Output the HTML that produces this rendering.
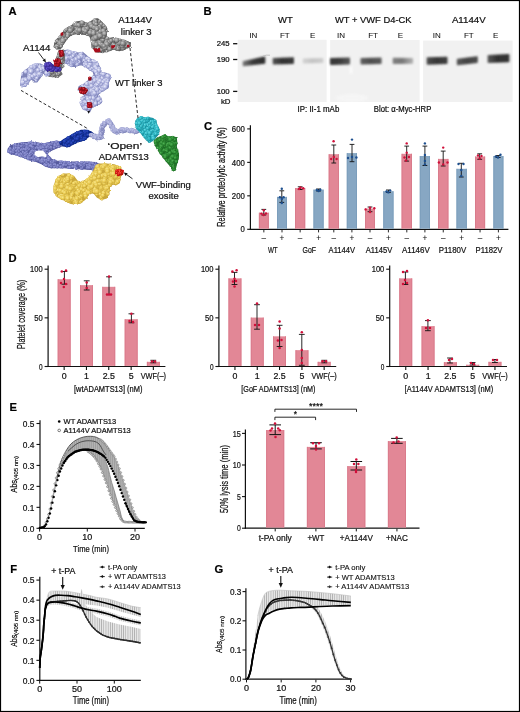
<!DOCTYPE html>
<html><head><meta charset="utf-8"><style>
html,body{margin:0;padding:0;background:#fff;width:520px;height:712px;overflow:hidden}
svg{display:block}
text{font-family:"Liberation Sans",sans-serif;stroke:#111;stroke-width:0.22px}
svg{will-change:transform}
</style></head><body>
<svg width="520" height="712" viewBox="0 0 520 712">
<defs><radialGradient id="gGray" cx="0.38" cy="0.36" r="0.7"><stop offset="0" stop-color="#cacaca"/><stop offset="0.55" stop-color="#8e8e8e"/><stop offset="1" stop-color="#505050"/></radialGradient><radialGradient id="gLav" cx="0.38" cy="0.36" r="0.7"><stop offset="0" stop-color="#eceefb"/><stop offset="0.55" stop-color="#b4b8e2"/><stop offset="1" stop-color="#7d83ba"/></radialGradient><radialGradient id="gLk" cx="0.38" cy="0.36" r="0.7"><stop offset="0" stop-color="#c8cbec"/><stop offset="0.55" stop-color="#a4a8d6"/><stop offset="1" stop-color="#7076ae"/></radialGradient><radialGradient id="gPer" cx="0.38" cy="0.36" r="0.7"><stop offset="0" stop-color="#9a9edb"/><stop offset="0.55" stop-color="#7e82c6"/><stop offset="1" stop-color="#565a9e"/></radialGradient><radialGradient id="gDB" cx="0.38" cy="0.36" r="0.7"><stop offset="0" stop-color="#3452c8"/><stop offset="0.55" stop-color="#1a38a6"/><stop offset="1" stop-color="#0c2278"/></radialGradient><radialGradient id="gCy" cx="0.38" cy="0.36" r="0.7"><stop offset="0" stop-color="#6adbe4"/><stop offset="0.55" stop-color="#2fb8c6"/><stop offset="1" stop-color="#158592"/></radialGradient><radialGradient id="gGr" cx="0.38" cy="0.36" r="0.7"><stop offset="0" stop-color="#52b056"/><stop offset="0.55" stop-color="#2c8c33"/><stop offset="1" stop-color="#18601e"/></radialGradient><radialGradient id="gYe" cx="0.38" cy="0.36" r="0.7"><stop offset="0" stop-color="#f8e68a"/><stop offset="0.55" stop-color="#e9ca52"/><stop offset="1" stop-color="#c2a033"/></radialGradient><radialGradient id="gPu" cx="0.38" cy="0.36" r="0.7"><stop offset="0" stop-color="#6a5ad0"/><stop offset="0.55" stop-color="#4a3ab0"/><stop offset="1" stop-color="#2c1e80"/></radialGradient><radialGradient id="gRed" cx="0.38" cy="0.36" r="0.7"><stop offset="0" stop-color="#ff6a50"/><stop offset="0.55" stop-color="#e01a12"/><stop offset="1" stop-color="#901010"/></radialGradient><radialGradient id="gDR" cx="0.38" cy="0.36" r="0.7"><stop offset="0" stop-color="#e04050"/><stop offset="0.55" stop-color="#b0101e"/><stop offset="1" stop-color="#700810"/></radialGradient><linearGradient id="bg0" x1="0" x2="1" y1="0" y2="0"><stop offset="0" stop-color="#777"/><stop offset="0.45" stop-color="#3a3a3a"/><stop offset="1" stop-color="#2e2e2e"/></linearGradient><linearGradient id="bg1" x1="0" x2="1" y1="0" y2="0"><stop offset="0" stop-color="#505050"/><stop offset="0.45" stop-color="#333"/><stop offset="1" stop-color="#3a3a3a"/></linearGradient><linearGradient id="bg2" x1="0" x2="1" y1="0" y2="0"><stop offset="0" stop-color="#d2d2d2"/><stop offset="0.45" stop-color="#c4c4c4"/><stop offset="1" stop-color="#cdcdcd"/></linearGradient><linearGradient id="bg3" x1="0" x2="1" y1="0" y2="0"><stop offset="0" stop-color="#363636"/><stop offset="0.45" stop-color="#3a3a3a"/><stop offset="1" stop-color="#555"/></linearGradient><linearGradient id="bg4" x1="0" x2="1" y1="0" y2="0"><stop offset="0" stop-color="#5e5e5e"/><stop offset="0.45" stop-color="#4e4e4e"/><stop offset="1" stop-color="#5a5a5a"/></linearGradient><linearGradient id="bg5" x1="0" x2="1" y1="0" y2="0"><stop offset="0" stop-color="#808080"/><stop offset="0.45" stop-color="#777"/><stop offset="1" stop-color="#b0b0b0"/></linearGradient><linearGradient id="bg6" x1="0" x2="1" y1="0" y2="0"><stop offset="0" stop-color="#4a4a4a"/><stop offset="0.45" stop-color="#383838"/><stop offset="1" stop-color="#3e3e3e"/></linearGradient><linearGradient id="bg7" x1="0" x2="1" y1="0" y2="0"><stop offset="0" stop-color="#575757"/><stop offset="0.45" stop-color="#444"/><stop offset="1" stop-color="#4a4a4a"/></linearGradient><linearGradient id="bg8" x1="0" x2="1" y1="0" y2="0"><stop offset="0" stop-color="#555"/><stop offset="0.45" stop-color="#2f2f2f"/><stop offset="1" stop-color="#333"/></linearGradient>
<filter id="blur1" x="-20%" y="-100%" width="140%" height="300%"><feGaussianBlur stdDeviation="1.05"/></filter>
<filter id="bumpy" x="-5%" y="-5%" width="110%" height="110%" color-interpolation-filters="sRGB"><feTurbulence type="fractalNoise" baseFrequency="0.35" numOctaves="1" seed="3" result="n"/><feDisplacementMap in="SourceGraphic" in2="n" scale="2.6" xChannelSelector="R" yChannelSelector="G" result="d"/><feTurbulence type="fractalNoise" baseFrequency="0.4" numOctaves="1" seed="7" result="n2"/><feDiffuseLighting in="n2" surfaceScale="1.4" diffuseConstant="1.15" lighting-color="#fff" result="light"><feDistantLight azimuth="225" elevation="50"/></feDiffuseLighting><feComposite in="d" in2="light" operator="arithmetic" k1="0.65" k2="0.42" k3="0" k4="0" result="lit"/><feComposite in="lit" in2="d" operator="in"/></filter>
<filter id="rough" x="-3%" y="-3%" width="106%" height="106%"><feTurbulence type="fractalNoise" baseFrequency="0.7" numOctaves="1" seed="5" result="n"/><feDisplacementMap in="SourceGraphic" in2="n" scale="2.2" xChannelSelector="R" yChannelSelector="G"/></filter>
<pattern id="hatch" width="1.9" height="10" patternUnits="userSpaceOnUse"><rect width="1.9" height="10" fill="#b4b4b4"/><rect width="0.7" height="10" fill="#959595"/></pattern>
<pattern id="hatchL" width="2.2" height="10" patternUnits="userSpaceOnUse"><rect width="2.2" height="10" fill="#e6e6e6"/><rect width="0.6" height="10" fill="#a0a0a0"/></pattern>
</defs>
<rect width="520" height="712" fill="#fff"/>
<rect x="0.5" y="0.5" width="519" height="711" fill="none" stroke="#000" stroke-width="1.2"/>
<text x="8.6" y="15.4" font-size="11.2" text-anchor="start" font-weight="bold" fill="#000" >A</text>
<text x="203.6" y="15.4" font-size="11.2" text-anchor="start" font-weight="bold" fill="#000" >B</text>
<text x="204.0" y="130.0" font-size="11.2" text-anchor="start" font-weight="bold" fill="#000" >C</text>
<text x="8.6" y="262.0" font-size="11.2" text-anchor="start" font-weight="bold" fill="#000" >D</text>
<text x="9.6" y="411.0" font-size="11.2" text-anchor="start" font-weight="bold" fill="#000" >E</text>
<text x="10.2" y="573.3" font-size="11.2" text-anchor="start" font-weight="bold" fill="#000" >F</text>
<text x="214.4" y="573.0" font-size="11.2" text-anchor="start" font-weight="bold" fill="#000" >G</text>
<g filter="url(#rough)">
<path d="M54.3,46.3 L55.2,41.2 L58.7,37.7 L63.0,32.5 L65.6,29.0 L70.8,26.4 L76.0,22.1 L82.0,21.2 L88.1,23.8 L91.5,21.2 L94.1,19.5 L97.6,18.7 L101.9,23.0 L105.4,26.4 L107.1,30.8 L105.4,36.0 L108.8,38.6 L114.0,37.7 L119.2,39.4 L126.2,41.2 L130.5,42.9 L129.6,46.3 L124.4,48.9 L119.2,50.7 L114.0,48.9 L108.8,50.7 L101.9,52.4 L96.7,51.5 L92.4,47.2 L91.5,40.3 L89.8,36.0 L84.6,34.2 L79.4,34.2 L74.2,33.4 L69.0,36.0 L65.6,40.3 L62.1,45.5 L60.4,48.9 L56.9,48.9 Z" fill="#5e5e5e" stroke="#5e5e5e" stroke-width="1.2" stroke-linejoin="round" />
<circle cx="75.3" cy="25.9" r="2.3" fill="url(#gGray)"/>
<circle cx="76.0" cy="27.2" r="2.7" fill="url(#gGray)"/>
<circle cx="92.8" cy="47.2" r="1.3" fill="url(#gGray)"/>
<circle cx="60.9" cy="41.5" r="2.4" fill="url(#gGray)"/>
<circle cx="95.7" cy="36.4" r="2.0" fill="url(#gGray)"/>
<circle cx="70.6" cy="34.5" r="1.6" fill="url(#gGray)"/>
<circle cx="104.8" cy="34.1" r="2.1" fill="url(#gGray)"/>
<circle cx="60.8" cy="40.1" r="2.0" fill="url(#gGray)"/>
<circle cx="70.0" cy="28.7" r="2.7" fill="url(#gGray)"/>
<circle cx="101.9" cy="31.6" r="2.4" fill="url(#gGray)"/>
<circle cx="84.4" cy="31.8" r="2.0" fill="url(#gGray)"/>
<circle cx="97.7" cy="49.7" r="2.8" fill="url(#gGray)"/>
<circle cx="79.6" cy="32.6" r="1.8" fill="url(#gGray)"/>
<circle cx="122.6" cy="48.4" r="2.1" fill="url(#gGray)"/>
<circle cx="93.3" cy="39.9" r="2.7" fill="url(#gGray)"/>
<circle cx="57.2" cy="41.3" r="2.0" fill="url(#gGray)"/>
<circle cx="63.1" cy="35.7" r="2.6" fill="url(#gGray)"/>
<circle cx="129.1" cy="45.3" r="1.7" fill="url(#gGray)"/>
<circle cx="92.6" cy="41.8" r="1.9" fill="url(#gGray)"/>
<circle cx="122.9" cy="48.0" r="2.3" fill="url(#gGray)"/>
<circle cx="100.9" cy="24.0" r="2.4" fill="url(#gGray)"/>
<circle cx="106.8" cy="41.2" r="2.9" fill="url(#gGray)"/>
<circle cx="117.6" cy="45.2" r="1.9" fill="url(#gGray)"/>
<circle cx="93.5" cy="37.9" r="2.0" fill="url(#gGray)"/>
<circle cx="108.7" cy="39.1" r="1.5" fill="url(#gGray)"/>
<circle cx="55.3" cy="42.3" r="1.3" fill="url(#gGray)"/>
<circle cx="81.9" cy="31.0" r="2.2" fill="url(#gGray)"/>
<circle cx="102.5" cy="25.2" r="2.1" fill="url(#gGray)"/>
<circle cx="96.0" cy="45.3" r="1.9" fill="url(#gGray)"/>
<circle cx="54.4" cy="46.4" r="1.0" fill="url(#gGray)"/>
<circle cx="126.9" cy="43.4" r="2.1" fill="url(#gGray)"/>
<circle cx="106.3" cy="49.4" r="2.8" fill="url(#gGray)"/>
<circle cx="86.6" cy="27.4" r="2.7" fill="url(#gGray)"/>
<circle cx="121.3" cy="43.2" r="2.2" fill="url(#gGray)"/>
<circle cx="97.3" cy="34.1" r="1.8" fill="url(#gGray)"/>
<circle cx="94.5" cy="36.1" r="2.1" fill="url(#gGray)"/>
<circle cx="69.4" cy="33.2" r="2.7" fill="url(#gGray)"/>
<circle cx="94.2" cy="38.0" r="2.0" fill="url(#gGray)"/>
<circle cx="119.9" cy="39.9" r="1.3" fill="url(#gGray)"/>
<circle cx="90.3" cy="24.5" r="2.8" fill="url(#gGray)"/>
<circle cx="90.3" cy="31.2" r="2.7" fill="url(#gGray)"/>
<circle cx="122.5" cy="46.2" r="2.2" fill="url(#gGray)"/>
<circle cx="84.1" cy="31.0" r="1.9" fill="url(#gGray)"/>
<circle cx="110.7" cy="46.0" r="2.8" fill="url(#gGray)"/>
<circle cx="108.8" cy="46.9" r="2.0" fill="url(#gGray)"/>
<circle cx="62.1" cy="37.0" r="1.9" fill="url(#gGray)"/>
<circle cx="58.9" cy="45.6" r="2.0" fill="url(#gGray)"/>
<circle cx="124.0" cy="48.4" r="1.6" fill="url(#gGray)"/>
<circle cx="100.1" cy="22.8" r="2.1" fill="url(#gGray)"/>
<circle cx="92.4" cy="24.8" r="2.4" fill="url(#gGray)"/>
<circle cx="75.6" cy="24.0" r="2.2" fill="url(#gGray)"/>
<circle cx="107.0" cy="30.9" r="1.1" fill="url(#gGray)"/>
<circle cx="105.1" cy="27.3" r="1.6" fill="url(#gGray)"/>
<circle cx="98.7" cy="29.4" r="1.9" fill="url(#gGray)"/>
<circle cx="124.1" cy="48.3" r="1.7" fill="url(#gGray)"/>
<circle cx="75.4" cy="24.4" r="2.3" fill="url(#gGray)"/>
<circle cx="93.2" cy="27.1" r="2.0" fill="url(#gGray)"/>
<circle cx="102.2" cy="33.7" r="2.5" fill="url(#gGray)"/>
<circle cx="94.7" cy="33.4" r="2.2" fill="url(#gGray)"/>
<circle cx="70.7" cy="30.4" r="2.0" fill="url(#gGray)"/>
<circle cx="102.8" cy="52.2" r="1.0" fill="url(#gGray)"/>
<circle cx="96.2" cy="35.8" r="2.9" fill="url(#gGray)"/>
<circle cx="93.9" cy="40.3" r="2.3" fill="url(#gGray)"/>
<circle cx="112.8" cy="44.5" r="2.2" fill="url(#gGray)"/>
<circle cx="93.3" cy="40.5" r="2.6" fill="url(#gGray)"/>
<circle cx="102.3" cy="44.9" r="2.1" fill="url(#gGray)"/>
<circle cx="77.0" cy="30.1" r="2.2" fill="url(#gGray)"/>
<circle cx="123.7" cy="42.3" r="2.7" fill="url(#gGray)"/>
<circle cx="94.3" cy="33.3" r="2.8" fill="url(#gGray)"/>
<circle cx="85.2" cy="31.7" r="2.8" fill="url(#gGray)"/>
<circle cx="103.1" cy="36.4" r="2.6" fill="url(#gGray)"/>
<circle cx="116.5" cy="49.0" r="1.7" fill="url(#gGray)"/>
<circle cx="97.3" cy="45.6" r="2.4" fill="url(#gGray)"/>
<circle cx="100.1" cy="34.9" r="2.1" fill="url(#gGray)"/>
<circle cx="109.2" cy="42.6" r="2.8" fill="url(#gGray)"/>
<circle cx="93.1" cy="45.3" r="2.0" fill="url(#gGray)"/>
<circle cx="105.1" cy="28.0" r="1.8" fill="url(#gGray)"/>
<circle cx="56.5" cy="46.0" r="1.9" fill="url(#gGray)"/>
<circle cx="97.4" cy="46.0" r="2.9" fill="url(#gGray)"/>
<circle cx="61.7" cy="34.9" r="1.5" fill="url(#gGray)"/>
<circle cx="102.4" cy="40.2" r="2.4" fill="url(#gGray)"/>
<circle cx="89.7" cy="33.5" r="2.7" fill="url(#gGray)"/>
<circle cx="99.8" cy="44.3" r="1.8" fill="url(#gGray)"/>
<circle cx="60.5" cy="43.5" r="2.8" fill="url(#gGray)"/>
<circle cx="95.2" cy="45.3" r="2.2" fill="url(#gGray)"/>
<circle cx="90.2" cy="24.4" r="2.3" fill="url(#gGray)"/>
<circle cx="86.9" cy="31.9" r="1.9" fill="url(#gGray)"/>
<circle cx="123.6" cy="47.5" r="2.2" fill="url(#gGray)"/>
<circle cx="118.3" cy="42.6" r="2.1" fill="url(#gGray)"/>
<circle cx="69.9" cy="28.1" r="2.2" fill="url(#gGray)"/>
<circle cx="104.7" cy="48.5" r="2.4" fill="url(#gGray)"/>
<circle cx="101.1" cy="49.7" r="2.1" fill="url(#gGray)"/>
<circle cx="79.4" cy="28.7" r="1.9" fill="url(#gGray)"/>
<circle cx="65.8" cy="38.8" r="1.8" fill="url(#gGray)"/>
<circle cx="99.5" cy="21.7" r="1.8" fill="url(#gGray)"/>
<circle cx="81.8" cy="23.9" r="2.8" fill="url(#gGray)"/>
<circle cx="90.4" cy="23.0" r="1.7" fill="url(#gGray)"/>
<circle cx="105.5" cy="35.3" r="1.1" fill="url(#gGray)"/>
<circle cx="114.1" cy="39.8" r="2.2" fill="url(#gGray)"/>
<circle cx="122.9" cy="48.1" r="2.3" fill="url(#gGray)"/>
<circle cx="74.3" cy="31.9" r="2.5" fill="url(#gGray)"/>
<circle cx="99.6" cy="26.2" r="2.0" fill="url(#gGray)"/>
<circle cx="86.3" cy="23.6" r="1.5" fill="url(#gGray)"/>
<circle cx="107.7" cy="44.4" r="2.9" fill="url(#gGray)"/>
<circle cx="56.7" cy="48.1" r="1.4" fill="url(#gGray)"/>
<circle cx="97.6" cy="29.9" r="2.5" fill="url(#gGray)"/>
<circle cx="109.5" cy="42.1" r="2.1" fill="url(#gGray)"/>
<circle cx="92.1" cy="33.3" r="2.3" fill="url(#gGray)"/>
<circle cx="84.2" cy="28.7" r="2.3" fill="url(#gGray)"/>
<circle cx="93.0" cy="38.5" r="2.0" fill="url(#gGray)"/>
<circle cx="64.3" cy="30.9" r="1.1" fill="url(#gGray)"/>
<circle cx="69.5" cy="34.5" r="2.0" fill="url(#gGray)"/>
<circle cx="107.0" cy="38.4" r="1.9" fill="url(#gGray)"/>
<circle cx="86.9" cy="31.1" r="1.9" fill="url(#gGray)"/>
<circle cx="128.9" cy="46.2" r="1.4" fill="url(#gGray)"/>
<circle cx="72.5" cy="29.0" r="2.2" fill="url(#gGray)"/>
<circle cx="68.1" cy="34.0" r="2.6" fill="url(#gGray)"/>
<circle cx="94.6" cy="20.7" r="2.0" fill="url(#gGray)"/>
<circle cx="96.9" cy="33.8" r="2.0" fill="url(#gGray)"/>
<circle cx="122.4" cy="45.7" r="2.6" fill="url(#gGray)"/>
<circle cx="105.9" cy="42.6" r="2.0" fill="url(#gGray)"/>
<circle cx="94.0" cy="44.5" r="2.2" fill="url(#gGray)"/>
<circle cx="89.6" cy="22.9" r="1.2" fill="url(#gGray)"/>
<circle cx="99.4" cy="45.8" r="1.8" fill="url(#gGray)"/>
<circle cx="95.0" cy="23.8" r="2.6" fill="url(#gGray)"/>
<circle cx="93.6" cy="32.2" r="2.7" fill="url(#gGray)"/>
<circle cx="104.2" cy="45.9" r="2.9" fill="url(#gGray)"/>
<circle cx="61.2" cy="46.0" r="1.6" fill="url(#gGray)"/>
<circle cx="60.7" cy="44.0" r="1.8" fill="url(#gGray)"/>
<circle cx="103.0" cy="39.7" r="2.1" fill="url(#gGray)"/>
<circle cx="78.4" cy="29.3" r="2.8" fill="url(#gGray)"/>
<circle cx="94.7" cy="20.2" r="1.9" fill="url(#gGray)"/>
<circle cx="72.2" cy="33.5" r="1.8" fill="url(#gGray)"/>
<circle cx="62.3" cy="43.3" r="1.9" fill="url(#gGray)"/>
<circle cx="111.1" cy="40.6" r="2.1" fill="url(#gGray)"/>
<circle cx="102.0" cy="35.3" r="2.1" fill="url(#gGray)"/>
<circle cx="91.1" cy="26.1" r="1.9" fill="url(#gGray)"/>
<circle cx="80.3" cy="32.9" r="2.0" fill="url(#gGray)"/>
<circle cx="67.9" cy="27.9" r="1.0" fill="url(#gGray)"/>
<circle cx="90.1" cy="32.6" r="2.5" fill="url(#gGray)"/>
<circle cx="97.6" cy="48.3" r="2.7" fill="url(#gGray)"/>
<circle cx="97.2" cy="35.2" r="2.6" fill="url(#gGray)"/>
<circle cx="127.3" cy="47.3" r="1.2" fill="url(#gGray)"/>
<circle cx="128.0" cy="46.7" r="1.4" fill="url(#gGray)"/>
<circle cx="125.7" cy="43.1" r="2.3" fill="url(#gGray)"/>
<circle cx="61.2" cy="38.3" r="2.1" fill="url(#gGray)"/>
<circle cx="106.1" cy="47.8" r="2.0" fill="url(#gGray)"/>
<circle cx="102.4" cy="31.3" r="2.3" fill="url(#gGray)"/>
<circle cx="101.2" cy="24.0" r="1.8" fill="url(#gGray)"/>
<circle cx="86.4" cy="25.9" r="2.1" fill="url(#gGray)"/>
<circle cx="86.7" cy="28.5" r="2.9" fill="url(#gGray)"/>
<circle cx="99.8" cy="28.6" r="2.0" fill="url(#gGray)"/>
<circle cx="95.1" cy="35.7" r="2.5" fill="url(#gGray)"/>
<circle cx="94.5" cy="22.9" r="2.3" fill="url(#gGray)"/>
<circle cx="118.2" cy="47.5" r="2.2" fill="url(#gGray)"/>
<circle cx="101.1" cy="44.2" r="2.2" fill="url(#gGray)"/>
<circle cx="76.4" cy="31.4" r="2.4" fill="url(#gGray)"/>
<circle cx="100.3" cy="32.9" r="1.9" fill="url(#gGray)"/>
<circle cx="60.6" cy="37.7" r="2.3" fill="url(#gGray)"/>
<circle cx="78.1" cy="33.0" r="2.0" fill="url(#gGray)"/>
<circle cx="90.5" cy="24.7" r="1.8" fill="url(#gGray)"/>
<circle cx="106.8" cy="44.2" r="2.6" fill="url(#gGray)"/>
<circle cx="109.4" cy="49.3" r="1.8" fill="url(#gGray)"/>
<circle cx="127.8" cy="44.2" r="1.9" fill="url(#gGray)"/>
<circle cx="97.3" cy="38.6" r="2.5" fill="url(#gGray)"/>
<circle cx="119.0" cy="42.7" r="2.8" fill="url(#gGray)"/>
<circle cx="98.7" cy="42.3" r="2.4" fill="url(#gGray)"/>
<circle cx="103.0" cy="36.3" r="2.7" fill="url(#gGray)"/>
<circle cx="96.1" cy="43.8" r="2.8" fill="url(#gGray)"/>
<circle cx="75.7" cy="24.5" r="2.6" fill="url(#gGray)"/>
<circle cx="106.8" cy="50.6" r="1.6" fill="url(#gGray)"/>
<circle cx="93.6" cy="33.2" r="2.5" fill="url(#gGray)"/>
<circle cx="107.2" cy="47.8" r="2.4" fill="url(#gGray)"/>
<circle cx="63.1" cy="39.7" r="2.3" fill="url(#gGray)"/>
<circle cx="78.5" cy="32.2" r="2.8" fill="url(#gGray)"/>
<circle cx="102.9" cy="46.0" r="1.9" fill="url(#gGray)"/>
<circle cx="93.7" cy="43.1" r="2.7" fill="url(#gGray)"/>
<circle cx="69.2" cy="31.4" r="1.9" fill="url(#gGray)"/>
<circle cx="77.1" cy="29.6" r="1.9" fill="url(#gGray)"/>
<circle cx="95.8" cy="37.8" r="2.9" fill="url(#gGray)"/>
<circle cx="99.8" cy="42.8" r="2.4" fill="url(#gGray)"/>
<circle cx="83.5" cy="29.8" r="2.3" fill="url(#gGray)"/>
<circle cx="90.5" cy="24.3" r="2.5" fill="url(#gGray)"/>
<circle cx="78.5" cy="25.2" r="2.5" fill="url(#gGray)"/>
<circle cx="71.7" cy="28.8" r="2.8" fill="url(#gGray)"/>
<circle cx="94.4" cy="38.8" r="2.2" fill="url(#gGray)"/>
<circle cx="63.0" cy="40.5" r="2.7" fill="url(#gGray)"/>
<circle cx="61.0" cy="46.4" r="1.6" fill="url(#gGray)"/>
<circle cx="98.1" cy="47.9" r="2.0" fill="url(#gGray)"/>
<circle cx="85.2" cy="25.3" r="2.0" fill="url(#gGray)"/>
<circle cx="91.6" cy="26.2" r="2.4" fill="url(#gGray)"/>
<circle cx="97.7" cy="36.7" r="2.2" fill="url(#gGray)"/>
<circle cx="126.5" cy="45.7" r="2.2" fill="url(#gGray)"/>
<circle cx="105.1" cy="47.5" r="2.7" fill="url(#gGray)"/>
<circle cx="98.7" cy="32.8" r="2.7" fill="url(#gGray)"/>
<circle cx="97.6" cy="37.0" r="2.7" fill="url(#gGray)"/>
<circle cx="67.5" cy="36.2" r="2.0" fill="url(#gGray)"/>
<circle cx="114.2" cy="45.4" r="2.1" fill="url(#gGray)"/>
<circle cx="78.8" cy="31.7" r="1.9" fill="url(#gGray)"/>
<circle cx="118.7" cy="49.0" r="2.0" fill="url(#gGray)"/>
<circle cx="94.3" cy="27.6" r="2.4" fill="url(#gGray)"/>
<circle cx="87.0" cy="34.8" r="1.2" fill="url(#gGray)"/>
<circle cx="60.0" cy="37.1" r="1.6" fill="url(#gGray)"/>
<circle cx="105.2" cy="34.1" r="1.8" fill="url(#gGray)"/>
<circle cx="103.9" cy="25.6" r="1.5" fill="url(#gGray)"/>
<circle cx="105.0" cy="47.9" r="2.3" fill="url(#gGray)"/>
<circle cx="117.8" cy="48.6" r="2.5" fill="url(#gGray)"/>
<circle cx="97.0" cy="28.3" r="2.6" fill="url(#gGray)"/>
<circle cx="99.8" cy="44.0" r="2.1" fill="url(#gGray)"/>
<circle cx="100.0" cy="35.7" r="2.9" fill="url(#gGray)"/>
<circle cx="96.0" cy="21.3" r="1.8" fill="url(#gGray)"/>
<circle cx="123.7" cy="43.8" r="2.7" fill="url(#gGray)"/>
<circle cx="122.9" cy="43.5" r="2.6" fill="url(#gGray)"/>
<circle cx="96.2" cy="44.6" r="2.3" fill="url(#gGray)"/>
<circle cx="71.8" cy="28.4" r="1.9" fill="url(#gGray)"/>
<circle cx="79.5" cy="30.2" r="2.5" fill="url(#gGray)"/>
<circle cx="71.5" cy="28.5" r="2.2" fill="url(#gGray)"/>
<circle cx="114.5" cy="47.8" r="2.2" fill="url(#gGray)"/>
<circle cx="96.2" cy="24.2" r="2.0" fill="url(#gGray)"/>
<circle cx="65.2" cy="30.8" r="1.7" fill="url(#gGray)"/>
<circle cx="66.3" cy="29.5" r="1.8" fill="url(#gGray)"/>
<circle cx="109.6" cy="49.0" r="2.3" fill="url(#gGray)"/>
<circle cx="70.4" cy="30.3" r="2.6" fill="url(#gGray)"/>
<circle cx="100.1" cy="31.2" r="2.3" fill="url(#gGray)"/>
<circle cx="85.6" cy="31.0" r="2.0" fill="url(#gGray)"/>
<circle cx="128.3" cy="45.8" r="2.1" fill="url(#gGray)"/>
<circle cx="103.4" cy="30.8" r="2.5" fill="url(#gGray)"/>
<circle cx="97.0" cy="29.2" r="2.2" fill="url(#gGray)"/>
<circle cx="116.7" cy="40.3" r="2.6" fill="url(#gGray)"/>
<circle cx="101.8" cy="44.6" r="2.0" fill="url(#gGray)"/>
<circle cx="104.6" cy="33.6" r="2.5" fill="url(#gGray)"/>
<circle cx="70.9" cy="26.6" r="1.2" fill="url(#gGray)"/>
<circle cx="73.7" cy="24.1" r="1.1" fill="url(#gGray)"/>
<circle cx="82.2" cy="22.7" r="2.3" fill="url(#gGray)"/>
<circle cx="103.9" cy="45.8" r="1.9" fill="url(#gGray)"/>
<circle cx="99.5" cy="21.1" r="1.3" fill="url(#gGray)"/>
<circle cx="95.7" cy="37.6" r="2.4" fill="url(#gGray)"/>
<path d="M46.0,71.0 L52.0,70.0 L60.0,70.5 L62.0,74.0 L58.0,77.0 L50.0,76.5 L46.0,74.5 Z" fill="#6e6e6e" stroke="#6e6e6e" stroke-width="1.2" stroke-linejoin="round" />
<circle cx="55.9" cy="71.1" r="1.8" fill="url(#gGray)"/>
<circle cx="56.6" cy="72.5" r="1.6" fill="url(#gGray)"/>
<circle cx="58.4" cy="70.7" r="1.3" fill="url(#gGray)"/>
<circle cx="57.0" cy="74.7" r="1.4" fill="url(#gGray)"/>
<circle cx="57.0" cy="74.2" r="1.7" fill="url(#gGray)"/>
<circle cx="52.5" cy="75.9" r="1.3" fill="url(#gGray)"/>
<circle cx="57.6" cy="76.8" r="1.2" fill="url(#gGray)"/>
<circle cx="46.8" cy="71.2" r="1.3" fill="url(#gGray)"/>
<circle cx="48.8" cy="74.9" r="1.3" fill="url(#gGray)"/>
<circle cx="53.6" cy="72.7" r="1.3" fill="url(#gGray)"/>
<circle cx="47.2" cy="74.8" r="1.3" fill="url(#gGray)"/>
<circle cx="53.6" cy="74.6" r="1.8" fill="url(#gGray)"/>
<circle cx="49.6" cy="73.0" r="1.6" fill="url(#gGray)"/>
<circle cx="49.8" cy="72.5" r="1.7" fill="url(#gGray)"/>
<circle cx="50.5" cy="73.3" r="2.0" fill="url(#gGray)"/>
<circle cx="54.1" cy="70.6" r="1.5" fill="url(#gGray)"/>
<circle cx="52.4" cy="72.9" r="1.7" fill="url(#gGray)"/>
<circle cx="50.4" cy="72.4" r="1.7" fill="url(#gGray)"/>
<circle cx="46.8" cy="73.2" r="1.4" fill="url(#gGray)"/>
<circle cx="52.8" cy="70.9" r="1.5" fill="url(#gGray)"/>
<circle cx="56.6" cy="71.0" r="1.6" fill="url(#gGray)"/>
<circle cx="52.0" cy="71.9" r="1.9" fill="url(#gGray)"/>
<circle cx="59.0" cy="73.5" r="1.3" fill="url(#gGray)"/>
<circle cx="59.2" cy="73.0" r="1.7" fill="url(#gGray)"/>
<path d="M93.0,48.5 L100.0,48.0 L100.5,52.0 L95.0,52.5 Z" fill="#a8101c" />
<path d="M111.0,45.5 L115.0,45.0 L115.0,48.0 L111.5,48.5 Z" fill="#a8101c" />
<path d="M60.5,33.0 L63.0,32.0 L63.5,35.0 L61.0,36.0 Z" fill="#a8101c" />
<path d="M127.0,45.0 L129.5,44.5 L129.5,47.0 L127.0,47.2 Z" fill="#a8101c" />
<path d="M20.8,85.4 L21.3,79.6 L21.9,73.8 L25.4,70.4 L28.8,68.1 L31.2,65.8 L35.8,64.0 L40.4,64.0 L43.3,65.8 L45.0,69.2 L48.5,72.7 L49.6,75.0 L46.2,75.6 L42.7,73.3 L40.4,77.3 L36.9,81.9 L33.5,81.9 L32.3,78.5 L30.0,79.6 L27.7,83.1 L25.4,86.0 L21.9,86.5 Z" fill="#7f84b8" stroke="#7f84b8" stroke-width="1.2" stroke-linejoin="round" />
<circle cx="29.3" cy="75.3" r="2.2" fill="url(#gLav)"/>
<circle cx="35.1" cy="66.6" r="2.7" fill="url(#gLav)"/>
<circle cx="31.5" cy="77.2" r="1.8" fill="url(#gLav)"/>
<circle cx="37.6" cy="69.8" r="2.1" fill="url(#gLav)"/>
<circle cx="41.6" cy="74.3" r="1.4" fill="url(#gLav)"/>
<circle cx="23.1" cy="84.2" r="2.4" fill="url(#gLav)"/>
<circle cx="36.7" cy="71.7" r="2.2" fill="url(#gLav)"/>
<circle cx="33.8" cy="72.7" r="2.7" fill="url(#gLav)"/>
<circle cx="35.3" cy="69.3" r="1.7" fill="url(#gLav)"/>
<circle cx="30.5" cy="70.1" r="2.1" fill="url(#gLav)"/>
<circle cx="22.9" cy="82.3" r="2.5" fill="url(#gLav)"/>
<circle cx="36.5" cy="66.1" r="2.0" fill="url(#gLav)"/>
<circle cx="36.1" cy="78.1" r="1.9" fill="url(#gLav)"/>
<circle cx="24.4" cy="84.9" r="2.2" fill="url(#gLav)"/>
<circle cx="30.9" cy="77.8" r="2.2" fill="url(#gLav)"/>
<circle cx="23.1" cy="82.6" r="1.9" fill="url(#gLav)"/>
<circle cx="33.7" cy="78.0" r="1.7" fill="url(#gLav)"/>
<circle cx="23.5" cy="80.2" r="2.7" fill="url(#gLav)"/>
<circle cx="38.6" cy="70.3" r="1.9" fill="url(#gLav)"/>
<circle cx="48.4" cy="73.2" r="1.3" fill="url(#gLav)"/>
<circle cx="35.5" cy="79.3" r="1.9" fill="url(#gLav)"/>
<circle cx="26.9" cy="82.9" r="1.8" fill="url(#gLav)"/>
<circle cx="39.6" cy="67.6" r="1.8" fill="url(#gLav)"/>
<circle cx="42.7" cy="68.2" r="1.8" fill="url(#gLav)"/>
<circle cx="46.2" cy="72.2" r="1.8" fill="url(#gLav)"/>
<circle cx="34.6" cy="68.9" r="2.5" fill="url(#gLav)"/>
<circle cx="31.9" cy="75.0" r="2.3" fill="url(#gLav)"/>
<circle cx="47.9" cy="74.5" r="1.8" fill="url(#gLav)"/>
<circle cx="40.9" cy="71.1" r="1.7" fill="url(#gLav)"/>
<circle cx="29.1" cy="73.4" r="1.9" fill="url(#gLav)"/>
<circle cx="36.7" cy="65.8" r="2.0" fill="url(#gLav)"/>
<circle cx="32.0" cy="71.0" r="2.6" fill="url(#gLav)"/>
<circle cx="43.7" cy="69.2" r="1.9" fill="url(#gLav)"/>
<circle cx="35.1" cy="75.1" r="2.3" fill="url(#gLav)"/>
<circle cx="46.2" cy="75.0" r="1.5" fill="url(#gLav)"/>
<circle cx="29.7" cy="76.0" r="2.0" fill="url(#gLav)"/>
<circle cx="29.8" cy="72.8" r="1.8" fill="url(#gLav)"/>
<circle cx="22.2" cy="73.8" r="1.2" fill="url(#gLav)"/>
<circle cx="35.9" cy="80.4" r="1.7" fill="url(#gLav)"/>
<circle cx="41.2" cy="75.1" r="1.4" fill="url(#gLav)"/>
<circle cx="31.9" cy="77.8" r="1.8" fill="url(#gLav)"/>
<circle cx="46.4" cy="73.2" r="2.1" fill="url(#gLav)"/>
<circle cx="41.8" cy="66.8" r="2.2" fill="url(#gLav)"/>
<circle cx="33.1" cy="77.1" r="2.5" fill="url(#gLav)"/>
<circle cx="22.6" cy="82.3" r="2.6" fill="url(#gLav)"/>
<circle cx="22.0" cy="86.4" r="1.0" fill="url(#gLav)"/>
<circle cx="40.9" cy="75.8" r="1.3" fill="url(#gLav)"/>
<circle cx="39.7" cy="66.8" r="2.2" fill="url(#gLav)"/>
<circle cx="41.1" cy="68.6" r="2.0" fill="url(#gLav)"/>
<circle cx="34.1" cy="66.4" r="2.7" fill="url(#gLav)"/>
<circle cx="38.7" cy="74.6" r="2.5" fill="url(#gLav)"/>
<circle cx="42.3" cy="69.0" r="2.3" fill="url(#gLav)"/>
<circle cx="32.5" cy="68.0" r="2.2" fill="url(#gLav)"/>
<circle cx="30.8" cy="77.4" r="2.0" fill="url(#gLav)"/>
<circle cx="38.1" cy="75.4" r="2.4" fill="url(#gLav)"/>
<circle cx="31.4" cy="67.5" r="2.4" fill="url(#gLav)"/>
<circle cx="21.9" cy="75.1" r="1.1" fill="url(#gLav)"/>
<circle cx="25.5" cy="84.9" r="1.6" fill="url(#gLav)"/>
<circle cx="30.1" cy="69.7" r="2.5" fill="url(#gLav)"/>
<circle cx="27.1" cy="81.5" r="2.4" fill="url(#gLav)"/>
<circle cx="34.2" cy="65.4" r="1.7" fill="url(#gLav)"/>
<circle cx="39.4" cy="74.0" r="2.2" fill="url(#gLav)"/>
<circle cx="36.6" cy="65.0" r="2.0" fill="url(#gLav)"/>
<circle cx="38.0" cy="70.2" r="2.1" fill="url(#gLav)"/>
<circle cx="25.7" cy="71.8" r="2.2" fill="url(#gLav)"/>
<circle cx="36.8" cy="78.0" r="1.9" fill="url(#gLav)"/>
<circle cx="31.9" cy="70.1" r="1.9" fill="url(#gLav)"/>
<circle cx="35.2" cy="64.9" r="1.6" fill="url(#gLav)"/>
<circle cx="30.1" cy="75.1" r="1.9" fill="url(#gLav)"/>
<circle cx="32.0" cy="73.0" r="1.9" fill="url(#gLav)"/>
<circle cx="25.6" cy="79.5" r="2.3" fill="url(#gLav)"/>
<circle cx="33.7" cy="67.2" r="2.6" fill="url(#gLav)"/>
<circle cx="34.6" cy="75.1" r="2.4" fill="url(#gLav)"/>
<circle cx="29.4" cy="78.1" r="2.6" fill="url(#gLav)"/>
<circle cx="31.5" cy="67.0" r="2.1" fill="url(#gLav)"/>
<circle cx="25.2" cy="79.3" r="1.9" fill="url(#gLav)"/>
<circle cx="32.4" cy="76.4" r="1.9" fill="url(#gLav)"/>
<circle cx="44.6" cy="68.5" r="1.0" fill="url(#gLav)"/>
<circle cx="43.3" cy="68.7" r="2.3" fill="url(#gLav)"/>
<circle cx="41.0" cy="69.4" r="1.7" fill="url(#gLav)"/>
<circle cx="25.8" cy="80.0" r="2.0" fill="url(#gLav)"/>
<circle cx="31.0" cy="71.2" r="2.7" fill="url(#gLav)"/>
<path d="M63.7,50.8 L67.7,50.2 L72.3,51.9 L78.1,53.1 L82.7,52.5 L86.2,55.4 L89.6,58.8 L94.2,60.6 L97.7,63.5 L100.0,68.1 L101.2,72.7 L105.8,73.3 L109.8,75.0 L110.4,78.5 L108.1,81.9 L108.1,87.7 L104.6,89.4 L101.2,91.2 L97.7,94.6 L101.2,99.2 L101.2,102.7 L96.5,105.0 L91.9,107.3 L89.6,111.9 L87.3,110.8 L82.7,108.5 L80.4,102.7 L81.5,98.1 L86.2,94.6 L82.7,93.5 L78.1,90.0 L79.2,86.5 L83.8,84.2 L89.6,79.6 L94.2,75.0 L93.1,71.5 L89.6,69.2 L85.0,65.8 L80.4,64.6 L75.8,66.3 L71.2,66.3 L67.7,64.0 L64.2,62.3 L61.9,58.8 L61.9,54.2 Z" fill="#7f84b8" stroke="#7f84b8" stroke-width="1.2" stroke-linejoin="round" />
<circle cx="104.6" cy="81.0" r="2.3" fill="url(#gLav)"/>
<circle cx="95.1" cy="67.5" r="2.1" fill="url(#gLav)"/>
<circle cx="93.1" cy="94.4" r="2.6" fill="url(#gLav)"/>
<circle cx="85.0" cy="61.0" r="1.8" fill="url(#gLav)"/>
<circle cx="93.2" cy="90.7" r="1.9" fill="url(#gLav)"/>
<circle cx="92.5" cy="83.0" r="2.5" fill="url(#gLav)"/>
<circle cx="80.0" cy="90.2" r="1.9" fill="url(#gLav)"/>
<circle cx="100.1" cy="80.1" r="1.8" fill="url(#gLav)"/>
<circle cx="66.7" cy="54.6" r="1.9" fill="url(#gLav)"/>
<circle cx="80.2" cy="90.0" r="2.2" fill="url(#gLav)"/>
<circle cx="64.2" cy="55.7" r="1.8" fill="url(#gLav)"/>
<circle cx="94.8" cy="81.0" r="1.8" fill="url(#gLav)"/>
<circle cx="96.8" cy="92.5" r="2.5" fill="url(#gLav)"/>
<circle cx="77.3" cy="63.7" r="2.3" fill="url(#gLav)"/>
<circle cx="93.8" cy="87.7" r="2.7" fill="url(#gLav)"/>
<circle cx="94.3" cy="64.9" r="1.9" fill="url(#gLav)"/>
<circle cx="101.5" cy="83.2" r="1.7" fill="url(#gLav)"/>
<circle cx="84.2" cy="102.4" r="2.2" fill="url(#gLav)"/>
<circle cx="97.4" cy="72.9" r="1.8" fill="url(#gLav)"/>
<circle cx="106.8" cy="81.4" r="2.2" fill="url(#gLav)"/>
<circle cx="80.2" cy="56.6" r="2.1" fill="url(#gLav)"/>
<circle cx="102.3" cy="90.2" r="1.4" fill="url(#gLav)"/>
<circle cx="87.6" cy="96.0" r="2.2" fill="url(#gLav)"/>
<circle cx="77.0" cy="58.8" r="1.7" fill="url(#gLav)"/>
<circle cx="93.4" cy="105.2" r="2.2" fill="url(#gLav)"/>
<circle cx="67.4" cy="61.9" r="1.9" fill="url(#gLav)"/>
<circle cx="84.4" cy="65.0" r="1.6" fill="url(#gLav)"/>
<circle cx="74.8" cy="54.2" r="2.4" fill="url(#gLav)"/>
<circle cx="96.2" cy="85.4" r="2.1" fill="url(#gLav)"/>
<circle cx="101.8" cy="76.7" r="1.8" fill="url(#gLav)"/>
<circle cx="79.5" cy="90.8" r="1.2" fill="url(#gLav)"/>
<circle cx="108.0" cy="81.9" r="1.1" fill="url(#gLav)"/>
<circle cx="90.2" cy="68.5" r="1.9" fill="url(#gLav)"/>
<circle cx="83.8" cy="93.2" r="1.6" fill="url(#gLav)"/>
<circle cx="78.0" cy="61.0" r="2.2" fill="url(#gLav)"/>
<circle cx="106.3" cy="86.2" r="2.2" fill="url(#gLav)"/>
<circle cx="94.2" cy="98.3" r="2.0" fill="url(#gLav)"/>
<circle cx="90.5" cy="67.6" r="2.1" fill="url(#gLav)"/>
<circle cx="90.0" cy="86.6" r="2.0" fill="url(#gLav)"/>
<circle cx="97.7" cy="70.6" r="2.3" fill="url(#gLav)"/>
<circle cx="87.3" cy="96.3" r="2.2" fill="url(#gLav)"/>
<circle cx="92.2" cy="93.4" r="2.6" fill="url(#gLav)"/>
<circle cx="65.4" cy="59.9" r="2.7" fill="url(#gLav)"/>
<circle cx="99.8" cy="87.2" r="2.3" fill="url(#gLav)"/>
<circle cx="99.9" cy="100.8" r="2.3" fill="url(#gLav)"/>
<circle cx="71.3" cy="62.7" r="1.9" fill="url(#gLav)"/>
<circle cx="63.8" cy="56.7" r="2.4" fill="url(#gLav)"/>
<circle cx="96.5" cy="64.6" r="1.8" fill="url(#gLav)"/>
<circle cx="87.3" cy="86.3" r="2.7" fill="url(#gLav)"/>
<circle cx="101.5" cy="80.2" r="2.2" fill="url(#gLav)"/>
<circle cx="86.2" cy="65.9" r="1.7" fill="url(#gLav)"/>
<circle cx="104.6" cy="83.0" r="1.8" fill="url(#gLav)"/>
<circle cx="86.9" cy="105.4" r="2.6" fill="url(#gLav)"/>
<circle cx="89.2" cy="102.0" r="2.0" fill="url(#gLav)"/>
<circle cx="81.6" cy="104.1" r="1.6" fill="url(#gLav)"/>
<circle cx="70.8" cy="57.6" r="2.4" fill="url(#gLav)"/>
<circle cx="79.2" cy="62.0" r="1.7" fill="url(#gLav)"/>
<circle cx="81.7" cy="52.8" r="1.2" fill="url(#gLav)"/>
<circle cx="88.5" cy="66.7" r="2.2" fill="url(#gLav)"/>
<circle cx="101.4" cy="83.7" r="2.5" fill="url(#gLav)"/>
<circle cx="94.9" cy="96.0" r="2.5" fill="url(#gLav)"/>
<circle cx="97.3" cy="84.4" r="2.1" fill="url(#gLav)"/>
<circle cx="94.0" cy="91.4" r="2.5" fill="url(#gLav)"/>
<circle cx="95.2" cy="100.1" r="2.4" fill="url(#gLav)"/>
<circle cx="104.0" cy="75.0" r="2.0" fill="url(#gLav)"/>
<circle cx="88.3" cy="86.9" r="2.1" fill="url(#gLav)"/>
<circle cx="64.4" cy="61.4" r="1.6" fill="url(#gLav)"/>
<circle cx="99.6" cy="97.9" r="1.4" fill="url(#gLav)"/>
<circle cx="66.0" cy="56.3" r="2.6" fill="url(#gLav)"/>
<circle cx="88.1" cy="58.6" r="1.9" fill="url(#gLav)"/>
<circle cx="86.5" cy="86.0" r="1.7" fill="url(#gLav)"/>
<circle cx="87.6" cy="92.3" r="2.3" fill="url(#gLav)"/>
<circle cx="95.4" cy="83.4" r="1.9" fill="url(#gLav)"/>
<circle cx="93.4" cy="69.3" r="2.3" fill="url(#gLav)"/>
<circle cx="88.1" cy="64.8" r="2.3" fill="url(#gLav)"/>
<circle cx="82.2" cy="101.8" r="2.3" fill="url(#gLav)"/>
<circle cx="104.2" cy="76.4" r="2.1" fill="url(#gLav)"/>
<circle cx="85.7" cy="60.2" r="1.9" fill="url(#gLav)"/>
<circle cx="94.2" cy="89.7" r="2.5" fill="url(#gLav)"/>
<circle cx="106.8" cy="81.7" r="2.3" fill="url(#gLav)"/>
<circle cx="84.6" cy="102.2" r="2.4" fill="url(#gLav)"/>
<circle cx="68.5" cy="64.5" r="1.0" fill="url(#gLav)"/>
<circle cx="101.4" cy="78.4" r="2.4" fill="url(#gLav)"/>
<circle cx="103.5" cy="77.8" r="2.0" fill="url(#gLav)"/>
<circle cx="94.6" cy="88.8" r="2.3" fill="url(#gLav)"/>
<circle cx="100.8" cy="81.3" r="1.8" fill="url(#gLav)"/>
<circle cx="94.6" cy="82.8" r="1.8" fill="url(#gLav)"/>
<circle cx="98.3" cy="82.0" r="1.8" fill="url(#gLav)"/>
<circle cx="108.5" cy="75.5" r="1.9" fill="url(#gLav)"/>
<circle cx="83.9" cy="98.2" r="1.9" fill="url(#gLav)"/>
<circle cx="102.3" cy="78.1" r="2.0" fill="url(#gLav)"/>
<circle cx="106.9" cy="84.7" r="2.2" fill="url(#gLav)"/>
<circle cx="92.6" cy="89.2" r="1.9" fill="url(#gLav)"/>
<circle cx="72.3" cy="52.5" r="1.6" fill="url(#gLav)"/>
<circle cx="108.8" cy="78.6" r="1.7" fill="url(#gLav)"/>
<circle cx="104.8" cy="86.7" r="1.9" fill="url(#gLav)"/>
<circle cx="87.5" cy="97.6" r="1.7" fill="url(#gLav)"/>
<circle cx="86.3" cy="92.2" r="2.6" fill="url(#gLav)"/>
<circle cx="94.6" cy="86.1" r="2.3" fill="url(#gLav)"/>
<circle cx="77.2" cy="56.6" r="2.1" fill="url(#gLav)"/>
<circle cx="68.5" cy="51.3" r="1.7" fill="url(#gLav)"/>
<circle cx="93.3" cy="66.7" r="2.3" fill="url(#gLav)"/>
<circle cx="93.8" cy="77.4" r="2.0" fill="url(#gLav)"/>
<circle cx="98.9" cy="68.6" r="2.2" fill="url(#gLav)"/>
<circle cx="75.4" cy="60.0" r="2.5" fill="url(#gLav)"/>
<circle cx="82.9" cy="57.3" r="2.7" fill="url(#gLav)"/>
<circle cx="83.7" cy="107.1" r="1.7" fill="url(#gLav)"/>
<circle cx="87.6" cy="89.2" r="2.3" fill="url(#gLav)"/>
<circle cx="65.0" cy="56.0" r="2.3" fill="url(#gLav)"/>
<circle cx="87.9" cy="93.1" r="2.5" fill="url(#gLav)"/>
<circle cx="90.3" cy="68.9" r="1.6" fill="url(#gLav)"/>
<circle cx="84.6" cy="63.9" r="1.9" fill="url(#gLav)"/>
<circle cx="70.0" cy="52.4" r="2.2" fill="url(#gLav)"/>
<circle cx="87.9" cy="99.3" r="2.3" fill="url(#gLav)"/>
<circle cx="75.3" cy="54.5" r="2.0" fill="url(#gLav)"/>
<circle cx="94.3" cy="105.3" r="1.7" fill="url(#gLav)"/>
<circle cx="80.8" cy="54.8" r="2.6" fill="url(#gLav)"/>
<circle cx="104.0" cy="75.2" r="2.2" fill="url(#gLav)"/>
<circle cx="75.0" cy="54.7" r="2.4" fill="url(#gLav)"/>
<circle cx="91.6" cy="99.1" r="1.9" fill="url(#gLav)"/>
<circle cx="87.0" cy="61.8" r="1.8" fill="url(#gLav)"/>
<circle cx="85.8" cy="61.8" r="1.9" fill="url(#gLav)"/>
<circle cx="84.4" cy="86.9" r="2.5" fill="url(#gLav)"/>
<circle cx="90.4" cy="87.3" r="2.3" fill="url(#gLav)"/>
<circle cx="89.4" cy="93.3" r="2.3" fill="url(#gLav)"/>
<circle cx="77.0" cy="64.2" r="2.0" fill="url(#gLav)"/>
<circle cx="99.0" cy="71.5" r="2.0" fill="url(#gLav)"/>
<circle cx="73.5" cy="53.7" r="2.6" fill="url(#gLav)"/>
<circle cx="93.4" cy="67.3" r="2.7" fill="url(#gLav)"/>
<circle cx="95.4" cy="79.9" r="2.5" fill="url(#gLav)"/>
<circle cx="101.4" cy="73.8" r="1.8" fill="url(#gLav)"/>
<circle cx="105.4" cy="75.4" r="1.8" fill="url(#gLav)"/>
<circle cx="73.1" cy="55.9" r="1.7" fill="url(#gLav)"/>
<circle cx="90.8" cy="91.9" r="2.4" fill="url(#gLav)"/>
<circle cx="85.1" cy="106.1" r="2.5" fill="url(#gLav)"/>
<circle cx="95.6" cy="66.9" r="2.4" fill="url(#gLav)"/>
<circle cx="95.9" cy="84.9" r="2.7" fill="url(#gLav)"/>
<circle cx="94.9" cy="102.9" r="2.7" fill="url(#gLav)"/>
<circle cx="86.2" cy="89.4" r="2.0" fill="url(#gLav)"/>
<circle cx="73.8" cy="62.4" r="2.3" fill="url(#gLav)"/>
<circle cx="109.5" cy="76.0" r="1.5" fill="url(#gLav)"/>
<circle cx="88.0" cy="111.1" r="1.1" fill="url(#gLav)"/>
<circle cx="87.4" cy="92.1" r="2.4" fill="url(#gLav)"/>
<circle cx="92.6" cy="86.7" r="2.5" fill="url(#gLav)"/>
<circle cx="92.3" cy="70.9" r="1.1" fill="url(#gLav)"/>
<circle cx="100.1" cy="101.2" r="2.1" fill="url(#gLav)"/>
<circle cx="71.3" cy="65.1" r="2.1" fill="url(#gLav)"/>
<circle cx="102.0" cy="83.6" r="2.6" fill="url(#gLav)"/>
<circle cx="89.7" cy="83.2" r="2.5" fill="url(#gLav)"/>
<circle cx="98.4" cy="75.8" r="2.5" fill="url(#gLav)"/>
<circle cx="75.7" cy="61.6" r="2.1" fill="url(#gLav)"/>
<circle cx="97.9" cy="73.3" r="2.2" fill="url(#gLav)"/>
<circle cx="87.3" cy="87.0" r="2.3" fill="url(#gLav)"/>
<circle cx="98.9" cy="78.7" r="1.7" fill="url(#gLav)"/>
<circle cx="97.4" cy="63.8" r="1.4" fill="url(#gLav)"/>
<circle cx="93.0" cy="61.0" r="1.9" fill="url(#gLav)"/>
<circle cx="104.2" cy="74.3" r="1.9" fill="url(#gLav)"/>
<circle cx="95.8" cy="87.7" r="2.4" fill="url(#gLav)"/>
<circle cx="91.9" cy="90.7" r="2.6" fill="url(#gLav)"/>
<circle cx="97.4" cy="84.7" r="2.5" fill="url(#gLav)"/>
<circle cx="109.8" cy="77.5" r="1.5" fill="url(#gLav)"/>
<circle cx="80.7" cy="90.7" r="1.9" fill="url(#gLav)"/>
<circle cx="106.8" cy="85.3" r="2.1" fill="url(#gLav)"/>
<circle cx="92.4" cy="83.1" r="2.1" fill="url(#gLav)"/>
<circle cx="93.7" cy="98.7" r="2.1" fill="url(#gLav)"/>
<circle cx="102.0" cy="89.2" r="2.5" fill="url(#gLav)"/>
<circle cx="91.1" cy="65.0" r="2.3" fill="url(#gLav)"/>
<circle cx="87.7" cy="102.9" r="2.0" fill="url(#gLav)"/>
<circle cx="84.0" cy="60.4" r="1.7" fill="url(#gLav)"/>
<circle cx="87.8" cy="58.8" r="2.0" fill="url(#gLav)"/>
<circle cx="65.1" cy="61.2" r="2.2" fill="url(#gLav)"/>
<circle cx="89.5" cy="99.2" r="1.7" fill="url(#gLav)"/>
<circle cx="101.9" cy="86.2" r="2.1" fill="url(#gLav)"/>
<circle cx="81.8" cy="91.0" r="2.4" fill="url(#gLav)"/>
<circle cx="100.4" cy="98.1" r="1.0" fill="url(#gLav)"/>
<circle cx="107.0" cy="79.8" r="2.7" fill="url(#gLav)"/>
<circle cx="75.7" cy="59.3" r="2.4" fill="url(#gLav)"/>
<circle cx="98.8" cy="96.1" r="1.0" fill="url(#gLav)"/>
<circle cx="67.1" cy="52.2" r="1.9" fill="url(#gLav)"/>
<circle cx="64.3" cy="57.8" r="1.8" fill="url(#gLav)"/>
<circle cx="64.4" cy="59.9" r="1.8" fill="url(#gLav)"/>
<circle cx="86.3" cy="64.6" r="1.8" fill="url(#gLav)"/>
<circle cx="94.2" cy="92.7" r="2.3" fill="url(#gLav)"/>
<circle cx="90.1" cy="64.3" r="2.1" fill="url(#gLav)"/>
<circle cx="99.0" cy="103.2" r="1.5" fill="url(#gLav)"/>
<circle cx="98.0" cy="79.4" r="2.4" fill="url(#gLav)"/>
<circle cx="100.9" cy="84.4" r="2.1" fill="url(#gLav)"/>
<circle cx="103.4" cy="74.2" r="2.0" fill="url(#gLav)"/>
<circle cx="72.3" cy="52.3" r="1.4" fill="url(#gLav)"/>
<circle cx="98.6" cy="99.2" r="2.3" fill="url(#gLav)"/>
<circle cx="62.4" cy="55.3" r="1.5" fill="url(#gLav)"/>
<circle cx="93.8" cy="93.9" r="2.7" fill="url(#gLav)"/>
<circle cx="86.4" cy="103.8" r="2.5" fill="url(#gLav)"/>
<circle cx="80.1" cy="57.2" r="2.5" fill="url(#gLav)"/>
<circle cx="96.6" cy="68.7" r="2.1" fill="url(#gLav)"/>
<circle cx="97.0" cy="80.2" r="2.2" fill="url(#gLav)"/>
<circle cx="103.1" cy="86.2" r="2.6" fill="url(#gLav)"/>
<circle cx="82.7" cy="104.0" r="2.4" fill="url(#gLav)"/>
<circle cx="98.2" cy="82.1" r="1.9" fill="url(#gLav)"/>
<circle cx="79.5" cy="57.7" r="2.0" fill="url(#gLav)"/>
<circle cx="88.8" cy="66.6" r="2.1" fill="url(#gLav)"/>
<circle cx="86.1" cy="87.4" r="1.7" fill="url(#gLav)"/>
<circle cx="82.2" cy="97.6" r="1.0" fill="url(#gLav)"/>
<circle cx="100.8" cy="83.9" r="2.4" fill="url(#gLav)"/>
<circle cx="64.1" cy="53.4" r="2.2" fill="url(#gLav)"/>
<circle cx="92.6" cy="82.3" r="2.4" fill="url(#gLav)"/>
<circle cx="68.4" cy="57.9" r="2.1" fill="url(#gLav)"/>
<circle cx="104.8" cy="81.0" r="2.4" fill="url(#gLav)"/>
<circle cx="93.6" cy="90.4" r="2.4" fill="url(#gLav)"/>
<circle cx="99.5" cy="91.6" r="1.9" fill="url(#gLav)"/>
<circle cx="89.1" cy="108.3" r="1.8" fill="url(#gLav)"/>
<circle cx="81.1" cy="102.6" r="1.7" fill="url(#gLav)"/>
<circle cx="63.1" cy="59.9" r="1.4" fill="url(#gLav)"/>
<circle cx="71.6" cy="63.3" r="1.9" fill="url(#gLav)"/>
<circle cx="84.4" cy="65.6" r="1.1" fill="url(#gLav)"/>
<circle cx="63.1" cy="59.5" r="1.7" fill="url(#gLav)"/>
<circle cx="87.2" cy="94.0" r="2.2" fill="url(#gLav)"/>
<circle cx="88.9" cy="103.5" r="2.3" fill="url(#gLav)"/>
<circle cx="103.3" cy="89.5" r="1.5" fill="url(#gLav)"/>
<circle cx="94.6" cy="93.0" r="2.4" fill="url(#gLav)"/>
<circle cx="99.0" cy="70.4" r="2.3" fill="url(#gLav)"/>
<circle cx="105.2" cy="82.8" r="2.2" fill="url(#gLav)"/>
<circle cx="105.2" cy="84.2" r="2.1" fill="url(#gLav)"/>
<circle cx="64.3" cy="54.2" r="1.8" fill="url(#gLav)"/>
<circle cx="93.5" cy="70.0" r="2.0" fill="url(#gLav)"/>
<circle cx="87.0" cy="58.6" r="2.2" fill="url(#gLav)"/>
<circle cx="92.2" cy="101.6" r="2.5" fill="url(#gLav)"/>
<circle cx="84.4" cy="108.2" r="2.0" fill="url(#gLav)"/>
<circle cx="87.4" cy="104.8" r="2.2" fill="url(#gLav)"/>
<circle cx="86.6" cy="93.2" r="2.5" fill="url(#gLav)"/>
<circle cx="104.7" cy="88.7" r="1.6" fill="url(#gLav)"/>
<circle cx="107.9" cy="76.1" r="2.5" fill="url(#gLav)"/>
<circle cx="106.4" cy="84.5" r="2.5" fill="url(#gLav)"/>
<circle cx="89.1" cy="59.2" r="1.7" fill="url(#gLav)"/>
<circle cx="85.9" cy="92.4" r="2.6" fill="url(#gLav)"/>
<circle cx="73.0" cy="61.3" r="2.6" fill="url(#gLav)"/>
<circle cx="91.3" cy="82.1" r="1.8" fill="url(#gLav)"/>
<circle cx="96.9" cy="89.5" r="2.5" fill="url(#gLav)"/>
<circle cx="105.3" cy="87.0" r="2.5" fill="url(#gLav)"/>
<circle cx="84.8" cy="89.4" r="2.3" fill="url(#gLav)"/>
<circle cx="85.9" cy="107.5" r="2.2" fill="url(#gLav)"/>
<circle cx="93.2" cy="98.1" r="2.4" fill="url(#gLav)"/>
<circle cx="75.8" cy="52.7" r="1.1" fill="url(#gLav)"/>
<circle cx="64.1" cy="60.0" r="1.8" fill="url(#gLav)"/>
<circle cx="100.0" cy="81.0" r="2.4" fill="url(#gLav)"/>
<circle cx="88.9" cy="61.0" r="2.1" fill="url(#gLav)"/>
<circle cx="107.5" cy="81.6" r="1.7" fill="url(#gLav)"/>
<circle cx="69.7" cy="53.3" r="2.1" fill="url(#gLav)"/>
<circle cx="88.1" cy="104.4" r="2.7" fill="url(#gLav)"/>
<circle cx="101.0" cy="101.1" r="1.2" fill="url(#gLav)"/>
<circle cx="100.2" cy="92.1" r="1.1" fill="url(#gLav)"/>
<circle cx="81.9" cy="88.6" r="2.4" fill="url(#gLav)"/>
<circle cx="82.5" cy="85.7" r="1.7" fill="url(#gLav)"/>
<circle cx="93.4" cy="88.3" r="1.8" fill="url(#gLav)"/>
<circle cx="95.7" cy="71.5" r="2.1" fill="url(#gLav)"/>
<circle cx="91.9" cy="68.4" r="1.7" fill="url(#gLav)"/>
<circle cx="85.5" cy="102.3" r="1.7" fill="url(#gLav)"/>
<circle cx="96.7" cy="74.1" r="2.0" fill="url(#gLav)"/>
<circle cx="82.3" cy="99.1" r="1.8" fill="url(#gLav)"/>
<circle cx="72.4" cy="60.4" r="1.8" fill="url(#gLav)"/>
<circle cx="91.5" cy="85.9" r="2.1" fill="url(#gLav)"/>
<circle cx="86.9" cy="83.8" r="2.4" fill="url(#gLav)"/>
<circle cx="81.3" cy="56.4" r="2.3" fill="url(#gLav)"/>
<circle cx="88.9" cy="102.1" r="2.5" fill="url(#gLav)"/>
<circle cx="90.5" cy="69.4" r="1.3" fill="url(#gLav)"/>
<circle cx="103.1" cy="81.8" r="1.9" fill="url(#gLav)"/>
<circle cx="97.4" cy="64.5" r="1.7" fill="url(#gLav)"/>
<circle cx="90.3" cy="97.7" r="1.8" fill="url(#gLav)"/>
<circle cx="79.0" cy="57.5" r="1.9" fill="url(#gLav)"/>
<circle cx="95.6" cy="103.6" r="2.1" fill="url(#gLav)"/>
<circle cx="95.9" cy="62.2" r="1.1" fill="url(#gLav)"/>
<circle cx="94.6" cy="80.5" r="2.0" fill="url(#gLav)"/>
<circle cx="98.7" cy="82.8" r="1.9" fill="url(#gLav)"/>
<circle cx="66.6" cy="58.2" r="2.2" fill="url(#gLav)"/>
<circle cx="83.5" cy="87.9" r="2.0" fill="url(#gLav)"/>
<circle cx="94.3" cy="61.6" r="1.7" fill="url(#gLav)"/>
<path d="M56.5,58.0 L59.5,50.5 L63.5,50.3 L64.5,57.0 L63.5,66.0 L60.5,70.0 L57.0,67.0 Z" fill="#6e6e6e" stroke="#6e6e6e" stroke-width="1.2" stroke-linejoin="round" />
<circle cx="58.1" cy="57.5" r="1.1" fill="url(#gGray)"/>
<circle cx="60.3" cy="63.5" r="1.3" fill="url(#gGray)"/>
<circle cx="62.0" cy="61.2" r="1.5" fill="url(#gGray)"/>
<circle cx="60.7" cy="55.3" r="1.4" fill="url(#gGray)"/>
<circle cx="56.8" cy="59.0" r="1.3" fill="url(#gGray)"/>
<circle cx="56.8" cy="60.2" r="1.1" fill="url(#gGray)"/>
<circle cx="57.8" cy="63.8" r="1.2" fill="url(#gGray)"/>
<circle cx="61.6" cy="53.4" r="1.3" fill="url(#gGray)"/>
<circle cx="59.9" cy="57.5" r="1.4" fill="url(#gGray)"/>
<circle cx="57.1" cy="59.6" r="1.3" fill="url(#gGray)"/>
<circle cx="62.9" cy="55.4" r="1.6" fill="url(#gGray)"/>
<circle cx="63.3" cy="54.0" r="1.2" fill="url(#gGray)"/>
<circle cx="63.2" cy="62.3" r="1.1" fill="url(#gGray)"/>
<circle cx="60.4" cy="65.2" r="1.4" fill="url(#gGray)"/>
<circle cx="61.1" cy="61.9" r="1.3" fill="url(#gGray)"/>
<circle cx="63.2" cy="50.4" r="1.1" fill="url(#gGray)"/>
<circle cx="62.3" cy="54.5" r="1.5" fill="url(#gGray)"/>
<circle cx="59.0" cy="52.6" r="1.3" fill="url(#gGray)"/>
<circle cx="63.0" cy="66.2" r="1.3" fill="url(#gGray)"/>
<circle cx="60.5" cy="69.4" r="1.4" fill="url(#gGray)"/>
<circle cx="57.6" cy="63.6" r="1.4" fill="url(#gGray)"/>
<circle cx="62.3" cy="57.0" r="1.3" fill="url(#gGray)"/>
<circle cx="62.9" cy="54.3" r="1.6" fill="url(#gGray)"/>
<circle cx="59.5" cy="64.4" r="1.2" fill="url(#gGray)"/>
<circle cx="58.7" cy="53.2" r="1.3" fill="url(#gGray)"/>
<circle cx="60.4" cy="54.9" r="1.2" fill="url(#gGray)"/>
<circle cx="62.4" cy="52.9" r="1.4" fill="url(#gGray)"/>
<circle cx="58.6" cy="63.8" r="1.5" fill="url(#gGray)"/>
<circle cx="61.3" cy="58.1" r="1.2" fill="url(#gGray)"/>
<circle cx="59.6" cy="64.5" r="1.7" fill="url(#gGray)"/>
<circle cx="58.9" cy="55.6" r="1.5" fill="url(#gGray)"/>
<circle cx="58.2" cy="56.1" r="1.4" fill="url(#gGray)"/>
<circle cx="61.6" cy="61.3" r="1.4" fill="url(#gGray)"/>
<path d="M45.0,63.5 L49.6,62.3 L53.1,65.2 L57.7,66.3 L60.6,68.1 L60.0,71.0 L54.2,71.5 L48.5,70.4 L45.0,68.7 Z" fill="#3a2a95" stroke="#3a2a95" stroke-width="1.2" stroke-linejoin="round" />
<circle cx="51.1" cy="68.6" r="1.3" fill="url(#gPu)"/>
<circle cx="46.9" cy="64.1" r="1.5" fill="url(#gPu)"/>
<circle cx="57.3" cy="67.5" r="1.3" fill="url(#gPu)"/>
<circle cx="50.9" cy="64.9" r="1.3" fill="url(#gPu)"/>
<circle cx="59.9" cy="70.0" r="1.3" fill="url(#gPu)"/>
<circle cx="47.1" cy="67.2" r="1.6" fill="url(#gPu)"/>
<circle cx="47.3" cy="69.1" r="1.6" fill="url(#gPu)"/>
<circle cx="48.4" cy="67.7" r="1.6" fill="url(#gPu)"/>
<circle cx="51.2" cy="68.3" r="1.9" fill="url(#gPu)"/>
<circle cx="48.2" cy="70.0" r="1.2" fill="url(#gPu)"/>
<circle cx="54.4" cy="68.7" r="1.3" fill="url(#gPu)"/>
<circle cx="52.1" cy="69.7" r="1.6" fill="url(#gPu)"/>
<circle cx="49.8" cy="63.9" r="1.7" fill="url(#gPu)"/>
<circle cx="57.4" cy="69.0" r="1.4" fill="url(#gPu)"/>
<circle cx="60.2" cy="69.4" r="1.2" fill="url(#gPu)"/>
<circle cx="46.8" cy="64.4" r="1.8" fill="url(#gPu)"/>
<circle cx="47.2" cy="69.0" r="1.7" fill="url(#gPu)"/>
<circle cx="58.5" cy="68.3" r="1.4" fill="url(#gPu)"/>
<circle cx="51.2" cy="70.7" r="1.2" fill="url(#gPu)"/>
<circle cx="53.5" cy="68.5" r="1.3" fill="url(#gPu)"/>
<circle cx="52.8" cy="69.6" r="1.4" fill="url(#gPu)"/>
<circle cx="56.1" cy="70.2" r="1.6" fill="url(#gPu)"/>
<circle cx="48.1" cy="65.3" r="1.5" fill="url(#gPu)"/>
<circle cx="45.7" cy="63.4" r="1.1" fill="url(#gPu)"/>
<circle cx="45.6" cy="65.4" r="1.5" fill="url(#gPu)"/>
<circle cx="50.8" cy="67.9" r="1.7" fill="url(#gPu)"/>
<path d="M54.2,59.8 L59.5,59.2 L60.4,63.0 L58.8,66.3 L54.8,65.5 Z" fill="#8a0c18" stroke="#8a0c18" stroke-width="1.2" stroke-linejoin="round" />
<circle cx="55.0" cy="60.2" r="1.1" fill="url(#gDR)"/>
<circle cx="56.4" cy="59.9" r="1.3" fill="url(#gDR)"/>
<circle cx="55.1" cy="63.0" r="1.1" fill="url(#gDR)"/>
<circle cx="55.9" cy="62.5" r="1.1" fill="url(#gDR)"/>
<circle cx="58.4" cy="64.8" r="1.5" fill="url(#gDR)"/>
<circle cx="57.2" cy="65.3" r="1.2" fill="url(#gDR)"/>
<circle cx="54.5" cy="60.6" r="1.2" fill="url(#gDR)"/>
<circle cx="58.8" cy="63.3" r="1.4" fill="url(#gDR)"/>
<circle cx="58.5" cy="62.7" r="1.4" fill="url(#gDR)"/>
<circle cx="59.3" cy="60.0" r="1.1" fill="url(#gDR)"/>
<circle cx="55.1" cy="65.3" r="1.2" fill="url(#gDR)"/>
<circle cx="59.5" cy="61.3" r="1.4" fill="url(#gDR)"/>
<path d="M59.0,50.8 L62.8,50.6 L63.3,55.8 L60.2,56.8 Z" fill="#8a0c18" stroke="#8a0c18" stroke-width="1.2" stroke-linejoin="round" />
<circle cx="61.6" cy="51.5" r="1.3" fill="url(#gDR)"/>
<circle cx="62.0" cy="51.8" r="1.2" fill="url(#gDR)"/>
<circle cx="61.1" cy="53.9" r="1.1" fill="url(#gDR)"/>
<circle cx="60.0" cy="52.3" r="1.1" fill="url(#gDR)"/>
<circle cx="62.2" cy="53.4" r="1.5" fill="url(#gDR)"/>
<circle cx="62.2" cy="54.9" r="1.3" fill="url(#gDR)"/>
<path d="M79.2,88.2 L84.5,87.7 L87.5,90.5 L85.0,93.8 L80.5,92.8 Z" fill="#8a0c18" stroke="#8a0c18" stroke-width="1.2" stroke-linejoin="round" />
<circle cx="86.4" cy="89.7" r="1.1" fill="url(#gDR)"/>
<circle cx="81.8" cy="91.7" r="1.1" fill="url(#gDR)"/>
<circle cx="83.1" cy="92.1" r="1.4" fill="url(#gDR)"/>
<circle cx="83.6" cy="88.9" r="1.3" fill="url(#gDR)"/>
<circle cx="85.5" cy="91.6" r="1.2" fill="url(#gDR)"/>
<circle cx="80.3" cy="89.0" r="1.5" fill="url(#gDR)"/>
<circle cx="84.3" cy="92.9" r="1.3" fill="url(#gDR)"/>
<circle cx="79.5" cy="89.2" r="1.0" fill="url(#gDR)"/>
<circle cx="83.1" cy="93.0" r="1.2" fill="url(#gDR)"/>
<circle cx="79.5" cy="89.3" r="1.0" fill="url(#gDR)"/>
<circle cx="80.8" cy="91.8" r="1.6" fill="url(#gDR)"/>
<circle cx="82.8" cy="92.9" r="1.0" fill="url(#gDR)"/>
<path d="M87.5,102.7 L91.5,103.0 L92.0,106.8 L88.0,107.5 Z" fill="#8a0c18" stroke="#8a0c18" stroke-width="1.2" stroke-linejoin="round" />
<circle cx="89.1" cy="104.0" r="1.2" fill="url(#gDR)"/>
<circle cx="90.2" cy="103.7" r="1.5" fill="url(#gDR)"/>
<circle cx="88.0" cy="105.4" r="1.2" fill="url(#gDR)"/>
<circle cx="90.8" cy="106.4" r="1.2" fill="url(#gDR)"/>
<circle cx="90.2" cy="106.7" r="1.4" fill="url(#gDR)"/>
<circle cx="88.4" cy="106.3" r="1.2" fill="url(#gDR)"/>
<path d="M88.8,77.6 L91.0,77.6 L90.7,79.8 L88.8,79.8 Z" fill="#8a0c18" stroke="#8a0c18" stroke-width="1.2" stroke-linejoin="round" />
<circle cx="89.7" cy="77.8" r="1.2" fill="url(#gDR)"/>
<path d="M87.3,110.8 L90.2,110.8 L88.6,113.8 Z" fill="#111" />
<path d="M8.1,149.2 L10.4,145.8 L17.3,143.5 L23.1,142.9 L30.0,142.3 L34.6,142.3 L40.4,143.5 L46.2,143.5 L51.9,142.0 L56.5,141.2 L60.0,142.3 L62.0,143.5 L61.0,146.5 L58.0,147.5 L53.1,149.5 L48.5,151.8 L46.5,154.0 L51.9,159.6 L56.0,161.0 L61.5,161.5 L73.1,162.1 L84.6,162.1 L96.2,162.7 L99.0,164.5 L96.0,168.5 L93.8,169.6 L84.6,169.0 L73.1,168.5 L61.5,167.3 L51.9,167.7 L46.2,166.5 L42.7,164.2 L34.6,160.8 L28.8,159.6 L23.1,157.3 L17.3,155.0 L11.5,153.8 L8.1,152.1 Z" fill="#565a9e" stroke="#565a9e" stroke-width="1.2" stroke-linejoin="round" />
<circle cx="94.8" cy="165.8" r="1.5" fill="url(#gPer)"/>
<circle cx="36.9" cy="147.4" r="1.5" fill="url(#gPer)"/>
<circle cx="44.8" cy="161.3" r="1.2" fill="url(#gPer)"/>
<circle cx="11.2" cy="150.5" r="1.6" fill="url(#gPer)"/>
<circle cx="93.0" cy="165.4" r="1.3" fill="url(#gPer)"/>
<circle cx="34.2" cy="150.4" r="1.5" fill="url(#gPer)"/>
<circle cx="44.6" cy="164.2" r="1.5" fill="url(#gPer)"/>
<circle cx="55.1" cy="163.7" r="1.3" fill="url(#gPer)"/>
<circle cx="29.3" cy="146.4" r="1.3" fill="url(#gPer)"/>
<circle cx="91.0" cy="163.2" r="1.6" fill="url(#gPer)"/>
<circle cx="38.8" cy="149.6" r="1.1" fill="url(#gPer)"/>
<circle cx="19.8" cy="155.4" r="1.5" fill="url(#gPer)"/>
<circle cx="83.7" cy="165.5" r="1.6" fill="url(#gPer)"/>
<circle cx="54.3" cy="147.6" r="1.6" fill="url(#gPer)"/>
<circle cx="55.2" cy="144.6" r="1.2" fill="url(#gPer)"/>
<circle cx="51.9" cy="162.8" r="1.1" fill="url(#gPer)"/>
<circle cx="61.8" cy="166.7" r="1.5" fill="url(#gPer)"/>
<circle cx="56.7" cy="146.5" r="1.2" fill="url(#gPer)"/>
<circle cx="89.6" cy="167.2" r="1.7" fill="url(#gPer)"/>
<circle cx="53.8" cy="164.1" r="1.4" fill="url(#gPer)"/>
<circle cx="91.7" cy="166.7" r="1.4" fill="url(#gPer)"/>
<circle cx="28.8" cy="156.8" r="1.6" fill="url(#gPer)"/>
<circle cx="51.6" cy="166.0" r="1.1" fill="url(#gPer)"/>
<circle cx="24.5" cy="155.0" r="1.5" fill="url(#gPer)"/>
<circle cx="30.1" cy="153.6" r="1.5" fill="url(#gPer)"/>
<circle cx="94.7" cy="167.0" r="1.4" fill="url(#gPer)"/>
<circle cx="76.8" cy="168.3" r="1.2" fill="url(#gPer)"/>
<circle cx="82.8" cy="167.0" r="1.0" fill="url(#gPer)"/>
<circle cx="49.5" cy="161.4" r="1.3" fill="url(#gPer)"/>
<circle cx="28.7" cy="149.2" r="1.3" fill="url(#gPer)"/>
<circle cx="55.8" cy="146.4" r="1.3" fill="url(#gPer)"/>
<circle cx="31.5" cy="151.2" r="1.4" fill="url(#gPer)"/>
<circle cx="34.1" cy="150.4" r="1.7" fill="url(#gPer)"/>
<circle cx="17.6" cy="146.3" r="1.3" fill="url(#gPer)"/>
<circle cx="66.8" cy="162.5" r="1.4" fill="url(#gPer)"/>
<circle cx="74.2" cy="163.5" r="1.1" fill="url(#gPer)"/>
<circle cx="78.0" cy="163.8" r="1.4" fill="url(#gPer)"/>
<circle cx="48.2" cy="164.1" r="1.5" fill="url(#gPer)"/>
<circle cx="10.8" cy="149.4" r="1.6" fill="url(#gPer)"/>
<circle cx="46.6" cy="143.9" r="1.4" fill="url(#gPer)"/>
<circle cx="95.8" cy="167.6" r="1.3" fill="url(#gPer)"/>
<circle cx="62.8" cy="166.4" r="1.5" fill="url(#gPer)"/>
<circle cx="32.6" cy="144.2" r="1.6" fill="url(#gPer)"/>
<circle cx="23.8" cy="153.2" r="1.1" fill="url(#gPer)"/>
<circle cx="23.1" cy="156.6" r="1.1" fill="url(#gPer)"/>
<circle cx="29.6" cy="154.6" r="1.6" fill="url(#gPer)"/>
<circle cx="30.0" cy="159.1" r="1.4" fill="url(#gPer)"/>
<circle cx="30.5" cy="142.4" r="1.1" fill="url(#gPer)"/>
<circle cx="44.7" cy="157.6" r="1.3" fill="url(#gPer)"/>
<circle cx="17.4" cy="148.2" r="1.6" fill="url(#gPer)"/>
<circle cx="74.6" cy="167.7" r="1.5" fill="url(#gPer)"/>
<circle cx="51.4" cy="148.9" r="1.1" fill="url(#gPer)"/>
<circle cx="87.3" cy="167.8" r="1.6" fill="url(#gPer)"/>
<circle cx="31.3" cy="153.9" r="1.4" fill="url(#gPer)"/>
<circle cx="88.8" cy="165.2" r="1.2" fill="url(#gPer)"/>
<circle cx="30.1" cy="152.8" r="1.1" fill="url(#gPer)"/>
<circle cx="90.9" cy="167.5" r="1.4" fill="url(#gPer)"/>
<circle cx="71.0" cy="166.9" r="1.2" fill="url(#gPer)"/>
<circle cx="8.8" cy="150.9" r="1.3" fill="url(#gPer)"/>
<circle cx="45.2" cy="152.3" r="1.4" fill="url(#gPer)"/>
<circle cx="32.9" cy="148.5" r="1.3" fill="url(#gPer)"/>
<circle cx="65.6" cy="164.6" r="1.6" fill="url(#gPer)"/>
<circle cx="56.9" cy="146.0" r="1.6" fill="url(#gPer)"/>
<circle cx="54.6" cy="144.2" r="1.4" fill="url(#gPer)"/>
<circle cx="33.5" cy="157.9" r="1.2" fill="url(#gPer)"/>
<circle cx="10.7" cy="153.0" r="1.4" fill="url(#gPer)"/>
<circle cx="31.0" cy="142.5" r="1.2" fill="url(#gPer)"/>
<circle cx="47.7" cy="156.2" r="1.3" fill="url(#gPer)"/>
<circle cx="77.0" cy="164.3" r="1.4" fill="url(#gPer)"/>
<circle cx="29.3" cy="145.9" r="1.2" fill="url(#gPer)"/>
<circle cx="84.1" cy="163.8" r="1.3" fill="url(#gPer)"/>
<circle cx="37.6" cy="147.7" r="1.6" fill="url(#gPer)"/>
<circle cx="41.8" cy="147.4" r="1.5" fill="url(#gPer)"/>
<circle cx="80.0" cy="165.7" r="1.3" fill="url(#gPer)"/>
<circle cx="29.9" cy="158.9" r="1.2" fill="url(#gPer)"/>
<circle cx="28.2" cy="147.0" r="1.5" fill="url(#gPer)"/>
<circle cx="24.0" cy="146.3" r="1.3" fill="url(#gPer)"/>
<circle cx="30.5" cy="152.8" r="1.6" fill="url(#gPer)"/>
<circle cx="30.9" cy="145.1" r="1.7" fill="url(#gPer)"/>
<circle cx="23.1" cy="147.9" r="1.2" fill="url(#gPer)"/>
<circle cx="19.9" cy="153.1" r="1.3" fill="url(#gPer)"/>
<circle cx="87.6" cy="167.4" r="1.7" fill="url(#gPer)"/>
<circle cx="28.2" cy="155.2" r="1.3" fill="url(#gPer)"/>
<circle cx="89.0" cy="162.5" r="1.2" fill="url(#gPer)"/>
<circle cx="22.9" cy="152.8" r="1.2" fill="url(#gPer)"/>
<circle cx="59.8" cy="161.4" r="1.0" fill="url(#gPer)"/>
<circle cx="94.7" cy="167.6" r="1.2" fill="url(#gPer)"/>
<circle cx="70.2" cy="162.2" r="1.3" fill="url(#gPer)"/>
<circle cx="55.8" cy="166.2" r="1.6" fill="url(#gPer)"/>
<circle cx="47.9" cy="144.3" r="1.7" fill="url(#gPer)"/>
<circle cx="32.6" cy="148.9" r="1.3" fill="url(#gPer)"/>
<circle cx="38.1" cy="145.3" r="1.2" fill="url(#gPer)"/>
<circle cx="42.5" cy="158.7" r="1.7" fill="url(#gPer)"/>
<circle cx="47.3" cy="149.9" r="1.4" fill="url(#gPer)"/>
<circle cx="43.0" cy="158.1" r="1.0" fill="url(#gPer)"/>
<circle cx="93.8" cy="169.2" r="1.4" fill="url(#gPer)"/>
<circle cx="72.7" cy="163.5" r="1.3" fill="url(#gPer)"/>
<circle cx="41.4" cy="143.5" r="1.0" fill="url(#gPer)"/>
<circle cx="13.2" cy="152.2" r="1.6" fill="url(#gPer)"/>
<circle cx="69.2" cy="164.4" r="1.4" fill="url(#gPer)"/>
<circle cx="16.9" cy="152.2" r="1.0" fill="url(#gPer)"/>
<circle cx="89.6" cy="164.1" r="1.5" fill="url(#gPer)"/>
<circle cx="44.9" cy="149.8" r="1.3" fill="url(#gPer)"/>
<circle cx="9.3" cy="151.2" r="1.7" fill="url(#gPer)"/>
<circle cx="68.3" cy="163.8" r="1.2" fill="url(#gPer)"/>
<circle cx="21.2" cy="145.5" r="1.1" fill="url(#gPer)"/>
<circle cx="75.1" cy="162.9" r="1.1" fill="url(#gPer)"/>
<circle cx="48.5" cy="157.5" r="1.7" fill="url(#gPer)"/>
<circle cx="60.2" cy="162.1" r="1.1" fill="url(#gPer)"/>
<circle cx="43.4" cy="144.5" r="1.3" fill="url(#gPer)"/>
<circle cx="49.3" cy="145.5" r="1.2" fill="url(#gPer)"/>
<circle cx="15.1" cy="146.8" r="1.2" fill="url(#gPer)"/>
<circle cx="47.4" cy="145.4" r="1.3" fill="url(#gPer)"/>
<circle cx="56.7" cy="144.2" r="1.4" fill="url(#gPer)"/>
<circle cx="39.2" cy="160.8" r="1.1" fill="url(#gPer)"/>
<circle cx="61.2" cy="161.8" r="1.2" fill="url(#gPer)"/>
<circle cx="26.7" cy="153.3" r="1.6" fill="url(#gPer)"/>
<circle cx="42.2" cy="162.3" r="1.3" fill="url(#gPer)"/>
<circle cx="29.0" cy="158.6" r="1.3" fill="url(#gPer)"/>
<circle cx="22.6" cy="145.8" r="1.5" fill="url(#gPer)"/>
<circle cx="62.4" cy="161.7" r="1.1" fill="url(#gPer)"/>
<circle cx="50.7" cy="160.8" r="1.3" fill="url(#gPer)"/>
<circle cx="58.6" cy="146.4" r="1.6" fill="url(#gPer)"/>
<circle cx="60.8" cy="144.6" r="1.2" fill="url(#gPer)"/>
<circle cx="46.8" cy="162.3" r="1.4" fill="url(#gPer)"/>
<circle cx="24.7" cy="156.8" r="1.4" fill="url(#gPer)"/>
<circle cx="69.7" cy="167.2" r="1.5" fill="url(#gPer)"/>
<circle cx="10.0" cy="148.2" r="1.1" fill="url(#gPer)"/>
<circle cx="32.9" cy="160.4" r="1.1" fill="url(#gPer)"/>
<circle cx="48.7" cy="148.2" r="1.4" fill="url(#gPer)"/>
<circle cx="67.9" cy="167.3" r="1.1" fill="url(#gPer)"/>
<circle cx="42.5" cy="160.2" r="1.1" fill="url(#gPer)"/>
<circle cx="79.0" cy="163.4" r="1.6" fill="url(#gPer)"/>
<circle cx="47.4" cy="152.8" r="1.1" fill="url(#gPer)"/>
<circle cx="18.1" cy="149.2" r="1.6" fill="url(#gPer)"/>
<circle cx="78.8" cy="163.5" r="1.3" fill="url(#gPer)"/>
<circle cx="34.4" cy="158.6" r="1.4" fill="url(#gPer)"/>
<circle cx="64.8" cy="162.1" r="1.5" fill="url(#gPer)"/>
<circle cx="13.0" cy="150.2" r="1.4" fill="url(#gPer)"/>
<circle cx="62.6" cy="167.2" r="1.2" fill="url(#gPer)"/>
<circle cx="69.6" cy="167.7" r="1.4" fill="url(#gPer)"/>
<circle cx="51.3" cy="167.3" r="1.3" fill="url(#gPer)"/>
<circle cx="34.9" cy="160.9" r="1.0" fill="url(#gPer)"/>
<circle cx="58.0" cy="166.6" r="1.5" fill="url(#gPer)"/>
<circle cx="33.7" cy="148.3" r="1.6" fill="url(#gPer)"/>
<circle cx="43.0" cy="162.0" r="1.4" fill="url(#gPer)"/>
<circle cx="26.3" cy="145.2" r="1.1" fill="url(#gPer)"/>
<circle cx="48.8" cy="159.5" r="1.7" fill="url(#gPer)"/>
<circle cx="41.7" cy="148.1" r="1.6" fill="url(#gPer)"/>
<circle cx="81.6" cy="163.5" r="1.6" fill="url(#gPer)"/>
<circle cx="80.9" cy="168.3" r="1.1" fill="url(#gPer)"/>
<circle cx="51.0" cy="144.2" r="1.5" fill="url(#gPer)"/>
<circle cx="50.2" cy="157.8" r="1.0" fill="url(#gPer)"/>
<circle cx="49.2" cy="165.9" r="1.6" fill="url(#gPer)"/>
<circle cx="68.2" cy="163.1" r="1.3" fill="url(#gPer)"/>
<circle cx="35.7" cy="156.4" r="1.4" fill="url(#gPer)"/>
<circle cx="22.0" cy="148.3" r="1.0" fill="url(#gPer)"/>
<circle cx="49.5" cy="159.3" r="1.0" fill="url(#gPer)"/>
<circle cx="47.9" cy="147.4" r="1.4" fill="url(#gPer)"/>
<circle cx="54.3" cy="167.0" r="1.3" fill="url(#gPer)"/>
<circle cx="27.6" cy="145.9" r="1.0" fill="url(#gPer)"/>
<circle cx="27.1" cy="147.2" r="1.1" fill="url(#gPer)"/>
<circle cx="22.5" cy="146.3" r="1.6" fill="url(#gPer)"/>
<circle cx="37.0" cy="159.2" r="1.2" fill="url(#gPer)"/>
<circle cx="33.5" cy="156.6" r="1.3" fill="url(#gPer)"/>
<circle cx="51.3" cy="165.6" r="1.7" fill="url(#gPer)"/>
<circle cx="32.5" cy="153.1" r="1.4" fill="url(#gPer)"/>
<circle cx="66.1" cy="165.0" r="1.1" fill="url(#gPer)"/>
<circle cx="24.6" cy="153.2" r="1.6" fill="url(#gPer)"/>
<circle cx="35.9" cy="159.5" r="1.1" fill="url(#gPer)"/>
<circle cx="15.8" cy="145.9" r="1.4" fill="url(#gPer)"/>
<circle cx="32.2" cy="148.1" r="1.7" fill="url(#gPer)"/>
<circle cx="45.0" cy="144.4" r="1.5" fill="url(#gPer)"/>
<circle cx="55.5" cy="161.1" r="1.3" fill="url(#gPer)"/>
<circle cx="53.0" cy="143.5" r="1.4" fill="url(#gPer)"/>
<circle cx="33.0" cy="151.5" r="1.4" fill="url(#gPer)"/>
<circle cx="53.9" cy="163.5" r="1.1" fill="url(#gPer)"/>
<circle cx="18.4" cy="154.9" r="1.2" fill="url(#gPer)"/>
<circle cx="75.1" cy="166.4" r="1.7" fill="url(#gPer)"/>
<circle cx="21.4" cy="149.7" r="1.7" fill="url(#gPer)"/>
<circle cx="51.0" cy="147.3" r="1.6" fill="url(#gPer)"/>
<circle cx="42.6" cy="149.7" r="1.0" fill="url(#gPer)"/>
<circle cx="95.6" cy="162.9" r="1.0" fill="url(#gPer)"/>
<circle cx="34.6" cy="158.6" r="1.6" fill="url(#gPer)"/>
<circle cx="48.2" cy="157.2" r="1.2" fill="url(#gPer)"/>
<circle cx="49.6" cy="165.5" r="1.4" fill="url(#gPer)"/>
<circle cx="25.4" cy="157.9" r="1.2" fill="url(#gPer)"/>
<circle cx="10.0" cy="149.6" r="1.5" fill="url(#gPer)"/>
<circle cx="54.2" cy="164.5" r="1.4" fill="url(#gPer)"/>
<circle cx="34.5" cy="155.1" r="1.6" fill="url(#gPer)"/>
<circle cx="33.2" cy="147.2" r="1.5" fill="url(#gPer)"/>
<circle cx="95.3" cy="168.5" r="1.3" fill="url(#gPer)"/>
<circle cx="94.1" cy="168.6" r="1.5" fill="url(#gPer)"/>
<circle cx="32.5" cy="149.3" r="1.1" fill="url(#gPer)"/>
<circle cx="72.8" cy="166.5" r="1.2" fill="url(#gPer)"/>
<circle cx="48.9" cy="143.7" r="1.3" fill="url(#gPer)"/>
<circle cx="31.4" cy="145.3" r="1.1" fill="url(#gPer)"/>
<circle cx="55.0" cy="144.3" r="1.5" fill="url(#gPer)"/>
<circle cx="80.8" cy="163.0" r="1.5" fill="url(#gPer)"/>
<circle cx="26.4" cy="152.8" r="1.6" fill="url(#gPer)"/>
<circle cx="45.8" cy="147.4" r="1.2" fill="url(#gPer)"/>
<circle cx="98.9" cy="164.6" r="1.0" fill="url(#gPer)"/>
<circle cx="60.3" cy="166.5" r="1.3" fill="url(#gPer)"/>
<circle cx="43.2" cy="147.7" r="1.2" fill="url(#gPer)"/>
<circle cx="18.1" cy="154.5" r="1.0" fill="url(#gPer)"/>
<circle cx="44.7" cy="147.2" r="1.5" fill="url(#gPer)"/>
<circle cx="58.3" cy="143.6" r="1.5" fill="url(#gPer)"/>
<circle cx="29.0" cy="158.0" r="1.5" fill="url(#gPer)"/>
<circle cx="86.1" cy="162.7" r="1.1" fill="url(#gPer)"/>
<circle cx="71.0" cy="164.1" r="1.4" fill="url(#gPer)"/>
<circle cx="22.9" cy="146.2" r="1.7" fill="url(#gPer)"/>
<circle cx="49.6" cy="160.1" r="1.3" fill="url(#gPer)"/>
<circle cx="31.0" cy="147.4" r="1.1" fill="url(#gPer)"/>
<circle cx="77.2" cy="162.7" r="1.4" fill="url(#gPer)"/>
<circle cx="35.0" cy="143.9" r="1.0" fill="url(#gPer)"/>
<circle cx="22.2" cy="145.5" r="1.5" fill="url(#gPer)"/>
<circle cx="41.5" cy="147.4" r="1.4" fill="url(#gPer)"/>
<circle cx="18.3" cy="151.9" r="1.6" fill="url(#gPer)"/>
<circle cx="25.7" cy="144.0" r="1.3" fill="url(#gPer)"/>
<circle cx="31.2" cy="146.4" r="1.5" fill="url(#gPer)"/>
<circle cx="61.1" cy="144.5" r="1.1" fill="url(#gPer)"/>
<circle cx="30.5" cy="158.0" r="1.6" fill="url(#gPer)"/>
<circle cx="44.1" cy="144.6" r="1.7" fill="url(#gPer)"/>
<circle cx="76.3" cy="168.2" r="1.3" fill="url(#gPer)"/>
<circle cx="26.4" cy="147.2" r="1.3" fill="url(#gPer)"/>
<circle cx="57.2" cy="141.7" r="1.3" fill="url(#gPer)"/>
<circle cx="38.2" cy="160.3" r="1.2" fill="url(#gPer)"/>
<circle cx="51.3" cy="166.2" r="1.5" fill="url(#gPer)"/>
<circle cx="39.6" cy="144.4" r="1.2" fill="url(#gPer)"/>
<circle cx="75.4" cy="166.2" r="1.1" fill="url(#gPer)"/>
<circle cx="22.3" cy="155.1" r="1.4" fill="url(#gPer)"/>
<circle cx="39.5" cy="145.6" r="1.6" fill="url(#gPer)"/>
<circle cx="43.3" cy="161.6" r="1.7" fill="url(#gPer)"/>
<circle cx="43.2" cy="146.5" r="1.4" fill="url(#gPer)"/>
<circle cx="53.2" cy="162.3" r="1.1" fill="url(#gPer)"/>
<circle cx="74.6" cy="163.6" r="1.4" fill="url(#gPer)"/>
<circle cx="69.0" cy="163.9" r="1.5" fill="url(#gPer)"/>
<circle cx="27.0" cy="155.7" r="1.0" fill="url(#gPer)"/>
<circle cx="89.3" cy="164.5" r="1.0" fill="url(#gPer)"/>
<circle cx="35.8" cy="144.1" r="1.5" fill="url(#gPer)"/>
<circle cx="27.0" cy="149.0" r="1.6" fill="url(#gPer)"/>
<circle cx="44.1" cy="159.8" r="1.3" fill="url(#gPer)"/>
<circle cx="61.2" cy="144.6" r="1.4" fill="url(#gPer)"/>
<circle cx="56.6" cy="142.7" r="1.5" fill="url(#gPer)"/>
<circle cx="16.6" cy="150.7" r="1.4" fill="url(#gPer)"/>
<circle cx="45.2" cy="150.6" r="1.7" fill="url(#gPer)"/>
<circle cx="98.0" cy="165.4" r="1.0" fill="url(#gPer)"/>
<circle cx="27.6" cy="153.5" r="1.1" fill="url(#gPer)"/>
<circle cx="74.9" cy="166.2" r="1.2" fill="url(#gPer)"/>
<circle cx="60.1" cy="144.1" r="1.6" fill="url(#gPer)"/>
<circle cx="53.1" cy="142.7" r="1.4" fill="url(#gPer)"/>
<circle cx="82.0" cy="168.4" r="1.5" fill="url(#gPer)"/>
<circle cx="29.0" cy="144.0" r="1.3" fill="url(#gPer)"/>
<circle cx="45.4" cy="151.2" r="1.1" fill="url(#gPer)"/>
<circle cx="56.8" cy="143.0" r="1.2" fill="url(#gPer)"/>
<circle cx="95.1" cy="167.9" r="1.6" fill="url(#gPer)"/>
<circle cx="48.5" cy="147.6" r="1.4" fill="url(#gPer)"/>
<circle cx="93.5" cy="164.7" r="1.0" fill="url(#gPer)"/>
<circle cx="38.5" cy="144.1" r="1.6" fill="url(#gPer)"/>
<circle cx="41.4" cy="156.2" r="1.5" fill="url(#gPer)"/>
<circle cx="27.9" cy="157.5" r="1.6" fill="url(#gPer)"/>
<circle cx="77.3" cy="163.9" r="1.1" fill="url(#gPer)"/>
<circle cx="60.9" cy="161.6" r="1.1" fill="url(#gPer)"/>
<circle cx="83.3" cy="164.7" r="1.0" fill="url(#gPer)"/>
<circle cx="35.1" cy="142.9" r="1.5" fill="url(#gPer)"/>
<circle cx="18.6" cy="145.5" r="1.5" fill="url(#gPer)"/>
<circle cx="22.6" cy="143.7" r="1.6" fill="url(#gPer)"/>
<circle cx="46.1" cy="165.3" r="1.7" fill="url(#gPer)"/>
<circle cx="79.2" cy="164.0" r="1.5" fill="url(#gPer)"/>
<circle cx="39.1" cy="160.3" r="1.3" fill="url(#gPer)"/>
<circle cx="48.3" cy="159.6" r="1.6" fill="url(#gPer)"/>
<circle cx="23.9" cy="149.2" r="1.5" fill="url(#gPer)"/>
<circle cx="47.1" cy="155.3" r="1.3" fill="url(#gPer)"/>
<circle cx="13.8" cy="145.9" r="1.0" fill="url(#gPer)"/>
<circle cx="35.3" cy="143.2" r="1.4" fill="url(#gPer)"/>
<circle cx="8.7" cy="151.5" r="1.5" fill="url(#gPer)"/>
<circle cx="35.6" cy="148.1" r="1.1" fill="url(#gPer)"/>
<circle cx="87.6" cy="162.5" r="1.1" fill="url(#gPer)"/>
<circle cx="22.2" cy="150.5" r="1.2" fill="url(#gPer)"/>
<circle cx="40.1" cy="160.6" r="1.6" fill="url(#gPer)"/>
<circle cx="36.9" cy="157.1" r="1.6" fill="url(#gPer)"/>
<circle cx="26.1" cy="154.9" r="1.2" fill="url(#gPer)"/>
<circle cx="20.4" cy="154.2" r="1.5" fill="url(#gPer)"/>
<circle cx="41.4" cy="146.1" r="1.6" fill="url(#gPer)"/>
<circle cx="32.7" cy="143.8" r="1.6" fill="url(#gPer)"/>
<circle cx="65.1" cy="162.6" r="1.7" fill="url(#gPer)"/>
<circle cx="37.6" cy="160.2" r="1.3" fill="url(#gPer)"/>
<circle cx="60.4" cy="167.0" r="1.3" fill="url(#gPer)"/>
<circle cx="21.7" cy="143.5" r="1.2" fill="url(#gPer)"/>
<circle cx="21.2" cy="146.3" r="1.2" fill="url(#gPer)"/>
<circle cx="76.8" cy="162.9" r="1.6" fill="url(#gPer)"/>
<circle cx="30.9" cy="152.5" r="1.3" fill="url(#gPer)"/>
<circle cx="94.3" cy="167.0" r="1.6" fill="url(#gPer)"/>
<circle cx="18.5" cy="151.8" r="1.0" fill="url(#gPer)"/>
<circle cx="54.8" cy="145.4" r="1.5" fill="url(#gPer)"/>
<circle cx="76.1" cy="168.2" r="1.4" fill="url(#gPer)"/>
<circle cx="49.0" cy="161.1" r="1.2" fill="url(#gPer)"/>
<circle cx="59.8" cy="163.7" r="1.0" fill="url(#gPer)"/>
<circle cx="15.8" cy="145.1" r="1.6" fill="url(#gPer)"/>
<circle cx="23.9" cy="143.6" r="1.2" fill="url(#gPer)"/>
<circle cx="16.0" cy="154.2" r="1.4" fill="url(#gPer)"/>
<circle cx="41.6" cy="162.1" r="1.3" fill="url(#gPer)"/>
<circle cx="86.9" cy="165.1" r="1.2" fill="url(#gPer)"/>
<circle cx="38.6" cy="159.0" r="1.0" fill="url(#gPer)"/>
<circle cx="56.6" cy="146.4" r="1.0" fill="url(#gPer)"/>
<circle cx="38.8" cy="148.3" r="1.0" fill="url(#gPer)"/>
<circle cx="28.8" cy="149.2" r="1.6" fill="url(#gPer)"/>
<circle cx="79.4" cy="164.4" r="1.2" fill="url(#gPer)"/>
<circle cx="41.3" cy="147.0" r="1.6" fill="url(#gPer)"/>
<circle cx="14.0" cy="147.9" r="1.4" fill="url(#gPer)"/>
<circle cx="57.9" cy="144.2" r="1.5" fill="url(#gPer)"/>
<circle cx="64.0" cy="163.3" r="1.2" fill="url(#gPer)"/>
<circle cx="28.0" cy="159.1" r="1.2" fill="url(#gPer)"/>
<circle cx="45.1" cy="160.0" r="1.3" fill="url(#gPer)"/>
<circle cx="29.8" cy="145.8" r="1.5" fill="url(#gPer)"/>
<circle cx="57.3" cy="167.2" r="1.2" fill="url(#gPer)"/>
<circle cx="28.8" cy="143.2" r="1.4" fill="url(#gPer)"/>
<circle cx="35.7" cy="151.2" r="1.5" fill="url(#gPer)"/>
<circle cx="47.5" cy="159.1" r="1.1" fill="url(#gPer)"/>
<circle cx="57.8" cy="165.5" r="1.6" fill="url(#gPer)"/>
<circle cx="26.9" cy="151.2" r="1.5" fill="url(#gPer)"/>
<circle cx="47.7" cy="143.2" r="1.0" fill="url(#gPer)"/>
<circle cx="32.1" cy="158.2" r="1.2" fill="url(#gPer)"/>
<circle cx="20.8" cy="156.1" r="1.3" fill="url(#gPer)"/>
<circle cx="43.8" cy="149.7" r="1.3" fill="url(#gPer)"/>
<circle cx="18.0" cy="154.5" r="1.6" fill="url(#gPer)"/>
<circle cx="61.4" cy="163.5" r="1.2" fill="url(#gPer)"/>
<circle cx="55.6" cy="164.9" r="1.0" fill="url(#gPer)"/>
<circle cx="27.0" cy="144.6" r="1.6" fill="url(#gPer)"/>
<circle cx="91.6" cy="167.0" r="1.7" fill="url(#gPer)"/>
<circle cx="38.7" cy="148.3" r="1.3" fill="url(#gPer)"/>
<circle cx="82.3" cy="167.3" r="1.2" fill="url(#gPer)"/>
<circle cx="32.1" cy="151.0" r="1.2" fill="url(#gPer)"/>
<circle cx="92.7" cy="169.4" r="1.1" fill="url(#gPer)"/>
<circle cx="95.0" cy="164.8" r="1.5" fill="url(#gPer)"/>
<circle cx="96.6" cy="166.1" r="1.5" fill="url(#gPer)"/>
<circle cx="50.8" cy="164.5" r="1.2" fill="url(#gPer)"/>
<circle cx="68.5" cy="162.1" r="1.1" fill="url(#gPer)"/>
<circle cx="26.5" cy="149.6" r="1.3" fill="url(#gPer)"/>
<circle cx="75.1" cy="167.1" r="1.5" fill="url(#gPer)"/>
<circle cx="10.3" cy="148.5" r="1.3" fill="url(#gPer)"/>
<circle cx="35.1" cy="144.1" r="1.4" fill="url(#gPer)"/>
<circle cx="18.6" cy="144.2" r="1.1" fill="url(#gPer)"/>
<circle cx="37.4" cy="145.1" r="1.0" fill="url(#gPer)"/>
<circle cx="13.8" cy="149.8" r="1.4" fill="url(#gPer)"/>
<circle cx="49.2" cy="160.1" r="1.6" fill="url(#gPer)"/>
<circle cx="29.8" cy="155.4" r="1.4" fill="url(#gPer)"/>
<circle cx="36.2" cy="157.3" r="1.4" fill="url(#gPer)"/>
<circle cx="42.1" cy="160.0" r="1.4" fill="url(#gPer)"/>
<circle cx="39.9" cy="147.9" r="1.4" fill="url(#gPer)"/>
<circle cx="42.7" cy="147.0" r="1.5" fill="url(#gPer)"/>
<circle cx="41.0" cy="146.7" r="1.2" fill="url(#gPer)"/>
<circle cx="50.8" cy="162.0" r="1.1" fill="url(#gPer)"/>
<circle cx="72.9" cy="166.6" r="1.3" fill="url(#gPer)"/>
<circle cx="16.4" cy="150.9" r="1.3" fill="url(#gPer)"/>
<circle cx="49.1" cy="144.6" r="1.4" fill="url(#gPer)"/>
<circle cx="31.8" cy="148.0" r="1.2" fill="url(#gPer)"/>
<circle cx="47.3" cy="160.8" r="1.6" fill="url(#gPer)"/>
<circle cx="49.0" cy="159.0" r="1.7" fill="url(#gPer)"/>
<circle cx="44.4" cy="144.3" r="1.2" fill="url(#gPer)"/>
<circle cx="46.8" cy="154.8" r="1.1" fill="url(#gPer)"/>
<circle cx="21.8" cy="149.8" r="1.4" fill="url(#gPer)"/>
<circle cx="18.1" cy="149.7" r="1.4" fill="url(#gPer)"/>
<circle cx="40.2" cy="146.1" r="1.7" fill="url(#gPer)"/>
<circle cx="21.6" cy="154.2" r="1.2" fill="url(#gPer)"/>
<circle cx="75.3" cy="164.8" r="1.3" fill="url(#gPer)"/>
<circle cx="25.7" cy="149.5" r="1.6" fill="url(#gPer)"/>
<circle cx="89.3" cy="167.6" r="1.6" fill="url(#gPer)"/>
<circle cx="33.1" cy="147.8" r="1.5" fill="url(#gPer)"/>
<circle cx="42.5" cy="147.2" r="1.3" fill="url(#gPer)"/>
<circle cx="33.4" cy="150.9" r="1.0" fill="url(#gPer)"/>
<circle cx="42.3" cy="161.6" r="1.2" fill="url(#gPer)"/>
<circle cx="18.1" cy="149.2" r="1.1" fill="url(#gPer)"/>
<circle cx="19.2" cy="148.0" r="1.5" fill="url(#gPer)"/>
<circle cx="37.4" cy="159.3" r="1.1" fill="url(#gPer)"/>
<circle cx="46.4" cy="159.8" r="1.0" fill="url(#gPer)"/>
<circle cx="31.2" cy="145.9" r="1.6" fill="url(#gPer)"/>
<circle cx="63.4" cy="165.4" r="1.6" fill="url(#gPer)"/>
<circle cx="84.3" cy="163.5" r="1.5" fill="url(#gPer)"/>
<circle cx="43.7" cy="151.1" r="1.6" fill="url(#gPer)"/>
<circle cx="48.7" cy="147.8" r="1.5" fill="url(#gPer)"/>
<circle cx="32.0" cy="147.2" r="1.5" fill="url(#gPer)"/>
<circle cx="69.0" cy="162.6" r="1.3" fill="url(#gPer)"/>
<circle cx="45.0" cy="144.9" r="1.7" fill="url(#gPer)"/>
<circle cx="16.8" cy="153.9" r="1.2" fill="url(#gPer)"/>
<circle cx="29.6" cy="153.8" r="1.0" fill="url(#gPer)"/>
<circle cx="19.1" cy="155.1" r="1.3" fill="url(#gPer)"/>
<circle cx="64.6" cy="162.2" r="1.1" fill="url(#gPer)"/>
<circle cx="42.7" cy="147.8" r="1.1" fill="url(#gPer)"/>
<circle cx="10.8" cy="152.0" r="1.5" fill="url(#gPer)"/>
<circle cx="25.1" cy="155.7" r="1.2" fill="url(#gPer)"/>
<circle cx="38.3" cy="159.3" r="1.6" fill="url(#gPer)"/>
<circle cx="48.9" cy="160.4" r="1.0" fill="url(#gPer)"/>
<circle cx="22.9" cy="152.1" r="1.3" fill="url(#gPer)"/>
<circle cx="92.9" cy="163.4" r="1.5" fill="url(#gPer)"/>
<circle cx="54.6" cy="160.7" r="1.2" fill="url(#gPer)"/>
<circle cx="49.5" cy="151.1" r="1.2" fill="url(#gPer)"/>
<circle cx="47.6" cy="146.9" r="1.7" fill="url(#gPer)"/>
<circle cx="41.0" cy="148.3" r="1.4" fill="url(#gPer)"/>
<circle cx="53.6" cy="161.1" r="1.4" fill="url(#gPer)"/>
<circle cx="13.8" cy="148.8" r="1.2" fill="url(#gPer)"/>
<circle cx="52.6" cy="142.6" r="1.4" fill="url(#gPer)"/>
<circle cx="63.7" cy="164.8" r="1.6" fill="url(#gPer)"/>
<circle cx="15.7" cy="147.8" r="1.4" fill="url(#gPer)"/>
<circle cx="43.3" cy="147.6" r="1.2" fill="url(#gPer)"/>
<circle cx="18.9" cy="151.3" r="1.1" fill="url(#gPer)"/>
<circle cx="39.0" cy="144.7" r="1.6" fill="url(#gPer)"/>
<circle cx="81.1" cy="165.4" r="1.3" fill="url(#gPer)"/>
<circle cx="90.2" cy="165.8" r="1.4" fill="url(#gPer)"/>
<circle cx="70.7" cy="164.6" r="1.6" fill="url(#gPer)"/>
<circle cx="97.1" cy="165.1" r="1.5" fill="url(#gPer)"/>
<circle cx="46.5" cy="147.4" r="1.3" fill="url(#gPer)"/>
<circle cx="56.4" cy="142.0" r="1.6" fill="url(#gPer)"/>
<circle cx="14.1" cy="144.9" r="1.1" fill="url(#gPer)"/>
<circle cx="46.5" cy="149.7" r="1.3" fill="url(#gPer)"/>
<circle cx="60.7" cy="167.0" r="1.3" fill="url(#gPer)"/>
<circle cx="27.8" cy="148.2" r="1.0" fill="url(#gPer)"/>
<circle cx="39.0" cy="149.9" r="1.3" fill="url(#gPer)"/>
<circle cx="20.6" cy="150.2" r="1.1" fill="url(#gPer)"/>
<circle cx="82.0" cy="162.6" r="1.4" fill="url(#gPer)"/>
<path d="M38.1,150.4 L42.7,150.4 L45.0,152.7 L46.5,155.0 L46.2,157.3 L41.5,156.2 L38.1,157.3 L34.6,155.0 L34.6,152.1 Z" fill="#fff" />
<path d="M59.8,142.5 L63.8,139.6 L69.6,136.2 L75.4,132.7 L81.2,130.4 L86.9,130.4 L91.5,132.1 L93.3,133.8 L89.2,136.2 L84.6,139.6 L78.8,141.3 L73.1,144.2 L68.5,146.5 L62.7,146.0 L60.4,144.2 Z" fill="#0f2a88" stroke="#0f2a88" stroke-width="1.2" stroke-linejoin="round" />
<circle cx="85.9" cy="131.7" r="1.9" fill="url(#gDB)"/>
<circle cx="77.7" cy="137.4" r="1.6" fill="url(#gDB)"/>
<circle cx="64.5" cy="143.7" r="1.5" fill="url(#gDB)"/>
<circle cx="60.5" cy="142.4" r="1.3" fill="url(#gDB)"/>
<circle cx="72.8" cy="141.9" r="1.6" fill="url(#gDB)"/>
<circle cx="67.0" cy="145.4" r="1.9" fill="url(#gDB)"/>
<circle cx="82.1" cy="137.4" r="1.9" fill="url(#gDB)"/>
<circle cx="68.0" cy="138.5" r="1.4" fill="url(#gDB)"/>
<circle cx="67.3" cy="142.1" r="1.8" fill="url(#gDB)"/>
<circle cx="70.7" cy="140.2" r="1.3" fill="url(#gDB)"/>
<circle cx="66.8" cy="143.3" r="1.5" fill="url(#gDB)"/>
<circle cx="67.1" cy="139.6" r="1.5" fill="url(#gDB)"/>
<circle cx="79.2" cy="139.4" r="2.0" fill="url(#gDB)"/>
<circle cx="69.8" cy="140.3" r="1.7" fill="url(#gDB)"/>
<circle cx="79.6" cy="133.2" r="2.1" fill="url(#gDB)"/>
<circle cx="80.4" cy="140.3" r="1.5" fill="url(#gDB)"/>
<circle cx="87.3" cy="134.1" r="1.7" fill="url(#gDB)"/>
<circle cx="80.8" cy="136.4" r="1.9" fill="url(#gDB)"/>
<circle cx="87.9" cy="130.8" r="1.1" fill="url(#gDB)"/>
<circle cx="67.5" cy="142.7" r="2.0" fill="url(#gDB)"/>
<circle cx="85.8" cy="134.9" r="1.9" fill="url(#gDB)"/>
<circle cx="76.8" cy="139.5" r="2.0" fill="url(#gDB)"/>
<circle cx="77.9" cy="138.8" r="2.0" fill="url(#gDB)"/>
<circle cx="84.3" cy="130.9" r="1.5" fill="url(#gDB)"/>
<circle cx="74.4" cy="137.1" r="1.5" fill="url(#gDB)"/>
<circle cx="69.0" cy="145.4" r="1.8" fill="url(#gDB)"/>
<circle cx="81.8" cy="140.1" r="1.3" fill="url(#gDB)"/>
<circle cx="86.1" cy="132.1" r="1.8" fill="url(#gDB)"/>
<circle cx="75.0" cy="142.4" r="1.6" fill="url(#gDB)"/>
<circle cx="82.6" cy="139.4" r="1.6" fill="url(#gDB)"/>
<circle cx="72.7" cy="135.6" r="1.8" fill="url(#gDB)"/>
<circle cx="78.3" cy="137.0" r="1.9" fill="url(#gDB)"/>
<circle cx="85.5" cy="138.0" r="1.7" fill="url(#gDB)"/>
<circle cx="65.2" cy="144.2" r="1.8" fill="url(#gDB)"/>
<circle cx="67.5" cy="141.1" r="1.5" fill="url(#gDB)"/>
<circle cx="82.4" cy="133.6" r="1.6" fill="url(#gDB)"/>
<circle cx="69.9" cy="142.2" r="2.1" fill="url(#gDB)"/>
<circle cx="75.4" cy="139.0" r="1.8" fill="url(#gDB)"/>
<circle cx="78.2" cy="140.5" r="1.8" fill="url(#gDB)"/>
<circle cx="84.2" cy="138.1" r="1.3" fill="url(#gDB)"/>
<circle cx="64.2" cy="144.4" r="1.5" fill="url(#gDB)"/>
<circle cx="66.2" cy="145.2" r="1.7" fill="url(#gDB)"/>
<circle cx="85.4" cy="135.7" r="1.6" fill="url(#gDB)"/>
<circle cx="73.5" cy="140.8" r="1.5" fill="url(#gDB)"/>
<circle cx="67.5" cy="142.8" r="1.9" fill="url(#gDB)"/>
<circle cx="71.7" cy="143.2" r="2.1" fill="url(#gDB)"/>
<circle cx="75.0" cy="134.8" r="1.5" fill="url(#gDB)"/>
<circle cx="64.7" cy="140.7" r="1.6" fill="url(#gDB)"/>
<circle cx="81.5" cy="137.8" r="1.3" fill="url(#gDB)"/>
<circle cx="78.6" cy="141.2" r="1.1" fill="url(#gDB)"/>
<circle cx="86.1" cy="132.2" r="1.7" fill="url(#gDB)"/>
<circle cx="85.4" cy="135.7" r="1.3" fill="url(#gDB)"/>
<circle cx="73.6" cy="141.3" r="1.3" fill="url(#gDB)"/>
<circle cx="85.4" cy="138.3" r="1.6" fill="url(#gDB)"/>
<circle cx="66.9" cy="146.2" r="1.2" fill="url(#gDB)"/>
<circle cx="77.9" cy="139.5" r="1.5" fill="url(#gDB)"/>
<circle cx="68.4" cy="138.1" r="2.0" fill="url(#gDB)"/>
<circle cx="87.1" cy="131.9" r="1.7" fill="url(#gDB)"/>
<circle cx="64.5" cy="141.6" r="1.6" fill="url(#gDB)"/>
<circle cx="85.3" cy="133.5" r="1.9" fill="url(#gDB)"/>
<circle cx="65.8" cy="140.3" r="1.6" fill="url(#gDB)"/>
<circle cx="85.2" cy="132.4" r="1.4" fill="url(#gDB)"/>
<circle cx="77.2" cy="138.9" r="2.0" fill="url(#gDB)"/>
<circle cx="84.1" cy="139.4" r="1.4" fill="url(#gDB)"/>
<circle cx="68.8" cy="142.1" r="1.5" fill="url(#gDB)"/>
<circle cx="76.9" cy="133.1" r="1.7" fill="url(#gDB)"/>
<circle cx="81.1" cy="132.9" r="1.7" fill="url(#gDB)"/>
<circle cx="89.5" cy="135.1" r="1.7" fill="url(#gDB)"/>
<circle cx="73.1" cy="141.1" r="1.6" fill="url(#gDB)"/>
<circle cx="87.6" cy="135.2" r="1.4" fill="url(#gDB)"/>
<circle cx="64.6" cy="141.5" r="2.0" fill="url(#gDB)"/>
<circle cx="88.0" cy="134.8" r="1.6" fill="url(#gDB)"/>
<circle cx="91.2" cy="135.6" r="2.0" fill="url(#gLk)"/>
<circle cx="90.6" cy="134.8" r="1.9" fill="url(#gLk)"/>
<circle cx="91.2" cy="134.9" r="1.7" fill="url(#gLk)"/>
<circle cx="91.8" cy="134.7" r="1.9" fill="url(#gLk)"/>
<circle cx="93.6" cy="136.5" r="1.9" fill="url(#gLk)"/>
<circle cx="91.8" cy="135.6" r="1.4" fill="url(#gLk)"/>
<circle cx="94.2" cy="135.5" r="1.6" fill="url(#gLk)"/>
<circle cx="95.1" cy="135.7" r="2.2" fill="url(#gLk)"/>
<circle cx="93.8" cy="137.1" r="1.9" fill="url(#gLk)"/>
<circle cx="93.5" cy="137.4" r="1.5" fill="url(#gLk)"/>
<circle cx="94.3" cy="135.4" r="1.4" fill="url(#gLk)"/>
<circle cx="94.1" cy="135.0" r="1.6" fill="url(#gLk)"/>
<circle cx="96.9" cy="138.7" r="1.7" fill="url(#gLk)"/>
<circle cx="94.4" cy="136.5" r="1.4" fill="url(#gLk)"/>
<circle cx="94.8" cy="137.5" r="1.9" fill="url(#gLk)"/>
<circle cx="95.3" cy="137.1" r="1.7" fill="url(#gLk)"/>
<circle cx="96.6" cy="135.9" r="1.7" fill="url(#gLk)"/>
<circle cx="95.6" cy="137.7" r="1.9" fill="url(#gLk)"/>
<circle cx="98.5" cy="136.8" r="2.2" fill="url(#gLk)"/>
<circle cx="97.7" cy="136.1" r="1.6" fill="url(#gLk)"/>
<circle cx="99.5" cy="136.0" r="2.0" fill="url(#gLk)"/>
<circle cx="100.8" cy="138.3" r="1.7" fill="url(#gLk)"/>
<circle cx="99.1" cy="138.3" r="1.9" fill="url(#gLk)"/>
<circle cx="100.3" cy="136.0" r="1.8" fill="url(#gLk)"/>
<circle cx="101.2" cy="136.1" r="1.5" fill="url(#gLk)"/>
<circle cx="101.6" cy="137.2" r="1.7" fill="url(#gLk)"/>
<circle cx="100.4" cy="136.2" r="1.5" fill="url(#gLk)"/>
<circle cx="99.4" cy="135.5" r="1.4" fill="url(#gLk)"/>
<circle cx="102.1" cy="137.4" r="1.8" fill="url(#gLk)"/>
<circle cx="99.4" cy="136.2" r="1.4" fill="url(#gLk)"/>
<circle cx="100.6" cy="133.4" r="1.7" fill="url(#gLk)"/>
<circle cx="99.6" cy="134.0" r="1.5" fill="url(#gLk)"/>
<circle cx="100.9" cy="136.1" r="1.8" fill="url(#gLk)"/>
<circle cx="102.3" cy="134.3" r="1.8" fill="url(#gLk)"/>
<circle cx="99.9" cy="132.1" r="1.4" fill="url(#gLk)"/>
<circle cx="101.4" cy="133.0" r="2.1" fill="url(#gLk)"/>
<circle cx="100.5" cy="131.1" r="1.9" fill="url(#gLk)"/>
<circle cx="101.9" cy="130.9" r="1.6" fill="url(#gLk)"/>
<circle cx="101.3" cy="133.4" r="2.0" fill="url(#gLk)"/>
<circle cx="102.8" cy="131.3" r="2.1" fill="url(#gLk)"/>
<circle cx="101.4" cy="130.4" r="1.4" fill="url(#gLk)"/>
<circle cx="102.6" cy="131.7" r="1.9" fill="url(#gLk)"/>
<circle cx="103.1" cy="130.4" r="1.6" fill="url(#gLk)"/>
<circle cx="102.2" cy="131.4" r="1.5" fill="url(#gLk)"/>
<circle cx="103.0" cy="129.7" r="1.4" fill="url(#gLk)"/>
<circle cx="101.5" cy="129.7" r="1.7" fill="url(#gLk)"/>
<circle cx="100.7" cy="129.7" r="1.4" fill="url(#gLk)"/>
<circle cx="102.1" cy="128.3" r="1.9" fill="url(#gLk)"/>
<circle cx="101.9" cy="126.9" r="1.5" fill="url(#gLk)"/>
<circle cx="103.0" cy="127.5" r="1.6" fill="url(#gLk)"/>
<circle cx="102.2" cy="128.5" r="1.4" fill="url(#gLk)"/>
<circle cx="102.3" cy="125.4" r="2.0" fill="url(#gLk)"/>
<circle cx="100.9" cy="127.7" r="1.8" fill="url(#gLk)"/>
<circle cx="102.5" cy="126.7" r="1.6" fill="url(#gLk)"/>
<circle cx="102.8" cy="124.4" r="1.6" fill="url(#gLk)"/>
<circle cx="103.3" cy="125.9" r="1.6" fill="url(#gLk)"/>
<circle cx="103.4" cy="126.5" r="2.0" fill="url(#gLk)"/>
<circle cx="101.8" cy="124.4" r="1.5" fill="url(#gLk)"/>
<circle cx="104.6" cy="124.7" r="1.7" fill="url(#gLk)"/>
<circle cx="103.9" cy="124.5" r="1.5" fill="url(#gLk)"/>
<circle cx="105.7" cy="122.1" r="1.3" fill="url(#gLk)"/>
<circle cx="103.6" cy="122.4" r="1.6" fill="url(#gLk)"/>
<circle cx="104.7" cy="123.2" r="2.2" fill="url(#gLk)"/>
<circle cx="104.8" cy="124.5" r="2.2" fill="url(#gLk)"/>
<circle cx="105.5" cy="124.1" r="1.4" fill="url(#gLk)"/>
<circle cx="106.8" cy="122.9" r="1.6" fill="url(#gLk)"/>
<circle cx="107.8" cy="122.2" r="1.4" fill="url(#gLk)"/>
<circle cx="104.8" cy="123.5" r="1.5" fill="url(#gLk)"/>
<circle cx="106.9" cy="121.1" r="2.0" fill="url(#gLk)"/>
<circle cx="109.1" cy="121.5" r="2.0" fill="url(#gLk)"/>
<circle cx="108.8" cy="121.1" r="1.7" fill="url(#gLk)"/>
<circle cx="109.2" cy="123.5" r="1.8" fill="url(#gLk)"/>
<circle cx="108.7" cy="120.0" r="2.0" fill="url(#gLk)"/>
<circle cx="110.1" cy="121.8" r="1.5" fill="url(#gLk)"/>
<circle cx="107.3" cy="122.0" r="1.9" fill="url(#gLk)"/>
<circle cx="109.6" cy="123.6" r="1.3" fill="url(#gLk)"/>
<circle cx="107.6" cy="121.2" r="1.6" fill="url(#gLk)"/>
<circle cx="107.8" cy="121.6" r="1.5" fill="url(#gLk)"/>
<circle cx="111.1" cy="123.5" r="1.5" fill="url(#gLk)"/>
<circle cx="110.1" cy="122.3" r="2.2" fill="url(#gLk)"/>
<circle cx="108.7" cy="122.6" r="1.8" fill="url(#gLk)"/>
<circle cx="112.1" cy="124.9" r="1.4" fill="url(#gLk)"/>
<circle cx="111.2" cy="125.2" r="2.1" fill="url(#gLk)"/>
<circle cx="111.3" cy="123.5" r="2.0" fill="url(#gLk)"/>
<circle cx="112.1" cy="126.7" r="1.5" fill="url(#gLk)"/>
<circle cx="112.6" cy="125.3" r="1.5" fill="url(#gLk)"/>
<circle cx="110.6" cy="124.0" r="2.1" fill="url(#gLk)"/>
<circle cx="110.7" cy="126.9" r="1.5" fill="url(#gLk)"/>
<circle cx="111.0" cy="126.0" r="2.1" fill="url(#gLk)"/>
<circle cx="110.4" cy="126.1" r="1.6" fill="url(#gLk)"/>
<circle cx="112.3" cy="128.0" r="2.1" fill="url(#gLk)"/>
<circle cx="112.8" cy="128.8" r="2.1" fill="url(#gLk)"/>
<circle cx="113.4" cy="126.0" r="1.4" fill="url(#gLk)"/>
<circle cx="112.8" cy="127.7" r="1.6" fill="url(#gLk)"/>
<circle cx="112.9" cy="128.8" r="2.0" fill="url(#gLk)"/>
<circle cx="113.7" cy="127.8" r="1.8" fill="url(#gLk)"/>
<circle cx="113.2" cy="129.6" r="2.0" fill="url(#gLk)"/>
<circle cx="114.0" cy="130.4" r="1.6" fill="url(#gLk)"/>
<circle cx="111.9" cy="130.0" r="1.5" fill="url(#gLk)"/>
<circle cx="113.9" cy="129.5" r="1.4" fill="url(#gLk)"/>
<circle cx="114.2" cy="131.5" r="1.9" fill="url(#gLk)"/>
<circle cx="113.7" cy="131.5" r="1.5" fill="url(#gLk)"/>
<circle cx="115.7" cy="130.1" r="2.2" fill="url(#gLk)"/>
<circle cx="116.3" cy="131.9" r="1.6" fill="url(#gLk)"/>
<circle cx="115.2" cy="131.1" r="2.1" fill="url(#gLk)"/>
<circle cx="116.5" cy="131.2" r="2.1" fill="url(#gLk)"/>
<circle cx="116.1" cy="132.3" r="2.1" fill="url(#gLk)"/>
<circle cx="117.0" cy="130.9" r="2.0" fill="url(#gLk)"/>
<circle cx="117.3" cy="132.9" r="1.6" fill="url(#gLk)"/>
<circle cx="116.7" cy="130.8" r="2.2" fill="url(#gLk)"/>
<circle cx="117.3" cy="130.5" r="1.8" fill="url(#gLk)"/>
<circle cx="119.7" cy="130.7" r="2.1" fill="url(#gLk)"/>
<circle cx="119.8" cy="130.7" r="1.5" fill="url(#gLk)"/>
<circle cx="117.7" cy="130.4" r="1.3" fill="url(#gLk)"/>
<circle cx="119.1" cy="131.9" r="1.7" fill="url(#gLk)"/>
<circle cx="119.6" cy="131.4" r="1.4" fill="url(#gLk)"/>
<circle cx="120.4" cy="130.5" r="1.8" fill="url(#gLk)"/>
<circle cx="120.3" cy="130.3" r="1.4" fill="url(#gLk)"/>
<circle cx="120.7" cy="130.7" r="1.4" fill="url(#gLk)"/>
<circle cx="121.7" cy="130.5" r="1.9" fill="url(#gLk)"/>
<circle cx="121.4" cy="129.5" r="2.2" fill="url(#gLk)"/>
<circle cx="121.5" cy="129.4" r="2.1" fill="url(#gLk)"/>
<circle cx="121.9" cy="129.4" r="1.9" fill="url(#gLk)"/>
<circle cx="122.9" cy="131.4" r="2.0" fill="url(#gLk)"/>
<circle cx="123.6" cy="130.7" r="1.6" fill="url(#gLk)"/>
<circle cx="124.3" cy="131.3" r="1.5" fill="url(#gLk)"/>
<circle cx="123.3" cy="128.9" r="1.8" fill="url(#gLk)"/>
<circle cx="124.7" cy="130.7" r="2.1" fill="url(#gLk)"/>
<circle cx="124.1" cy="129.8" r="1.7" fill="url(#gLk)"/>
<circle cx="126.6" cy="129.0" r="1.4" fill="url(#gLk)"/>
<circle cx="124.9" cy="130.7" r="1.5" fill="url(#gLk)"/>
<circle cx="126.8" cy="129.1" r="1.6" fill="url(#gLk)"/>
<circle cx="126.0" cy="131.0" r="1.4" fill="url(#gLk)"/>
<circle cx="125.9" cy="130.3" r="1.7" fill="url(#gLk)"/>
<circle cx="126.5" cy="129.7" r="2.1" fill="url(#gLk)"/>
<circle cx="127.1" cy="130.3" r="1.5" fill="url(#gLk)"/>
<circle cx="127.9" cy="129.9" r="1.7" fill="url(#gLk)"/>
<circle cx="127.5" cy="129.0" r="1.5" fill="url(#gLk)"/>
<circle cx="129.6" cy="130.2" r="1.4" fill="url(#gLk)"/>
<circle cx="128.1" cy="131.0" r="1.5" fill="url(#gLk)"/>
<circle cx="130.1" cy="130.5" r="1.4" fill="url(#gLk)"/>
<circle cx="129.8" cy="131.0" r="2.2" fill="url(#gLk)"/>
<circle cx="131.2" cy="130.1" r="1.9" fill="url(#gLk)"/>
<circle cx="130.4" cy="131.7" r="1.5" fill="url(#gLk)"/>
<circle cx="131.5" cy="131.1" r="1.7" fill="url(#gLk)"/>
<circle cx="131.3" cy="129.8" r="1.5" fill="url(#gLk)"/>
<circle cx="132.5" cy="130.4" r="2.2" fill="url(#gLk)"/>
<circle cx="131.4" cy="129.9" r="2.1" fill="url(#gLk)"/>
<circle cx="132.1" cy="131.9" r="1.3" fill="url(#gLk)"/>
<circle cx="132.9" cy="131.8" r="1.5" fill="url(#gLk)"/>
<circle cx="134.7" cy="131.7" r="2.1" fill="url(#gLk)"/>
<circle cx="133.5" cy="130.4" r="1.6" fill="url(#gLk)"/>
<circle cx="133.4" cy="130.5" r="2.1" fill="url(#gLk)"/>
<circle cx="134.2" cy="131.6" r="1.7" fill="url(#gLk)"/>
<circle cx="134.9" cy="131.3" r="1.7" fill="url(#gLk)"/>
<circle cx="136.1" cy="131.7" r="2.0" fill="url(#gLk)"/>
<circle cx="135.6" cy="131.2" r="1.9" fill="url(#gLk)"/>
<circle cx="136.6" cy="131.9" r="1.3" fill="url(#gLk)"/>
<circle cx="135.2" cy="131.9" r="1.7" fill="url(#gLk)"/>
<circle cx="136.7" cy="130.9" r="1.5" fill="url(#gLk)"/>
<circle cx="137.9" cy="130.8" r="2.0" fill="url(#gLk)"/>
<circle cx="137.3" cy="132.2" r="1.3" fill="url(#gLk)"/>
<circle cx="139.4" cy="130.0" r="1.7" fill="url(#gLk)"/>
<circle cx="137.9" cy="130.7" r="2.1" fill="url(#gLk)"/>
<circle cx="137.9" cy="130.7" r="1.8" fill="url(#gLk)"/>
<path d="M135.8,121.0 L138.7,118.1 L141.5,116.9 L145.0,118.1 L148.5,117.5 L153.1,118.7 L156.0,121.0 L156.5,125.0 L158.8,129.6 L158.3,134.2 L155.4,137.7 L152.5,140.6 L149.0,142.3 L147.3,140.0 L145.0,137.7 L142.7,135.4 L141.5,133.1 L139.2,130.8 L136.9,128.5 L135.8,125.0 Z" fill="#1c98a8" stroke="#1c98a8" stroke-width="1.2" stroke-linejoin="round" />
<circle cx="143.2" cy="122.1" r="2.1" fill="url(#gCy)"/>
<circle cx="151.3" cy="124.3" r="1.4" fill="url(#gCy)"/>
<circle cx="141.6" cy="133.3" r="1.0" fill="url(#gCy)"/>
<circle cx="140.8" cy="131.5" r="1.6" fill="url(#gCy)"/>
<circle cx="136.2" cy="123.4" r="1.4" fill="url(#gCy)"/>
<circle cx="142.5" cy="126.1" r="1.5" fill="url(#gCy)"/>
<circle cx="142.6" cy="119.3" r="1.7" fill="url(#gCy)"/>
<circle cx="142.7" cy="130.8" r="1.9" fill="url(#gCy)"/>
<circle cx="146.3" cy="132.2" r="1.9" fill="url(#gCy)"/>
<circle cx="152.8" cy="133.2" r="2.0" fill="url(#gCy)"/>
<circle cx="143.0" cy="130.5" r="1.7" fill="url(#gCy)"/>
<circle cx="143.2" cy="119.3" r="2.1" fill="url(#gCy)"/>
<circle cx="154.5" cy="122.7" r="1.7" fill="url(#gCy)"/>
<circle cx="156.8" cy="133.6" r="1.9" fill="url(#gCy)"/>
<circle cx="147.4" cy="129.7" r="1.7" fill="url(#gCy)"/>
<circle cx="146.1" cy="125.3" r="1.6" fill="url(#gCy)"/>
<circle cx="136.5" cy="122.9" r="1.7" fill="url(#gCy)"/>
<circle cx="138.5" cy="120.3" r="2.3" fill="url(#gCy)"/>
<circle cx="152.9" cy="131.1" r="1.6" fill="url(#gCy)"/>
<circle cx="141.5" cy="124.4" r="1.8" fill="url(#gCy)"/>
<circle cx="148.1" cy="131.4" r="1.7" fill="url(#gCy)"/>
<circle cx="153.7" cy="126.8" r="1.9" fill="url(#gCy)"/>
<circle cx="154.9" cy="120.8" r="1.5" fill="url(#gCy)"/>
<circle cx="144.1" cy="133.2" r="1.9" fill="url(#gCy)"/>
<circle cx="143.9" cy="136.5" r="1.1" fill="url(#gCy)"/>
<circle cx="153.3" cy="125.8" r="1.6" fill="url(#gCy)"/>
<circle cx="140.1" cy="128.9" r="2.0" fill="url(#gCy)"/>
<circle cx="153.8" cy="134.2" r="1.5" fill="url(#gCy)"/>
<circle cx="152.5" cy="121.8" r="2.1" fill="url(#gCy)"/>
<circle cx="156.7" cy="128.4" r="1.5" fill="url(#gCy)"/>
<circle cx="148.7" cy="126.7" r="2.1" fill="url(#gCy)"/>
<circle cx="149.6" cy="142.0" r="1.0" fill="url(#gCy)"/>
<circle cx="152.8" cy="130.4" r="1.7" fill="url(#gCy)"/>
<circle cx="140.5" cy="128.6" r="1.5" fill="url(#gCy)"/>
<circle cx="142.3" cy="132.2" r="1.4" fill="url(#gCy)"/>
<circle cx="139.1" cy="129.1" r="2.0" fill="url(#gCy)"/>
<circle cx="140.9" cy="118.7" r="2.2" fill="url(#gCy)"/>
<circle cx="149.5" cy="125.8" r="2.1" fill="url(#gCy)"/>
<circle cx="157.8" cy="131.4" r="1.8" fill="url(#gCy)"/>
<circle cx="150.7" cy="121.7" r="1.5" fill="url(#gCy)"/>
<circle cx="148.4" cy="128.0" r="1.8" fill="url(#gCy)"/>
<circle cx="152.7" cy="134.3" r="1.8" fill="url(#gCy)"/>
<circle cx="148.1" cy="132.9" r="1.7" fill="url(#gCy)"/>
<circle cx="148.0" cy="132.8" r="1.5" fill="url(#gCy)"/>
<circle cx="147.3" cy="120.1" r="2.1" fill="url(#gCy)"/>
<circle cx="140.3" cy="117.7" r="1.2" fill="url(#gCy)"/>
<circle cx="146.1" cy="138.2" r="1.4" fill="url(#gCy)"/>
<circle cx="142.2" cy="128.8" r="2.2" fill="url(#gCy)"/>
<circle cx="138.2" cy="128.3" r="1.8" fill="url(#gCy)"/>
<circle cx="139.2" cy="119.8" r="1.7" fill="url(#gCy)"/>
<circle cx="155.7" cy="124.6" r="1.7" fill="url(#gCy)"/>
<circle cx="142.8" cy="133.2" r="1.4" fill="url(#gCy)"/>
<circle cx="140.9" cy="126.5" r="1.9" fill="url(#gCy)"/>
<circle cx="138.0" cy="118.9" r="1.1" fill="url(#gCy)"/>
<circle cx="147.5" cy="136.9" r="2.1" fill="url(#gCy)"/>
<circle cx="140.8" cy="118.7" r="1.5" fill="url(#gCy)"/>
<circle cx="156.2" cy="128.0" r="2.3" fill="url(#gCy)"/>
<circle cx="141.1" cy="128.3" r="2.1" fill="url(#gCy)"/>
<circle cx="147.2" cy="131.3" r="2.2" fill="url(#gCy)"/>
<circle cx="157.5" cy="127.8" r="1.3" fill="url(#gCy)"/>
<circle cx="147.8" cy="137.8" r="2.1" fill="url(#gCy)"/>
<circle cx="148.0" cy="133.2" r="1.6" fill="url(#gCy)"/>
<circle cx="150.6" cy="134.0" r="2.3" fill="url(#gCy)"/>
<circle cx="149.6" cy="134.4" r="2.2" fill="url(#gCy)"/>
<circle cx="137.3" cy="127.2" r="1.8" fill="url(#gCy)"/>
<circle cx="143.9" cy="126.9" r="1.5" fill="url(#gCy)"/>
<circle cx="152.9" cy="136.9" r="1.9" fill="url(#gCy)"/>
<circle cx="152.8" cy="136.1" r="1.9" fill="url(#gCy)"/>
<circle cx="146.8" cy="124.2" r="1.5" fill="url(#gCy)"/>
<circle cx="145.0" cy="125.0" r="1.9" fill="url(#gCy)"/>
<circle cx="148.4" cy="139.2" r="2.2" fill="url(#gCy)"/>
<circle cx="147.6" cy="128.3" r="1.8" fill="url(#gCy)"/>
<circle cx="147.6" cy="124.5" r="1.4" fill="url(#gCy)"/>
<circle cx="143.2" cy="132.6" r="1.4" fill="url(#gCy)"/>
<circle cx="147.0" cy="138.9" r="1.5" fill="url(#gCy)"/>
<circle cx="155.8" cy="132.5" r="2.1" fill="url(#gCy)"/>
<circle cx="141.4" cy="117.8" r="1.7" fill="url(#gCy)"/>
<circle cx="141.9" cy="120.5" r="2.1" fill="url(#gCy)"/>
<circle cx="146.0" cy="136.9" r="1.9" fill="url(#gCy)"/>
<circle cx="145.5" cy="136.0" r="1.5" fill="url(#gCy)"/>
<circle cx="138.3" cy="123.8" r="2.0" fill="url(#gCy)"/>
<circle cx="140.0" cy="127.7" r="1.9" fill="url(#gCy)"/>
<circle cx="152.9" cy="123.4" r="1.5" fill="url(#gCy)"/>
<circle cx="151.4" cy="131.0" r="1.7" fill="url(#gCy)"/>
<circle cx="142.0" cy="125.1" r="2.0" fill="url(#gCy)"/>
<circle cx="155.7" cy="130.6" r="1.6" fill="url(#gCy)"/>
<circle cx="155.6" cy="133.9" r="1.7" fill="url(#gCy)"/>
<circle cx="158.4" cy="129.6" r="1.4" fill="url(#gCy)"/>
<circle cx="148.2" cy="118.3" r="1.7" fill="url(#gCy)"/>
<circle cx="142.6" cy="132.2" r="1.9" fill="url(#gCy)"/>
<circle cx="152.5" cy="127.1" r="1.8" fill="url(#gCy)"/>
<circle cx="140.9" cy="126.1" r="2.0" fill="url(#gCy)"/>
<circle cx="158.3" cy="133.8" r="1.0" fill="url(#gCy)"/>
<circle cx="145.1" cy="130.0" r="1.8" fill="url(#gCy)"/>
<circle cx="156.6" cy="126.9" r="1.8" fill="url(#gCy)"/>
<circle cx="139.2" cy="123.2" r="2.1" fill="url(#gCy)"/>
<circle cx="149.3" cy="123.1" r="1.5" fill="url(#gCy)"/>
<circle cx="150.2" cy="132.7" r="2.0" fill="url(#gCy)"/>
<circle cx="138.1" cy="125.4" r="2.1" fill="url(#gCy)"/>
<circle cx="136.6" cy="123.4" r="1.6" fill="url(#gCy)"/>
<circle cx="147.1" cy="118.6" r="1.9" fill="url(#gCy)"/>
<circle cx="139.4" cy="123.3" r="2.1" fill="url(#gCy)"/>
<circle cx="153.3" cy="138.2" r="2.1" fill="url(#gCy)"/>
<circle cx="140.4" cy="118.3" r="1.6" fill="url(#gCy)"/>
<circle cx="146.2" cy="133.3" r="1.9" fill="url(#gCy)"/>
<circle cx="145.5" cy="118.5" r="1.5" fill="url(#gCy)"/>
<circle cx="157.2" cy="129.0" r="2.0" fill="url(#gCy)"/>
<circle cx="144.5" cy="121.5" r="1.5" fill="url(#gCy)"/>
<circle cx="149.6" cy="133.0" r="2.0" fill="url(#gCy)"/>
<path d="M154.2,141.2 L157.7,137.7 L162.3,136.0 L164.6,134.8 L168.1,137.1 L172.7,136.5 L176.2,137.7 L176.7,142.3 L176.2,146.9 L177.9,151.5 L178.5,156.2 L177.3,160.8 L176.2,165.4 L175.0,170.0 L172.7,170.6 L171.0,166.5 L166.9,161.9 L163.5,157.3 L160.0,152.7 L157.1,148.1 L154.8,144.6 Z" fill="#22742a" stroke="#22742a" stroke-width="1.2" stroke-linejoin="round" />
<circle cx="161.7" cy="152.7" r="2.1" fill="url(#gGr)"/>
<circle cx="172.8" cy="165.6" r="1.7" fill="url(#gGr)"/>
<circle cx="164.0" cy="157.3" r="1.4" fill="url(#gGr)"/>
<circle cx="163.5" cy="155.4" r="1.4" fill="url(#gGr)"/>
<circle cx="166.7" cy="145.5" r="1.9" fill="url(#gGr)"/>
<circle cx="170.1" cy="148.8" r="2.0" fill="url(#gGr)"/>
<circle cx="166.4" cy="140.3" r="2.0" fill="url(#gGr)"/>
<circle cx="164.6" cy="150.9" r="1.6" fill="url(#gGr)"/>
<circle cx="160.6" cy="144.8" r="2.0" fill="url(#gGr)"/>
<circle cx="166.5" cy="152.9" r="1.5" fill="url(#gGr)"/>
<circle cx="160.9" cy="143.4" r="1.7" fill="url(#gGr)"/>
<circle cx="156.6" cy="141.6" r="1.6" fill="url(#gGr)"/>
<circle cx="166.8" cy="140.8" r="1.5" fill="url(#gGr)"/>
<circle cx="163.2" cy="145.6" r="1.4" fill="url(#gGr)"/>
<circle cx="170.8" cy="163.2" r="1.9" fill="url(#gGr)"/>
<circle cx="167.5" cy="138.0" r="1.6" fill="url(#gGr)"/>
<circle cx="168.2" cy="144.1" r="2.2" fill="url(#gGr)"/>
<circle cx="172.8" cy="144.8" r="1.5" fill="url(#gGr)"/>
<circle cx="171.3" cy="141.3" r="1.5" fill="url(#gGr)"/>
<circle cx="172.5" cy="151.2" r="1.7" fill="url(#gGr)"/>
<circle cx="169.5" cy="160.9" r="2.2" fill="url(#gGr)"/>
<circle cx="176.0" cy="143.2" r="1.6" fill="url(#gGr)"/>
<circle cx="167.1" cy="150.3" r="2.0" fill="url(#gGr)"/>
<circle cx="171.1" cy="157.2" r="2.0" fill="url(#gGr)"/>
<circle cx="167.8" cy="147.6" r="2.3" fill="url(#gGr)"/>
<circle cx="176.6" cy="159.0" r="2.1" fill="url(#gGr)"/>
<circle cx="166.1" cy="155.7" r="2.3" fill="url(#gGr)"/>
<circle cx="173.9" cy="144.2" r="1.7" fill="url(#gGr)"/>
<circle cx="177.2" cy="154.3" r="1.8" fill="url(#gGr)"/>
<circle cx="168.7" cy="161.7" r="1.6" fill="url(#gGr)"/>
<circle cx="174.5" cy="149.1" r="1.9" fill="url(#gGr)"/>
<circle cx="155.7" cy="144.1" r="1.7" fill="url(#gGr)"/>
<circle cx="160.9" cy="144.6" r="1.6" fill="url(#gGr)"/>
<circle cx="167.5" cy="146.5" r="2.0" fill="url(#gGr)"/>
<circle cx="175.7" cy="154.2" r="2.1" fill="url(#gGr)"/>
<circle cx="165.1" cy="145.7" r="1.4" fill="url(#gGr)"/>
<circle cx="162.3" cy="144.3" r="1.4" fill="url(#gGr)"/>
<circle cx="163.5" cy="143.4" r="1.9" fill="url(#gGr)"/>
<circle cx="161.6" cy="149.2" r="1.9" fill="url(#gGr)"/>
<circle cx="172.8" cy="159.7" r="2.1" fill="url(#gGr)"/>
<circle cx="161.5" cy="139.8" r="1.8" fill="url(#gGr)"/>
<circle cx="158.1" cy="140.7" r="1.5" fill="url(#gGr)"/>
<circle cx="173.3" cy="150.0" r="2.1" fill="url(#gGr)"/>
<circle cx="173.2" cy="147.4" r="2.0" fill="url(#gGr)"/>
<circle cx="171.6" cy="141.5" r="1.5" fill="url(#gGr)"/>
<circle cx="171.8" cy="148.5" r="2.3" fill="url(#gGr)"/>
<circle cx="170.2" cy="162.3" r="1.9" fill="url(#gGr)"/>
<circle cx="176.0" cy="161.4" r="2.0" fill="url(#gGr)"/>
<circle cx="168.9" cy="139.3" r="2.1" fill="url(#gGr)"/>
<circle cx="155.8" cy="140.4" r="1.5" fill="url(#gGr)"/>
<circle cx="172.0" cy="158.2" r="1.8" fill="url(#gGr)"/>
<circle cx="167.7" cy="157.1" r="2.2" fill="url(#gGr)"/>
<circle cx="176.2" cy="157.7" r="2.3" fill="url(#gGr)"/>
<circle cx="160.2" cy="150.8" r="1.9" fill="url(#gGr)"/>
<circle cx="161.1" cy="147.5" r="1.4" fill="url(#gGr)"/>
<circle cx="166.5" cy="150.2" r="2.2" fill="url(#gGr)"/>
<circle cx="167.4" cy="156.0" r="2.3" fill="url(#gGr)"/>
<circle cx="168.6" cy="137.5" r="1.5" fill="url(#gGr)"/>
<circle cx="172.5" cy="151.4" r="1.9" fill="url(#gGr)"/>
<circle cx="165.3" cy="150.1" r="1.7" fill="url(#gGr)"/>
<circle cx="173.0" cy="170.3" r="1.2" fill="url(#gGr)"/>
<circle cx="173.9" cy="168.1" r="2.1" fill="url(#gGr)"/>
<circle cx="171.4" cy="157.9" r="1.8" fill="url(#gGr)"/>
<circle cx="173.1" cy="140.3" r="2.1" fill="url(#gGr)"/>
<circle cx="167.6" cy="156.0" r="1.4" fill="url(#gGr)"/>
<circle cx="158.9" cy="149.0" r="1.6" fill="url(#gGr)"/>
<circle cx="173.2" cy="167.0" r="1.4" fill="url(#gGr)"/>
<circle cx="174.4" cy="149.2" r="1.7" fill="url(#gGr)"/>
<circle cx="174.3" cy="169.3" r="1.8" fill="url(#gGr)"/>
<circle cx="165.6" cy="145.7" r="1.6" fill="url(#gGr)"/>
<circle cx="169.8" cy="147.6" r="1.6" fill="url(#gGr)"/>
<circle cx="167.5" cy="155.7" r="1.6" fill="url(#gGr)"/>
<circle cx="162.8" cy="145.1" r="1.9" fill="url(#gGr)"/>
<circle cx="169.5" cy="140.0" r="1.7" fill="url(#gGr)"/>
<circle cx="166.6" cy="160.3" r="1.4" fill="url(#gGr)"/>
<circle cx="174.7" cy="161.6" r="1.6" fill="url(#gGr)"/>
<circle cx="162.5" cy="145.2" r="2.0" fill="url(#gGr)"/>
<circle cx="171.6" cy="161.7" r="1.6" fill="url(#gGr)"/>
<circle cx="163.0" cy="149.1" r="1.4" fill="url(#gGr)"/>
<circle cx="157.9" cy="148.0" r="1.7" fill="url(#gGr)"/>
<circle cx="161.0" cy="153.0" r="1.6" fill="url(#gGr)"/>
<circle cx="169.7" cy="139.1" r="1.5" fill="url(#gGr)"/>
<circle cx="161.1" cy="145.8" r="1.5" fill="url(#gGr)"/>
<circle cx="165.4" cy="141.4" r="1.8" fill="url(#gGr)"/>
<circle cx="168.8" cy="154.3" r="2.0" fill="url(#gGr)"/>
<circle cx="169.9" cy="153.1" r="2.0" fill="url(#gGr)"/>
<circle cx="172.0" cy="141.7" r="2.0" fill="url(#gGr)"/>
<circle cx="161.6" cy="142.5" r="2.0" fill="url(#gGr)"/>
<circle cx="174.0" cy="167.7" r="1.6" fill="url(#gGr)"/>
<circle cx="174.1" cy="143.9" r="2.0" fill="url(#gGr)"/>
<circle cx="169.9" cy="143.6" r="2.0" fill="url(#gGr)"/>
<circle cx="162.9" cy="149.4" r="1.8" fill="url(#gGr)"/>
<circle cx="171.3" cy="158.8" r="2.2" fill="url(#gGr)"/>
<circle cx="164.2" cy="137.9" r="1.9" fill="url(#gGr)"/>
<circle cx="163.4" cy="150.1" r="1.8" fill="url(#gGr)"/>
<circle cx="173.6" cy="146.7" r="1.5" fill="url(#gGr)"/>
<circle cx="164.3" cy="140.5" r="2.1" fill="url(#gGr)"/>
<circle cx="175.3" cy="155.7" r="2.0" fill="url(#gGr)"/>
<circle cx="166.9" cy="155.9" r="1.8" fill="url(#gGr)"/>
<circle cx="173.5" cy="151.6" r="1.9" fill="url(#gGr)"/>
<circle cx="174.6" cy="146.2" r="1.5" fill="url(#gGr)"/>
<circle cx="172.9" cy="137.3" r="1.5" fill="url(#gGr)"/>
<circle cx="176.4" cy="161.7" r="1.7" fill="url(#gGr)"/>
<circle cx="174.9" cy="139.6" r="1.5" fill="url(#gGr)"/>
<circle cx="166.2" cy="138.6" r="2.1" fill="url(#gGr)"/>
<circle cx="161.5" cy="148.1" r="2.0" fill="url(#gGr)"/>
<circle cx="164.2" cy="150.2" r="1.6" fill="url(#gGr)"/>
<circle cx="155.5" cy="142.0" r="1.6" fill="url(#gGr)"/>
<circle cx="174.6" cy="147.3" r="1.7" fill="url(#gGr)"/>
<circle cx="173.1" cy="145.5" r="2.2" fill="url(#gGr)"/>
<circle cx="172.2" cy="163.0" r="2.2" fill="url(#gGr)"/>
<circle cx="162.8" cy="140.1" r="1.5" fill="url(#gGr)"/>
<circle cx="173.1" cy="146.7" r="1.7" fill="url(#gGr)"/>
<circle cx="166.5" cy="151.0" r="1.9" fill="url(#gGr)"/>
<circle cx="160.6" cy="148.5" r="1.9" fill="url(#gGr)"/>
<circle cx="172.7" cy="156.5" r="2.2" fill="url(#gGr)"/>
<circle cx="172.6" cy="146.7" r="1.7" fill="url(#gGr)"/>
<circle cx="166.7" cy="145.7" r="1.5" fill="url(#gGr)"/>
<circle cx="170.7" cy="166.1" r="1.0" fill="url(#gGr)"/>
<circle cx="176.2" cy="153.4" r="2.2" fill="url(#gGr)"/>
<circle cx="170.1" cy="147.9" r="1.5" fill="url(#gGr)"/>
<circle cx="164.6" cy="145.8" r="1.6" fill="url(#gGr)"/>
<circle cx="164.0" cy="143.9" r="2.0" fill="url(#gGr)"/>
<circle cx="177.2" cy="150.1" r="1.2" fill="url(#gGr)"/>
<circle cx="172.5" cy="138.7" r="1.7" fill="url(#gGr)"/>
<circle cx="173.4" cy="166.4" r="1.5" fill="url(#gGr)"/>
<circle cx="165.5" cy="156.0" r="2.2" fill="url(#gGr)"/>
<circle cx="165.3" cy="157.3" r="1.6" fill="url(#gGr)"/>
<circle cx="164.4" cy="138.2" r="2.2" fill="url(#gGr)"/>
<circle cx="175.5" cy="157.6" r="1.6" fill="url(#gGr)"/>
<circle cx="170.3" cy="139.5" r="2.3" fill="url(#gGr)"/>
<circle cx="174.8" cy="152.4" r="1.8" fill="url(#gGr)"/>
<circle cx="172.9" cy="161.2" r="2.0" fill="url(#gGr)"/>
<circle cx="161.4" cy="146.2" r="2.3" fill="url(#gGr)"/>
<circle cx="175.4" cy="158.0" r="1.8" fill="url(#gGr)"/>
<circle cx="159.6" cy="139.7" r="1.8" fill="url(#gGr)"/>
<circle cx="164.5" cy="136.6" r="1.8" fill="url(#gGr)"/>
<circle cx="161.2" cy="147.6" r="1.7" fill="url(#gGr)"/>
<circle cx="170.5" cy="144.1" r="1.7" fill="url(#gGr)"/>
<circle cx="162.7" cy="137.2" r="1.8" fill="url(#gGr)"/>
<circle cx="171.7" cy="144.7" r="2.2" fill="url(#gGr)"/>
<circle cx="168.6" cy="161.6" r="1.5" fill="url(#gGr)"/>
<path d="M54.2,186.5 L55.7,181.1 L58.8,176.5 L63.4,174.2 L69.5,174.2 L74.2,177.2 L77.2,181.1 L80.3,182.6 L84.2,181.1 L88.0,178.8 L91.1,174.9 L93.4,171.1 L95.7,166.5 L98.8,164.2 L106.5,164.2 L114.2,164.9 L120.3,167.2 L121.8,171.8 L120.3,176.5 L118.8,182.6 L115.7,184.9 L112.6,183.4 L109.5,187.2 L108.8,193.4 L106.5,198.0 L101.8,199.5 L97.2,197.2 L94.2,193.4 L91.1,192.6 L88.0,194.9 L84.9,199.5 L80.3,202.6 L75.7,204.2 L71.1,203.4 L66.5,201.1 L61.8,198.8 L57.2,196.5 L54.2,191.8 Z" fill="#c9a73a" stroke="#c9a73a" stroke-width="1.2" stroke-linejoin="round" />
<circle cx="117.6" cy="181.2" r="2.3" fill="url(#gYe)"/>
<circle cx="61.1" cy="179.4" r="2.5" fill="url(#gYe)"/>
<circle cx="97.0" cy="189.8" r="2.4" fill="url(#gYe)"/>
<circle cx="59.4" cy="178.2" r="2.4" fill="url(#gYe)"/>
<circle cx="80.6" cy="199.1" r="1.9" fill="url(#gYe)"/>
<circle cx="107.4" cy="169.0" r="2.6" fill="url(#gYe)"/>
<circle cx="79.1" cy="190.9" r="2.3" fill="url(#gYe)"/>
<circle cx="106.0" cy="189.0" r="1.9" fill="url(#gYe)"/>
<circle cx="97.7" cy="191.6" r="1.7" fill="url(#gYe)"/>
<circle cx="68.7" cy="174.8" r="1.6" fill="url(#gYe)"/>
<circle cx="105.0" cy="165.7" r="2.5" fill="url(#gYe)"/>
<circle cx="101.4" cy="195.8" r="2.2" fill="url(#gYe)"/>
<circle cx="109.4" cy="172.1" r="2.2" fill="url(#gYe)"/>
<circle cx="101.7" cy="166.7" r="2.1" fill="url(#gYe)"/>
<circle cx="90.3" cy="185.5" r="2.5" fill="url(#gYe)"/>
<circle cx="93.5" cy="173.4" r="2.0" fill="url(#gYe)"/>
<circle cx="81.8" cy="189.4" r="2.4" fill="url(#gYe)"/>
<circle cx="58.9" cy="188.5" r="2.0" fill="url(#gYe)"/>
<circle cx="112.3" cy="177.4" r="2.0" fill="url(#gYe)"/>
<circle cx="69.9" cy="187.0" r="2.0" fill="url(#gYe)"/>
<circle cx="59.8" cy="182.0" r="2.4" fill="url(#gYe)"/>
<circle cx="106.6" cy="194.0" r="2.0" fill="url(#gYe)"/>
<circle cx="110.5" cy="179.7" r="1.8" fill="url(#gYe)"/>
<circle cx="105.5" cy="181.7" r="1.9" fill="url(#gYe)"/>
<circle cx="107.0" cy="168.6" r="2.1" fill="url(#gYe)"/>
<circle cx="95.8" cy="191.6" r="1.9" fill="url(#gYe)"/>
<circle cx="62.2" cy="188.5" r="2.4" fill="url(#gYe)"/>
<circle cx="97.1" cy="166.8" r="2.1" fill="url(#gYe)"/>
<circle cx="76.5" cy="192.6" r="2.3" fill="url(#gYe)"/>
<circle cx="66.8" cy="199.3" r="2.3" fill="url(#gYe)"/>
<circle cx="85.7" cy="197.3" r="1.6" fill="url(#gYe)"/>
<circle cx="58.0" cy="193.1" r="1.9" fill="url(#gYe)"/>
<circle cx="95.5" cy="190.6" r="1.6" fill="url(#gYe)"/>
<circle cx="74.0" cy="199.7" r="1.9" fill="url(#gYe)"/>
<circle cx="98.5" cy="183.2" r="2.4" fill="url(#gYe)"/>
<circle cx="71.0" cy="194.5" r="2.1" fill="url(#gYe)"/>
<circle cx="110.3" cy="185.1" r="1.7" fill="url(#gYe)"/>
<circle cx="91.6" cy="178.8" r="2.2" fill="url(#gYe)"/>
<circle cx="83.9" cy="194.0" r="2.1" fill="url(#gYe)"/>
<circle cx="65.7" cy="188.5" r="2.3" fill="url(#gYe)"/>
<circle cx="70.3" cy="187.3" r="1.7" fill="url(#gYe)"/>
<circle cx="105.2" cy="168.3" r="2.0" fill="url(#gYe)"/>
<circle cx="84.2" cy="188.4" r="1.9" fill="url(#gYe)"/>
<circle cx="68.3" cy="177.7" r="2.3" fill="url(#gYe)"/>
<circle cx="108.0" cy="172.2" r="2.0" fill="url(#gYe)"/>
<circle cx="82.4" cy="184.2" r="2.6" fill="url(#gYe)"/>
<circle cx="99.2" cy="168.2" r="1.8" fill="url(#gYe)"/>
<circle cx="108.0" cy="180.1" r="2.5" fill="url(#gYe)"/>
<circle cx="75.2" cy="190.2" r="1.9" fill="url(#gYe)"/>
<circle cx="89.7" cy="191.2" r="1.9" fill="url(#gYe)"/>
<circle cx="91.8" cy="181.6" r="1.7" fill="url(#gYe)"/>
<circle cx="62.1" cy="175.0" r="1.1" fill="url(#gYe)"/>
<circle cx="98.8" cy="170.3" r="2.1" fill="url(#gYe)"/>
<circle cx="111.0" cy="174.7" r="2.2" fill="url(#gYe)"/>
<circle cx="60.7" cy="194.4" r="1.7" fill="url(#gYe)"/>
<circle cx="57.4" cy="180.2" r="1.9" fill="url(#gYe)"/>
<circle cx="101.5" cy="188.6" r="2.0" fill="url(#gYe)"/>
<circle cx="92.1" cy="178.9" r="1.8" fill="url(#gYe)"/>
<circle cx="105.1" cy="183.6" r="2.6" fill="url(#gYe)"/>
<circle cx="64.8" cy="193.0" r="2.2" fill="url(#gYe)"/>
<circle cx="56.9" cy="179.5" r="1.1" fill="url(#gYe)"/>
<circle cx="76.7" cy="197.6" r="2.4" fill="url(#gYe)"/>
<circle cx="62.3" cy="180.2" r="1.8" fill="url(#gYe)"/>
<circle cx="113.7" cy="175.4" r="2.2" fill="url(#gYe)"/>
<circle cx="73.7" cy="188.6" r="2.3" fill="url(#gYe)"/>
<circle cx="67.8" cy="191.5" r="1.6" fill="url(#gYe)"/>
<circle cx="77.2" cy="199.2" r="2.5" fill="url(#gYe)"/>
<circle cx="65.6" cy="184.4" r="1.9" fill="url(#gYe)"/>
<circle cx="60.4" cy="192.7" r="2.1" fill="url(#gYe)"/>
<circle cx="98.4" cy="187.1" r="2.1" fill="url(#gYe)"/>
<circle cx="68.9" cy="188.3" r="1.7" fill="url(#gYe)"/>
<circle cx="105.6" cy="190.5" r="2.6" fill="url(#gYe)"/>
<circle cx="118.9" cy="181.1" r="1.2" fill="url(#gYe)"/>
<circle cx="88.2" cy="191.4" r="2.0" fill="url(#gYe)"/>
<circle cx="90.5" cy="186.3" r="2.1" fill="url(#gYe)"/>
<circle cx="70.2" cy="181.6" r="2.2" fill="url(#gYe)"/>
<circle cx="97.5" cy="187.1" r="2.2" fill="url(#gYe)"/>
<circle cx="65.4" cy="196.3" r="2.5" fill="url(#gYe)"/>
<circle cx="66.5" cy="188.8" r="1.8" fill="url(#gYe)"/>
<circle cx="92.5" cy="185.5" r="2.1" fill="url(#gYe)"/>
<circle cx="114.3" cy="171.1" r="2.6" fill="url(#gYe)"/>
<circle cx="70.3" cy="185.5" r="2.1" fill="url(#gYe)"/>
<circle cx="100.6" cy="175.3" r="2.2" fill="url(#gYe)"/>
<circle cx="100.0" cy="180.6" r="1.7" fill="url(#gYe)"/>
<circle cx="97.5" cy="188.0" r="1.7" fill="url(#gYe)"/>
<circle cx="79.1" cy="187.2" r="2.1" fill="url(#gYe)"/>
<circle cx="78.2" cy="183.7" r="2.6" fill="url(#gYe)"/>
<circle cx="68.8" cy="195.2" r="1.8" fill="url(#gYe)"/>
<circle cx="64.1" cy="180.7" r="2.5" fill="url(#gYe)"/>
<circle cx="97.2" cy="182.3" r="1.6" fill="url(#gYe)"/>
<circle cx="81.1" cy="192.3" r="2.3" fill="url(#gYe)"/>
<circle cx="104.8" cy="187.4" r="1.8" fill="url(#gYe)"/>
<circle cx="90.9" cy="192.7" r="1.1" fill="url(#gYe)"/>
<circle cx="66.1" cy="200.4" r="1.5" fill="url(#gYe)"/>
<circle cx="98.1" cy="165.7" r="1.8" fill="url(#gYe)"/>
<circle cx="81.7" cy="190.8" r="2.5" fill="url(#gYe)"/>
<circle cx="83.4" cy="189.5" r="2.4" fill="url(#gYe)"/>
<circle cx="95.6" cy="171.5" r="2.1" fill="url(#gYe)"/>
<circle cx="61.2" cy="190.5" r="1.9" fill="url(#gYe)"/>
<circle cx="100.4" cy="170.7" r="2.5" fill="url(#gYe)"/>
<circle cx="90.2" cy="182.2" r="1.8" fill="url(#gYe)"/>
<circle cx="62.7" cy="185.7" r="1.9" fill="url(#gYe)"/>
<circle cx="74.7" cy="189.6" r="1.8" fill="url(#gYe)"/>
<circle cx="58.1" cy="188.4" r="2.5" fill="url(#gYe)"/>
<circle cx="98.6" cy="185.1" r="2.4" fill="url(#gYe)"/>
<circle cx="74.7" cy="203.2" r="1.8" fill="url(#gYe)"/>
<circle cx="96.7" cy="183.5" r="2.1" fill="url(#gYe)"/>
<circle cx="103.1" cy="187.8" r="2.3" fill="url(#gYe)"/>
<circle cx="79.4" cy="193.1" r="1.9" fill="url(#gYe)"/>
<circle cx="78.5" cy="199.5" r="2.2" fill="url(#gYe)"/>
<circle cx="111.1" cy="183.2" r="2.3" fill="url(#gYe)"/>
<circle cx="60.9" cy="180.7" r="2.5" fill="url(#gYe)"/>
<circle cx="100.8" cy="187.6" r="2.1" fill="url(#gYe)"/>
<circle cx="56.2" cy="188.8" r="1.6" fill="url(#gYe)"/>
<circle cx="106.5" cy="192.8" r="1.9" fill="url(#gYe)"/>
<circle cx="107.2" cy="186.8" r="2.3" fill="url(#gYe)"/>
<circle cx="86.9" cy="181.4" r="1.9" fill="url(#gYe)"/>
<circle cx="83.8" cy="195.1" r="1.7" fill="url(#gYe)"/>
<circle cx="89.5" cy="178.4" r="1.9" fill="url(#gYe)"/>
<circle cx="105.0" cy="174.8" r="2.4" fill="url(#gYe)"/>
<circle cx="99.1" cy="180.3" r="2.2" fill="url(#gYe)"/>
<circle cx="101.9" cy="180.9" r="2.5" fill="url(#gYe)"/>
<circle cx="104.2" cy="194.1" r="2.0" fill="url(#gYe)"/>
<circle cx="121.1" cy="169.9" r="1.1" fill="url(#gYe)"/>
<circle cx="68.1" cy="194.3" r="2.1" fill="url(#gYe)"/>
<circle cx="64.9" cy="182.2" r="1.9" fill="url(#gYe)"/>
<circle cx="91.2" cy="188.7" r="1.6" fill="url(#gYe)"/>
<circle cx="71.0" cy="194.6" r="1.7" fill="url(#gYe)"/>
<circle cx="56.5" cy="191.0" r="1.8" fill="url(#gYe)"/>
<circle cx="111.6" cy="178.2" r="1.7" fill="url(#gYe)"/>
<circle cx="74.1" cy="189.3" r="2.4" fill="url(#gYe)"/>
<circle cx="64.8" cy="197.1" r="2.4" fill="url(#gYe)"/>
<circle cx="74.9" cy="197.9" r="1.8" fill="url(#gYe)"/>
<circle cx="110.7" cy="181.3" r="2.2" fill="url(#gYe)"/>
<circle cx="101.3" cy="198.3" r="1.9" fill="url(#gYe)"/>
<circle cx="109.9" cy="184.8" r="2.2" fill="url(#gYe)"/>
<circle cx="68.1" cy="184.6" r="2.5" fill="url(#gYe)"/>
<circle cx="87.2" cy="179.8" r="1.4" fill="url(#gYe)"/>
<circle cx="92.2" cy="188.8" r="1.9" fill="url(#gYe)"/>
<circle cx="120.5" cy="174.8" r="1.3" fill="url(#gYe)"/>
<circle cx="95.2" cy="187.7" r="2.2" fill="url(#gYe)"/>
<circle cx="76.5" cy="186.5" r="1.8" fill="url(#gYe)"/>
<circle cx="96.2" cy="175.6" r="2.4" fill="url(#gYe)"/>
<circle cx="71.4" cy="188.8" r="1.8" fill="url(#gYe)"/>
<circle cx="106.3" cy="192.0" r="2.6" fill="url(#gYe)"/>
<circle cx="74.4" cy="201.3" r="2.3" fill="url(#gYe)"/>
<circle cx="100.3" cy="190.5" r="1.7" fill="url(#gYe)"/>
<circle cx="95.0" cy="174.0" r="2.4" fill="url(#gYe)"/>
<circle cx="62.1" cy="187.0" r="1.8" fill="url(#gYe)"/>
<circle cx="97.7" cy="166.6" r="2.2" fill="url(#gYe)"/>
<circle cx="91.0" cy="190.4" r="1.9" fill="url(#gYe)"/>
<circle cx="102.2" cy="191.6" r="2.2" fill="url(#gYe)"/>
<circle cx="101.9" cy="181.3" r="1.8" fill="url(#gYe)"/>
<circle cx="108.8" cy="176.3" r="2.4" fill="url(#gYe)"/>
<circle cx="78.3" cy="182.3" r="1.6" fill="url(#gYe)"/>
<circle cx="55.3" cy="192.3" r="1.7" fill="url(#gYe)"/>
<circle cx="62.1" cy="195.2" r="2.5" fill="url(#gYe)"/>
<circle cx="69.0" cy="175.6" r="2.1" fill="url(#gYe)"/>
<circle cx="117.2" cy="166.6" r="1.5" fill="url(#gYe)"/>
<circle cx="70.5" cy="192.4" r="2.3" fill="url(#gYe)"/>
<circle cx="112.1" cy="173.7" r="2.3" fill="url(#gYe)"/>
<circle cx="110.4" cy="165.4" r="1.9" fill="url(#gYe)"/>
<circle cx="94.1" cy="185.5" r="2.3" fill="url(#gYe)"/>
<circle cx="84.7" cy="193.3" r="2.5" fill="url(#gYe)"/>
<circle cx="63.4" cy="197.4" r="2.0" fill="url(#gYe)"/>
<circle cx="73.2" cy="190.1" r="2.4" fill="url(#gYe)"/>
<circle cx="64.3" cy="188.9" r="2.5" fill="url(#gYe)"/>
<circle cx="117.0" cy="174.0" r="2.2" fill="url(#gYe)"/>
<circle cx="105.9" cy="181.4" r="2.2" fill="url(#gYe)"/>
<circle cx="106.7" cy="173.8" r="1.8" fill="url(#gYe)"/>
<circle cx="101.9" cy="190.7" r="2.3" fill="url(#gYe)"/>
<circle cx="64.9" cy="189.4" r="2.2" fill="url(#gYe)"/>
<circle cx="109.7" cy="175.8" r="1.7" fill="url(#gYe)"/>
<circle cx="59.5" cy="196.3" r="2.0" fill="url(#gYe)"/>
<circle cx="91.0" cy="183.0" r="1.8" fill="url(#gYe)"/>
<circle cx="104.4" cy="168.8" r="1.7" fill="url(#gYe)"/>
<circle cx="64.4" cy="180.7" r="1.9" fill="url(#gYe)"/>
<circle cx="88.4" cy="179.9" r="2.1" fill="url(#gYe)"/>
<circle cx="93.9" cy="190.6" r="2.2" fill="url(#gYe)"/>
<circle cx="73.8" cy="183.5" r="1.7" fill="url(#gYe)"/>
<circle cx="113.0" cy="182.3" r="2.1" fill="url(#gYe)"/>
<circle cx="97.0" cy="187.2" r="2.5" fill="url(#gYe)"/>
<circle cx="86.4" cy="183.6" r="2.1" fill="url(#gYe)"/>
<circle cx="112.0" cy="170.0" r="1.7" fill="url(#gYe)"/>
<circle cx="90.7" cy="181.8" r="1.9" fill="url(#gYe)"/>
<circle cx="117.4" cy="177.2" r="2.2" fill="url(#gYe)"/>
<circle cx="56.4" cy="195.2" r="1.1" fill="url(#gYe)"/>
<circle cx="119.4" cy="172.9" r="2.4" fill="url(#gYe)"/>
<circle cx="85.2" cy="182.8" r="2.0" fill="url(#gYe)"/>
<circle cx="98.2" cy="192.8" r="2.6" fill="url(#gYe)"/>
<circle cx="116.9" cy="168.9" r="1.9" fill="url(#gYe)"/>
<circle cx="108.2" cy="177.4" r="2.2" fill="url(#gYe)"/>
<circle cx="115.1" cy="177.0" r="2.1" fill="url(#gYe)"/>
<circle cx="105.1" cy="188.0" r="2.0" fill="url(#gYe)"/>
<circle cx="80.6" cy="193.6" r="2.4" fill="url(#gYe)"/>
<circle cx="57.7" cy="186.8" r="2.6" fill="url(#gYe)"/>
<circle cx="62.6" cy="197.9" r="2.2" fill="url(#gYe)"/>
<circle cx="100.2" cy="190.8" r="1.8" fill="url(#gYe)"/>
<circle cx="98.6" cy="178.6" r="2.2" fill="url(#gYe)"/>
<circle cx="102.0" cy="199.4" r="1.1" fill="url(#gYe)"/>
<circle cx="80.0" cy="194.0" r="2.3" fill="url(#gYe)"/>
<circle cx="110.7" cy="167.1" r="2.1" fill="url(#gYe)"/>
<circle cx="96.2" cy="182.4" r="1.7" fill="url(#gYe)"/>
<circle cx="67.5" cy="185.7" r="2.4" fill="url(#gYe)"/>
<circle cx="77.3" cy="200.2" r="2.4" fill="url(#gYe)"/>
<circle cx="68.2" cy="180.2" r="2.4" fill="url(#gYe)"/>
<circle cx="104.2" cy="183.0" r="2.1" fill="url(#gYe)"/>
<circle cx="58.5" cy="177.6" r="1.4" fill="url(#gYe)"/>
<circle cx="59.3" cy="178.9" r="1.6" fill="url(#gYe)"/>
<circle cx="117.8" cy="183.1" r="1.2" fill="url(#gYe)"/>
<circle cx="68.0" cy="178.7" r="1.8" fill="url(#gYe)"/>
<circle cx="72.9" cy="188.9" r="1.8" fill="url(#gYe)"/>
<circle cx="93.5" cy="186.2" r="2.2" fill="url(#gYe)"/>
<circle cx="111.1" cy="179.3" r="2.4" fill="url(#gYe)"/>
<circle cx="67.8" cy="190.1" r="2.0" fill="url(#gYe)"/>
<circle cx="69.5" cy="200.1" r="2.1" fill="url(#gYe)"/>
<circle cx="91.5" cy="176.6" r="2.1" fill="url(#gYe)"/>
<circle cx="68.9" cy="191.7" r="1.9" fill="url(#gYe)"/>
<circle cx="120.0" cy="167.1" r="1.0" fill="url(#gYe)"/>
<circle cx="76.8" cy="184.7" r="1.9" fill="url(#gYe)"/>
<circle cx="67.7" cy="196.3" r="2.5" fill="url(#gYe)"/>
<circle cx="72.5" cy="188.5" r="1.8" fill="url(#gYe)"/>
<circle cx="55.6" cy="190.6" r="2.2" fill="url(#gYe)"/>
<circle cx="109.4" cy="171.2" r="2.4" fill="url(#gYe)"/>
<circle cx="98.3" cy="172.6" r="2.1" fill="url(#gYe)"/>
<circle cx="96.4" cy="171.4" r="2.3" fill="url(#gYe)"/>
<circle cx="73.9" cy="185.8" r="1.8" fill="url(#gYe)"/>
<circle cx="80.0" cy="189.8" r="1.7" fill="url(#gYe)"/>
<circle cx="56.7" cy="185.9" r="1.9" fill="url(#gYe)"/>
<circle cx="58.0" cy="190.2" r="2.2" fill="url(#gYe)"/>
<circle cx="101.0" cy="169.2" r="2.3" fill="url(#gYe)"/>
<circle cx="71.5" cy="199.8" r="2.2" fill="url(#gYe)"/>
<circle cx="91.3" cy="189.6" r="2.3" fill="url(#gYe)"/>
<circle cx="108.6" cy="166.9" r="1.6" fill="url(#gYe)"/>
<circle cx="91.3" cy="183.7" r="2.2" fill="url(#gYe)"/>
<circle cx="66.8" cy="193.6" r="2.5" fill="url(#gYe)"/>
<circle cx="82.4" cy="193.6" r="1.8" fill="url(#gYe)"/>
<circle cx="63.4" cy="186.5" r="2.2" fill="url(#gYe)"/>
<circle cx="119.8" cy="167.5" r="1.5" fill="url(#gYe)"/>
<circle cx="113.2" cy="182.5" r="2.0" fill="url(#gYe)"/>
<circle cx="118.5" cy="181.1" r="1.6" fill="url(#gYe)"/>
<circle cx="101.9" cy="167.0" r="1.9" fill="url(#gYe)"/>
<circle cx="84.5" cy="190.2" r="2.5" fill="url(#gYe)"/>
<circle cx="80.3" cy="185.2" r="2.1" fill="url(#gYe)"/>
<circle cx="110.8" cy="174.1" r="2.5" fill="url(#gYe)"/>
<circle cx="119.3" cy="179.6" r="1.3" fill="url(#gYe)"/>
<circle cx="77.4" cy="201.3" r="1.8" fill="url(#gYe)"/>
<circle cx="92.3" cy="181.4" r="1.8" fill="url(#gYe)"/>
<circle cx="106.6" cy="177.3" r="1.9" fill="url(#gYe)"/>
<circle cx="119.9" cy="173.9" r="2.2" fill="url(#gYe)"/>
<circle cx="62.4" cy="187.6" r="2.0" fill="url(#gYe)"/>
<circle cx="105.6" cy="174.9" r="1.9" fill="url(#gYe)"/>
<circle cx="95.0" cy="179.0" r="2.1" fill="url(#gYe)"/>
<circle cx="76.6" cy="198.9" r="2.2" fill="url(#gYe)"/>
<circle cx="115.4" cy="170.3" r="1.9" fill="url(#gYe)"/>
<circle cx="98.9" cy="169.6" r="2.4" fill="url(#gYe)"/>
<circle cx="67.6" cy="191.1" r="1.7" fill="url(#gYe)"/>
<circle cx="100.6" cy="186.3" r="2.2" fill="url(#gYe)"/>
<circle cx="92.8" cy="181.0" r="2.6" fill="url(#gYe)"/>
<circle cx="71.4" cy="195.6" r="2.1" fill="url(#gYe)"/>
<circle cx="80.3" cy="192.3" r="2.6" fill="url(#gYe)"/>
<circle cx="97.4" cy="180.6" r="2.5" fill="url(#gYe)"/>
<circle cx="55.3" cy="186.0" r="1.9" fill="url(#gYe)"/>
<circle cx="81.1" cy="196.2" r="2.0" fill="url(#gYe)"/>
<circle cx="101.4" cy="188.7" r="2.5" fill="url(#gYe)"/>
<circle cx="69.1" cy="186.3" r="1.9" fill="url(#gYe)"/>
<circle cx="70.0" cy="188.1" r="1.9" fill="url(#gYe)"/>
<circle cx="77.1" cy="193.1" r="2.3" fill="url(#gYe)"/>
<circle cx="108.5" cy="173.9" r="1.9" fill="url(#gYe)"/>
<circle cx="96.8" cy="177.6" r="1.8" fill="url(#gYe)"/>
<circle cx="88.1" cy="194.6" r="1.2" fill="url(#gYe)"/>
<circle cx="111.4" cy="180.7" r="2.4" fill="url(#gYe)"/>
<circle cx="118.2" cy="181.3" r="1.6" fill="url(#gYe)"/>
<circle cx="119.0" cy="176.9" r="1.8" fill="url(#gYe)"/>
<circle cx="87.1" cy="184.1" r="1.9" fill="url(#gYe)"/>
<circle cx="72.3" cy="198.9" r="1.8" fill="url(#gYe)"/>
<circle cx="95.1" cy="174.8" r="2.0" fill="url(#gYe)"/>
<circle cx="64.9" cy="181.9" r="2.0" fill="url(#gYe)"/>
<circle cx="101.1" cy="197.3" r="1.6" fill="url(#gYe)"/>
<circle cx="81.8" cy="187.0" r="2.5" fill="url(#gYe)"/>
<circle cx="91.0" cy="188.0" r="2.1" fill="url(#gYe)"/>
<circle cx="91.8" cy="186.0" r="2.1" fill="url(#gYe)"/>
<circle cx="81.2" cy="186.5" r="2.2" fill="url(#gYe)"/>
<circle cx="97.2" cy="176.2" r="2.0" fill="url(#gYe)"/>
<circle cx="81.4" cy="189.3" r="1.9" fill="url(#gYe)"/>
<circle cx="79.0" cy="201.7" r="2.0" fill="url(#gYe)"/>
<circle cx="98.1" cy="183.7" r="2.3" fill="url(#gYe)"/>
<circle cx="69.7" cy="201.0" r="2.2" fill="url(#gYe)"/>
<circle cx="101.8" cy="175.6" r="2.6" fill="url(#gYe)"/>
<circle cx="76.8" cy="200.0" r="2.4" fill="url(#gYe)"/>
<circle cx="95.0" cy="174.4" r="2.2" fill="url(#gYe)"/>
<circle cx="72.9" cy="198.8" r="2.4" fill="url(#gYe)"/>
<circle cx="66.4" cy="194.8" r="2.3" fill="url(#gYe)"/>
<circle cx="106.2" cy="176.6" r="1.9" fill="url(#gYe)"/>
<circle cx="70.7" cy="200.0" r="1.6" fill="url(#gYe)"/>
<circle cx="110.4" cy="165.2" r="1.6" fill="url(#gYe)"/>
<circle cx="71.2" cy="178.1" r="1.8" fill="url(#gYe)"/>
<circle cx="106.0" cy="177.0" r="2.0" fill="url(#gYe)"/>
<circle cx="79.2" cy="197.7" r="2.2" fill="url(#gYe)"/>
<circle cx="69.1" cy="198.0" r="2.0" fill="url(#gYe)"/>
<circle cx="63.3" cy="184.0" r="1.7" fill="url(#gYe)"/>
<circle cx="61.5" cy="192.0" r="2.0" fill="url(#gYe)"/>
<circle cx="106.0" cy="167.7" r="2.6" fill="url(#gYe)"/>
<circle cx="105.1" cy="178.2" r="2.2" fill="url(#gYe)"/>
<circle cx="115.2" cy="168.2" r="1.6" fill="url(#gYe)"/>
<circle cx="74.7" cy="184.5" r="2.2" fill="url(#gYe)"/>
<circle cx="75.7" cy="182.8" r="2.4" fill="url(#gYe)"/>
<circle cx="96.8" cy="194.3" r="1.6" fill="url(#gYe)"/>
<circle cx="68.1" cy="201.8" r="1.1" fill="url(#gYe)"/>
<circle cx="98.9" cy="192.3" r="2.4" fill="url(#gYe)"/>
<circle cx="94.0" cy="183.7" r="2.3" fill="url(#gYe)"/>
<circle cx="93.0" cy="174.8" r="2.0" fill="url(#gYe)"/>
<circle cx="101.0" cy="187.8" r="1.9" fill="url(#gYe)"/>
<circle cx="76.7" cy="187.6" r="1.8" fill="url(#gYe)"/>
<circle cx="86.6" cy="191.5" r="2.2" fill="url(#gYe)"/>
<circle cx="93.6" cy="187.9" r="2.5" fill="url(#gYe)"/>
<circle cx="72.1" cy="193.5" r="2.3" fill="url(#gYe)"/>
<circle cx="68.4" cy="199.9" r="2.5" fill="url(#gYe)"/>
<circle cx="61.7" cy="184.5" r="1.9" fill="url(#gYe)"/>
<circle cx="78.0" cy="190.0" r="1.8" fill="url(#gYe)"/>
<circle cx="57.4" cy="178.9" r="1.2" fill="url(#gYe)"/>
<circle cx="68.1" cy="197.5" r="2.3" fill="url(#gYe)"/>
<circle cx="70.1" cy="191.1" r="2.1" fill="url(#gYe)"/>
<circle cx="67.5" cy="187.8" r="2.4" fill="url(#gYe)"/>
<circle cx="109.9" cy="168.4" r="1.7" fill="url(#gYe)"/>
<circle cx="80.2" cy="201.8" r="1.8" fill="url(#gYe)"/>
<circle cx="119.7" cy="174.6" r="2.2" fill="url(#gYe)"/>
<circle cx="107.8" cy="194.0" r="1.6" fill="url(#gYe)"/>
<circle cx="66.5" cy="192.2" r="2.4" fill="url(#gYe)"/>
<circle cx="91.8" cy="178.4" r="2.5" fill="url(#gYe)"/>
<circle cx="118.2" cy="182.0" r="1.7" fill="url(#gYe)"/>
<circle cx="89.7" cy="186.7" r="1.8" fill="url(#gYe)"/>
<circle cx="77.8" cy="193.5" r="2.4" fill="url(#gYe)"/>
<circle cx="106.4" cy="170.3" r="1.8" fill="url(#gYe)"/>
<circle cx="98.5" cy="176.4" r="2.6" fill="url(#gYe)"/>
<circle cx="92.7" cy="185.1" r="2.0" fill="url(#gYe)"/>
<circle cx="61.0" cy="192.4" r="1.8" fill="url(#gYe)"/>
<circle cx="116.2" cy="183.3" r="1.6" fill="url(#gYe)"/>
<circle cx="77.3" cy="199.6" r="2.5" fill="url(#gYe)"/>
<circle cx="109.7" cy="169.5" r="2.1" fill="url(#gYe)"/>
<circle cx="57.4" cy="179.5" r="1.6" fill="url(#gYe)"/>
<circle cx="86.7" cy="180.5" r="1.8" fill="url(#gYe)"/>
<circle cx="114.9" cy="172.1" r="2.5" fill="url(#gYe)"/>
<circle cx="85.3" cy="193.6" r="2.4" fill="url(#gYe)"/>
<circle cx="102.5" cy="165.9" r="1.6" fill="url(#gYe)"/>
<circle cx="60.1" cy="190.4" r="2.2" fill="url(#gYe)"/>
<circle cx="104.8" cy="191.0" r="1.8" fill="url(#gYe)"/>
<circle cx="95.5" cy="182.9" r="2.6" fill="url(#gYe)"/>
<circle cx="114.4" cy="167.4" r="2.5" fill="url(#gYe)"/>
<circle cx="88.2" cy="187.7" r="1.7" fill="url(#gYe)"/>
<circle cx="108.3" cy="190.3" r="1.8" fill="url(#gYe)"/>
<circle cx="79.3" cy="191.7" r="1.9" fill="url(#gYe)"/>
<circle cx="82.8" cy="181.8" r="1.2" fill="url(#gYe)"/>
<circle cx="57.6" cy="180.8" r="2.4" fill="url(#gYe)"/>
<circle cx="105.6" cy="175.7" r="1.9" fill="url(#gYe)"/>
<circle cx="95.4" cy="175.9" r="1.9" fill="url(#gYe)"/>
<circle cx="104.2" cy="192.3" r="1.8" fill="url(#gYe)"/>
<circle cx="58.9" cy="179.3" r="2.1" fill="url(#gYe)"/>
<circle cx="81.5" cy="201.1" r="1.6" fill="url(#gYe)"/>
<circle cx="71.6" cy="195.5" r="1.7" fill="url(#gYe)"/>
<circle cx="94.9" cy="189.3" r="2.5" fill="url(#gYe)"/>
<circle cx="113.6" cy="176.0" r="1.8" fill="url(#gYe)"/>
<circle cx="97.6" cy="186.6" r="1.9" fill="url(#gYe)"/>
<circle cx="104.2" cy="166.0" r="2.4" fill="url(#gYe)"/>
<circle cx="72.0" cy="187.9" r="1.7" fill="url(#gYe)"/>
<circle cx="70.3" cy="188.9" r="2.3" fill="url(#gYe)"/>
<circle cx="76.6" cy="199.5" r="2.6" fill="url(#gYe)"/>
<circle cx="112.7" cy="167.6" r="2.6" fill="url(#gYe)"/>
<circle cx="99.5" cy="183.7" r="2.4" fill="url(#gYe)"/>
<circle cx="65.2" cy="178.9" r="1.6" fill="url(#gYe)"/>
<circle cx="104.3" cy="180.7" r="2.4" fill="url(#gYe)"/>
<circle cx="89.6" cy="185.4" r="2.0" fill="url(#gYe)"/>
<circle cx="68.0" cy="179.8" r="2.0" fill="url(#gYe)"/>
<circle cx="74.1" cy="185.2" r="1.9" fill="url(#gYe)"/>
<circle cx="103.6" cy="192.9" r="2.3" fill="url(#gYe)"/>
<circle cx="55.2" cy="188.6" r="2.0" fill="url(#gYe)"/>
<circle cx="84.5" cy="185.9" r="1.9" fill="url(#gYe)"/>
<circle cx="70.6" cy="198.0" r="2.2" fill="url(#gYe)"/>
<circle cx="73.9" cy="183.3" r="1.9" fill="url(#gYe)"/>
<circle cx="90.5" cy="190.1" r="1.8" fill="url(#gYe)"/>
<circle cx="111.4" cy="169.3" r="1.7" fill="url(#gYe)"/>
<circle cx="103.2" cy="167.3" r="1.7" fill="url(#gYe)"/>
<circle cx="91.5" cy="176.4" r="1.7" fill="url(#gYe)"/>
<circle cx="94.6" cy="178.1" r="2.4" fill="url(#gYe)"/>
<circle cx="112.8" cy="181.4" r="2.1" fill="url(#gYe)"/>
<circle cx="106.3" cy="188.4" r="2.2" fill="url(#gYe)"/>
<circle cx="80.9" cy="202.1" r="1.1" fill="url(#gYe)"/>
<circle cx="67.6" cy="178.3" r="2.2" fill="url(#gYe)"/>
<circle cx="73.3" cy="176.9" r="1.2" fill="url(#gYe)"/>
<circle cx="96.5" cy="185.7" r="2.0" fill="url(#gYe)"/>
<circle cx="76.3" cy="201.5" r="2.6" fill="url(#gYe)"/>
<circle cx="58.8" cy="176.9" r="1.2" fill="url(#gYe)"/>
<circle cx="88.9" cy="189.1" r="1.7" fill="url(#gYe)"/>
<circle cx="96.0" cy="174.3" r="2.3" fill="url(#gYe)"/>
<circle cx="107.4" cy="169.5" r="2.5" fill="url(#gYe)"/>
<circle cx="110.4" cy="182.3" r="2.2" fill="url(#gYe)"/>
<circle cx="107.4" cy="187.9" r="1.7" fill="url(#gYe)"/>
<circle cx="89.3" cy="188.3" r="2.3" fill="url(#gYe)"/>
<circle cx="117.8" cy="181.6" r="2.2" fill="url(#gYe)"/>
<circle cx="91.1" cy="187.2" r="2.3" fill="url(#gYe)"/>
<circle cx="61.4" cy="197.5" r="2.0" fill="url(#gYe)"/>
<circle cx="61.7" cy="186.4" r="2.5" fill="url(#gYe)"/>
<circle cx="100.0" cy="194.0" r="1.6" fill="url(#gYe)"/>
<circle cx="94.4" cy="191.6" r="1.8" fill="url(#gYe)"/>
<circle cx="68.0" cy="183.9" r="1.9" fill="url(#gYe)"/>
<circle cx="113.8" cy="173.6" r="2.3" fill="url(#gYe)"/>
<circle cx="116.0" cy="176.2" r="2.3" fill="url(#gYe)"/>
<circle cx="67.6" cy="198.1" r="2.5" fill="url(#gYe)"/>
<circle cx="63.0" cy="198.0" r="2.2" fill="url(#gYe)"/>
<circle cx="64.6" cy="191.5" r="2.2" fill="url(#gYe)"/>
<circle cx="63.1" cy="191.6" r="2.1" fill="url(#gYe)"/>
<circle cx="71.9" cy="176.5" r="1.7" fill="url(#gYe)"/>
<circle cx="108.4" cy="194.0" r="1.1" fill="url(#gYe)"/>
<circle cx="96.3" cy="184.8" r="1.8" fill="url(#gYe)"/>
<circle cx="56.8" cy="184.1" r="2.2" fill="url(#gYe)"/>
<circle cx="107.5" cy="171.3" r="2.3" fill="url(#gYe)"/>
<circle cx="63.3" cy="174.8" r="1.5" fill="url(#gYe)"/>
<circle cx="88.6" cy="192.7" r="2.4" fill="url(#gYe)"/>
<circle cx="91.8" cy="186.5" r="2.3" fill="url(#gYe)"/>
<circle cx="119.4" cy="180.0" r="1.1" fill="url(#gYe)"/>
<circle cx="99.8" cy="181.0" r="1.8" fill="url(#gYe)"/>
<circle cx="112.8" cy="170.6" r="1.8" fill="url(#gYe)"/>
<circle cx="103.0" cy="195.3" r="2.1" fill="url(#gYe)"/>
<circle cx="76.9" cy="198.6" r="1.9" fill="url(#gYe)"/>
<circle cx="120.7" cy="172.6" r="1.8" fill="url(#gYe)"/>
<circle cx="83.7" cy="190.4" r="1.8" fill="url(#gYe)"/>
<circle cx="113.3" cy="173.8" r="2.6" fill="url(#gYe)"/>
<circle cx="79.2" cy="185.6" r="1.9" fill="url(#gYe)"/>
<circle cx="85.7" cy="196.0" r="2.0" fill="url(#gYe)"/>
<circle cx="97.8" cy="181.0" r="1.9" fill="url(#gYe)"/>
<circle cx="64.7" cy="192.7" r="2.0" fill="url(#gYe)"/>
<circle cx="99.9" cy="172.3" r="2.4" fill="url(#gYe)"/>
<circle cx="89.4" cy="182.4" r="2.3" fill="url(#gYe)"/>
<circle cx="67.3" cy="180.4" r="2.5" fill="url(#gYe)"/>
<circle cx="76.4" cy="203.2" r="1.6" fill="url(#gYe)"/>
<circle cx="68.1" cy="179.5" r="1.6" fill="url(#gYe)"/>
<circle cx="95.9" cy="169.7" r="1.6" fill="url(#gYe)"/>
<circle cx="96.9" cy="191.4" r="2.5" fill="url(#gYe)"/>
<path d="M116.0,170.5 L120.0,169.5 L123.4,170.5 L122.5,174.5 L118.0,175.7 L115.7,173.5 Z" fill="#d01010" stroke="#d01010" stroke-width="1.2" stroke-linejoin="round" />
<circle cx="118.5" cy="172.8" r="1.6" fill="url(#gRed)"/>
<circle cx="118.5" cy="174.1" r="1.4" fill="url(#gRed)"/>
<circle cx="116.9" cy="170.6" r="1.4" fill="url(#gRed)"/>
<circle cx="121.6" cy="172.7" r="1.8" fill="url(#gRed)"/>
<circle cx="116.7" cy="172.6" r="1.3" fill="url(#gRed)"/>
<circle cx="117.8" cy="170.7" r="1.5" fill="url(#gRed)"/>
<circle cx="119.6" cy="170.5" r="1.6" fill="url(#gRed)"/>
<circle cx="119.8" cy="170.7" r="1.6" fill="url(#gRed)"/>
<circle cx="120.5" cy="173.2" r="1.6" fill="url(#gRed)"/>
</g>
<line x1="21.00" y1="90.40" x2="88.30" y2="129.00" stroke="#111" stroke-width="0.9" stroke-dasharray="3,2.2"/>
<line x1="130.00" y1="48.00" x2="138.00" y2="118.00" stroke="#111" stroke-width="0.9" stroke-dasharray="3,2.2"/>
<line x1="38.50" y1="52.50" x2="43.84" y2="59.62" stroke="#111" stroke-width="0.9" />
<path d="M46.0,62.5 L42.5,60.6 L45.2,58.6 Z" fill="#111" />
<line x1="132.50" y1="178.80" x2="126.72" y2="174.61" stroke="#111" stroke-width="0.9" />
<path d="M123.8,172.5 L127.7,173.2 L125.7,176.0 Z" fill="#111" />
<text x="118.3" y="23.0" font-size="9.7" text-anchor="start" fill="#111" textLength="33.7" lengthAdjust="spacingAndGlyphs" >A1144V</text>
<text x="120.8" y="34.6" font-size="9.7" text-anchor="start" fill="#111" textLength="30.7" lengthAdjust="spacingAndGlyphs" >linker 3</text>
<text x="23.0" y="51.0" font-size="9.7" text-anchor="start" fill="#111" textLength="27.4" lengthAdjust="spacingAndGlyphs" >A1144</text>
<text x="115.0" y="86.0" font-size="9.7" text-anchor="start" fill="#111" textLength="47.5" lengthAdjust="spacingAndGlyphs" >WT linker 3</text>
<text x="107.5" y="148.8" font-size="9.7" text-anchor="start" fill="#111" textLength="34.6" lengthAdjust="spacingAndGlyphs" >&#8216;Open&#8217;</text>
<text x="98.8" y="159.6" font-size="9.7" text-anchor="start" fill="#111" textLength="50.0" lengthAdjust="spacingAndGlyphs" >ADAMTS13</text>
<text x="135.8" y="187.9" font-size="9.7" text-anchor="start" fill="#111" textLength="55.0" lengthAdjust="spacingAndGlyphs" >VWF-binding</text>
<text x="148.5" y="199.0" font-size="9.7" text-anchor="start" fill="#111" textLength="30.2" lengthAdjust="spacingAndGlyphs" >exosite</text>
<rect x="237.70" y="39.80" width="88.90" height="62.20" fill="#f1f1f1" />
<rect x="330.20" y="40.00" width="89.40" height="62.00" fill="#f1f1f1" />
<rect x="423.10" y="40.60" width="89.50" height="61.40" fill="#f1f1f1" />
<g filter="url(#blur1)">
<path d="M243.5,61.8 L264.5,57.4 L264.5,63.0 L243.5,65.4 Z" fill="url(#bg0)" stroke="url(#bg0)" stroke-width="1.6" stroke-linejoin="round"/>
<path d="M273.5,58.7 L293.2,58.1 L293.2,63.1 L273.5,63.7 Z" fill="url(#bg1)" stroke="url(#bg1)" stroke-width="1.6" stroke-linejoin="round"/>
<path d="M303.5,59.2 L322.5,58.9 L322.5,62.3 L303.5,62.6 Z" fill="url(#bg2)" stroke="url(#bg2)" stroke-width="1.6" stroke-linejoin="round"/>
<path d="M330.8,58.7 L349.2,58.3 L349.2,63.7 L330.8,64.1 Z" fill="url(#bg3)" stroke="url(#bg3)" stroke-width="1.6" stroke-linejoin="round"/>
<path d="M361.3,58.8 L380.8,58.4 L380.8,63.2 L361.3,63.6 Z" fill="url(#bg4)" stroke="url(#bg4)" stroke-width="1.6" stroke-linejoin="round"/>
<path d="M393.5,58.6 L412.3,58.8 L412.3,63.0 L393.5,63.2 Z" fill="url(#bg5)" stroke="url(#bg5)" stroke-width="1.6" stroke-linejoin="round"/>
<path d="M427.5,58.1 L446.7,57.5 L446.7,63.3 L427.5,63.9 Z" fill="url(#bg6)" stroke="url(#bg6)" stroke-width="1.6" stroke-linejoin="round"/>
<path d="M457.6,59.5 L477.0,57.1 L477.0,62.1 L457.6,64.5 Z" fill="url(#bg7)" stroke="url(#bg7)" stroke-width="1.6" stroke-linejoin="round"/>
<path d="M488.4,55.7 L508.6,54.9 L508.6,61.5 L488.4,62.3 Z" fill="url(#bg8)" stroke="url(#bg8)" stroke-width="1.6" stroke-linejoin="round"/>
</g>
<path d="M263,56.2 Q266,54.6 270,55.2" stroke="#bbb" stroke-width="0.9" fill="none"/>
<ellipse cx="352" cy="98" rx="16" ry="4" fill="#fff" opacity="0.35" filter="url(#blur1)"/>
<ellipse cx="351" cy="70" rx="1.5" ry="4" fill="#fff" opacity="0.7" filter="url(#blur1)"/>
<text x="229.6" y="46.1" font-size="7.4" text-anchor="end" fill="#111" textLength="12.9" lengthAdjust="spacingAndGlyphs" >245</text>
<line x1="233.10" y1="43.70" x2="237.30" y2="43.70" stroke="#111" stroke-width="1.3" />
<text x="229.6" y="61.9" font-size="7.4" text-anchor="end" fill="#111" textLength="12.9" lengthAdjust="spacingAndGlyphs" >190</text>
<line x1="233.10" y1="59.50" x2="237.30" y2="59.50" stroke="#111" stroke-width="1.3" />
<text x="229.6" y="93.8" font-size="7.4" text-anchor="end" fill="#111" textLength="12.9" lengthAdjust="spacingAndGlyphs" >100</text>
<line x1="233.10" y1="91.40" x2="237.30" y2="91.40" stroke="#111" stroke-width="1.3" />
<text x="230.5" y="103.9" font-size="7.4" text-anchor="end" fill="#111" textLength="9.6" lengthAdjust="spacingAndGlyphs" >kD</text>
<text x="278.0" y="23.0" font-size="9.7" text-anchor="start" fill="#111" textLength="14.7" lengthAdjust="spacingAndGlyphs" >WT</text>
<text x="335.0" y="23.4" font-size="9.7" text-anchor="start" fill="#111" textLength="76.5" lengthAdjust="spacingAndGlyphs" >WT + VWF D4-CK</text>
<text x="451.9" y="23.1" font-size="9.7" text-anchor="start" fill="#111" textLength="33.8" lengthAdjust="spacingAndGlyphs" >A1144V</text>
<text x="253.4" y="37.7" font-size="8.0" text-anchor="middle" fill="#111" style="stroke-width:0.05px">IN</text>
<text x="284.8" y="37.7" font-size="8.0" text-anchor="middle" fill="#111" style="stroke-width:0.05px">FT</text>
<text x="312.6" y="37.7" font-size="8.0" text-anchor="middle" fill="#111" style="stroke-width:0.05px">E</text>
<text x="341.1" y="37.7" font-size="8.0" text-anchor="middle" fill="#111" style="stroke-width:0.05px">IN</text>
<text x="373.1" y="37.7" font-size="8.0" text-anchor="middle" fill="#111" style="stroke-width:0.05px">FT</text>
<text x="400.3" y="37.7" font-size="8.0" text-anchor="middle" fill="#111" style="stroke-width:0.05px">E</text>
<text x="436.7" y="37.7" font-size="8.0" text-anchor="middle" fill="#111" style="stroke-width:0.05px">IN</text>
<text x="468.8" y="37.7" font-size="8.0" text-anchor="middle" fill="#111" style="stroke-width:0.05px">FT</text>
<text x="495.7" y="37.7" font-size="8.0" text-anchor="middle" fill="#111" style="stroke-width:0.05px">E</text>
<text x="297.5" y="112.4" font-size="8.2" text-anchor="start" fill="#111" textLength="41.8" lengthAdjust="spacingAndGlyphs" >IP: II-1 mAb</text>
<text x="373.8" y="112.4" font-size="8.2" text-anchor="start" fill="#111" textLength="57.5" lengthAdjust="spacingAndGlyphs" >Blot: &#945;-Myc-HRP</text>
<line x1="250.40" y1="125.20" x2="250.40" y2="229.90" stroke="#111" stroke-width="1.2" />
<line x1="249.80" y1="229.30" x2="508.40" y2="229.30" stroke="#111" stroke-width="1.2" />
<line x1="247.20" y1="229.30" x2="250.40" y2="229.30" stroke="#111" stroke-width="1.1" />
<text x="244.8" y="232.4" font-size="8.8" text-anchor="end" fill="#111" textLength="4.3" lengthAdjust="spacingAndGlyphs" >0</text>
<line x1="247.20" y1="195.83" x2="250.40" y2="195.83" stroke="#111" stroke-width="1.1" />
<text x="244.8" y="198.9" font-size="8.8" text-anchor="end" fill="#111" textLength="13.0" lengthAdjust="spacingAndGlyphs" >200</text>
<line x1="247.20" y1="162.37" x2="250.40" y2="162.37" stroke="#111" stroke-width="1.1" />
<text x="244.8" y="165.5" font-size="8.8" text-anchor="end" fill="#111" textLength="13.0" lengthAdjust="spacingAndGlyphs" >400</text>
<line x1="247.20" y1="128.90" x2="250.40" y2="128.90" stroke="#111" stroke-width="1.1" />
<text x="244.8" y="132.0" font-size="8.8" text-anchor="end" fill="#111" textLength="13.0" lengthAdjust="spacingAndGlyphs" >600</text>
<text transform="translate(224.9,177.0) rotate(-90)" x="0" y="0" font-size="10" text-anchor="middle" fill="#111" textLength="99.4" lengthAdjust="spacingAndGlyphs">Relative proteolytic activity (%)</text>
<rect x="258.90" y="212.70" width="9.90" height="16.00" fill="#e28796" />
<rect x="258.90" y="212.70" width="0.90" height="16.00" fill="#d97a8b" />
<rect x="267.90" y="212.70" width="0.90" height="16.00" fill="#d97a8b" />
<rect x="277.00" y="196.90" width="10.00" height="31.80" fill="#87a7c3" />
<rect x="277.00" y="196.90" width="0.90" height="31.80" fill="#7b9dbb" />
<rect x="286.10" y="196.90" width="0.90" height="31.80" fill="#7b9dbb" />
<rect x="295.10" y="188.00" width="10.10" height="40.70" fill="#e28796" />
<rect x="295.10" y="188.00" width="0.90" height="40.70" fill="#d97a8b" />
<rect x="304.30" y="188.00" width="0.90" height="40.70" fill="#d97a8b" />
<rect x="313.50" y="189.60" width="10.10" height="39.10" fill="#87a7c3" />
<rect x="313.50" y="189.60" width="0.90" height="39.10" fill="#7b9dbb" />
<rect x="322.70" y="189.60" width="0.90" height="39.10" fill="#7b9dbb" />
<rect x="328.70" y="154.20" width="10.20" height="74.50" fill="#e28796" />
<rect x="328.70" y="154.20" width="0.90" height="74.50" fill="#d97a8b" />
<rect x="338.00" y="154.20" width="0.90" height="74.50" fill="#d97a8b" />
<rect x="346.80" y="153.10" width="10.20" height="75.60" fill="#87a7c3" />
<rect x="346.80" y="153.10" width="0.90" height="75.60" fill="#7b9dbb" />
<rect x="356.10" y="153.10" width="0.90" height="75.60" fill="#7b9dbb" />
<rect x="365.00" y="208.50" width="10.00" height="20.20" fill="#e28796" />
<rect x="365.00" y="208.50" width="0.90" height="20.20" fill="#d97a8b" />
<rect x="374.10" y="208.50" width="0.90" height="20.20" fill="#d97a8b" />
<rect x="383.30" y="191.20" width="10.20" height="37.50" fill="#87a7c3" />
<rect x="383.30" y="191.20" width="0.90" height="37.50" fill="#7b9dbb" />
<rect x="392.60" y="191.20" width="0.90" height="37.50" fill="#7b9dbb" />
<rect x="401.60" y="153.80" width="10.40" height="74.90" fill="#e28796" />
<rect x="401.60" y="153.80" width="0.90" height="74.90" fill="#d97a8b" />
<rect x="411.10" y="153.80" width="0.90" height="74.90" fill="#d97a8b" />
<rect x="419.80" y="156.00" width="10.20" height="72.70" fill="#87a7c3" />
<rect x="419.80" y="156.00" width="0.90" height="72.70" fill="#7b9dbb" />
<rect x="429.10" y="156.00" width="0.90" height="72.70" fill="#7b9dbb" />
<rect x="438.10" y="158.90" width="10.30" height="69.80" fill="#e28796" />
<rect x="438.10" y="158.90" width="0.90" height="69.80" fill="#d97a8b" />
<rect x="447.50" y="158.90" width="0.90" height="69.80" fill="#d97a8b" />
<rect x="456.50" y="168.80" width="10.30" height="59.90" fill="#87a7c3" />
<rect x="456.50" y="168.80" width="0.90" height="59.90" fill="#7b9dbb" />
<rect x="465.90" y="168.80" width="0.90" height="59.90" fill="#7b9dbb" />
<rect x="475.00" y="156.50" width="10.10" height="72.20" fill="#e28796" />
<rect x="475.00" y="156.50" width="0.90" height="72.20" fill="#d97a8b" />
<rect x="484.20" y="156.50" width="0.90" height="72.20" fill="#d97a8b" />
<rect x="493.40" y="156.00" width="10.00" height="72.70" fill="#87a7c3" />
<rect x="493.40" y="156.00" width="0.90" height="72.70" fill="#7b9dbb" />
<rect x="502.50" y="156.00" width="0.90" height="72.70" fill="#7b9dbb" />
<line x1="263.80" y1="209.40" x2="263.80" y2="215.00" stroke="#111" stroke-width="0.9" />
<line x1="261.40" y1="209.40" x2="266.20" y2="209.40" stroke="#111" stroke-width="0.9" />
<line x1="261.40" y1="215.00" x2="266.20" y2="215.00" stroke="#111" stroke-width="0.9" />
<circle cx="263.80" cy="210.20" r="1.2" fill="#d0103a" />
<circle cx="261.40" cy="213.60" r="1.2" fill="#d0103a" />
<circle cx="266.00" cy="213.40" r="1.2" fill="#d0103a" />
<circle cx="263.60" cy="215.00" r="1.2" fill="#d0103a" />
<line x1="281.80" y1="190.80" x2="281.80" y2="202.40" stroke="#111" stroke-width="0.9" />
<line x1="279.40" y1="190.80" x2="284.20" y2="190.80" stroke="#111" stroke-width="0.9" />
<line x1="279.40" y1="202.40" x2="284.20" y2="202.40" stroke="#111" stroke-width="0.9" />
<circle cx="281.80" cy="188.70" r="1.2" fill="#1d4f8f" />
<circle cx="279.90" cy="197.30" r="1.2" fill="#1d4f8f" />
<circle cx="283.60" cy="197.30" r="1.2" fill="#1d4f8f" />
<circle cx="281.80" cy="199.00" r="1.2" fill="#1d4f8f" />
<circle cx="281.80" cy="203.00" r="1.2" fill="#1d4f8f" />
<line x1="300.20" y1="186.80" x2="300.20" y2="189.50" stroke="#111" stroke-width="0.9" />
<line x1="297.80" y1="186.80" x2="302.60" y2="186.80" stroke="#111" stroke-width="0.9" />
<line x1="297.80" y1="189.50" x2="302.60" y2="189.50" stroke="#111" stroke-width="0.9" />
<circle cx="300.50" cy="187.50" r="1.2" fill="#d0103a" />
<circle cx="303.20" cy="188.20" r="1.2" fill="#d0103a" />
<circle cx="299.00" cy="189.00" r="1.2" fill="#d0103a" />
<line x1="318.60" y1="189.00" x2="318.60" y2="191.00" stroke="#111" stroke-width="0.9" />
<line x1="316.20" y1="189.00" x2="321.00" y2="189.00" stroke="#111" stroke-width="0.9" />
<line x1="316.20" y1="191.00" x2="321.00" y2="191.00" stroke="#111" stroke-width="0.9" />
<circle cx="316.80" cy="190.00" r="1.2" fill="#1d4f8f" />
<circle cx="320.30" cy="189.80" r="1.2" fill="#1d4f8f" />
<circle cx="318.60" cy="191.00" r="1.2" fill="#1d4f8f" />
<line x1="333.80" y1="145.00" x2="333.80" y2="163.00" stroke="#111" stroke-width="0.9" />
<line x1="331.40" y1="145.00" x2="336.20" y2="145.00" stroke="#111" stroke-width="0.9" />
<line x1="331.40" y1="163.00" x2="336.20" y2="163.00" stroke="#111" stroke-width="0.9" />
<circle cx="333.60" cy="141.20" r="1.2" fill="#d0103a" />
<circle cx="331.20" cy="159.00" r="1.2" fill="#d0103a" />
<circle cx="336.60" cy="159.00" r="1.2" fill="#d0103a" />
<circle cx="333.80" cy="157.00" r="1.2" fill="#d0103a" />
<line x1="352.00" y1="144.40" x2="352.00" y2="161.70" stroke="#111" stroke-width="0.9" />
<line x1="349.60" y1="144.40" x2="354.40" y2="144.40" stroke="#111" stroke-width="0.9" />
<line x1="349.60" y1="161.70" x2="354.40" y2="161.70" stroke="#111" stroke-width="0.9" />
<circle cx="352.00" cy="139.60" r="1.2" fill="#1d4f8f" />
<circle cx="348.00" cy="158.00" r="1.2" fill="#1d4f8f" />
<circle cx="352.00" cy="157.00" r="1.2" fill="#1d4f8f" />
<circle cx="356.40" cy="157.50" r="1.2" fill="#1d4f8f" />
<line x1="370.00" y1="207.00" x2="370.00" y2="211.70" stroke="#111" stroke-width="0.9" />
<line x1="367.60" y1="207.00" x2="372.40" y2="207.00" stroke="#111" stroke-width="0.9" />
<line x1="367.60" y1="211.70" x2="372.40" y2="211.70" stroke="#111" stroke-width="0.9" />
<circle cx="365.60" cy="209.40" r="1.2" fill="#d0103a" />
<circle cx="370.00" cy="212.00" r="1.2" fill="#d0103a" />
<circle cx="374.30" cy="208.20" r="1.2" fill="#d0103a" />
<circle cx="370.00" cy="207.80" r="1.2" fill="#d0103a" />
<line x1="388.40" y1="190.00" x2="388.40" y2="192.50" stroke="#111" stroke-width="0.9" />
<line x1="386.00" y1="190.00" x2="390.80" y2="190.00" stroke="#111" stroke-width="0.9" />
<line x1="386.00" y1="192.50" x2="390.80" y2="192.50" stroke="#111" stroke-width="0.9" />
<circle cx="386.50" cy="191.50" r="1.2" fill="#1d4f8f" />
<circle cx="390.20" cy="190.60" r="1.2" fill="#1d4f8f" />
<circle cx="388.40" cy="192.40" r="1.2" fill="#1d4f8f" />
<line x1="406.70" y1="146.10" x2="406.70" y2="161.10" stroke="#111" stroke-width="0.9" />
<line x1="404.30" y1="146.10" x2="409.10" y2="146.10" stroke="#111" stroke-width="0.9" />
<line x1="404.30" y1="161.10" x2="409.10" y2="161.10" stroke="#111" stroke-width="0.9" />
<circle cx="406.70" cy="143.40" r="1.2" fill="#d0103a" />
<circle cx="406.70" cy="152.70" r="1.2" fill="#d0103a" />
<circle cx="404.50" cy="157.50" r="1.2" fill="#d0103a" />
<circle cx="409.00" cy="157.00" r="1.2" fill="#d0103a" />
<circle cx="406.00" cy="160.50" r="1.2" fill="#d0103a" />
<line x1="424.90" y1="146.10" x2="424.90" y2="165.50" stroke="#111" stroke-width="0.9" />
<line x1="422.50" y1="146.10" x2="427.30" y2="146.10" stroke="#111" stroke-width="0.9" />
<line x1="422.50" y1="165.50" x2="427.30" y2="165.50" stroke="#111" stroke-width="0.9" />
<circle cx="424.90" cy="143.40" r="1.2" fill="#1d4f8f" />
<circle cx="424.90" cy="155.00" r="1.2" fill="#1d4f8f" />
<circle cx="424.90" cy="161.00" r="1.2" fill="#1d4f8f" />
<circle cx="424.90" cy="164.50" r="1.2" fill="#1d4f8f" />
<line x1="443.20" y1="151.10" x2="443.20" y2="166.00" stroke="#111" stroke-width="0.9" />
<line x1="440.80" y1="151.10" x2="445.60" y2="151.10" stroke="#111" stroke-width="0.9" />
<line x1="440.80" y1="166.00" x2="445.60" y2="166.00" stroke="#111" stroke-width="0.9" />
<circle cx="443.20" cy="147.60" r="1.2" fill="#d0103a" />
<circle cx="438.90" cy="162.50" r="1.2" fill="#d0103a" />
<circle cx="447.50" cy="162.50" r="1.2" fill="#d0103a" />
<circle cx="443.20" cy="164.50" r="1.2" fill="#d0103a" />
<line x1="461.30" y1="163.30" x2="461.30" y2="177.00" stroke="#111" stroke-width="0.9" />
<line x1="458.90" y1="163.30" x2="463.70" y2="163.30" stroke="#111" stroke-width="0.9" />
<line x1="458.90" y1="177.00" x2="463.70" y2="177.00" stroke="#111" stroke-width="0.9" />
<circle cx="458.50" cy="164.00" r="1.2" fill="#1d4f8f" />
<circle cx="463.50" cy="164.00" r="1.2" fill="#1d4f8f" />
<circle cx="461.30" cy="170.00" r="1.2" fill="#1d4f8f" />
<circle cx="461.30" cy="176.00" r="1.2" fill="#1d4f8f" />
<line x1="479.70" y1="153.80" x2="479.70" y2="159.30" stroke="#111" stroke-width="0.9" />
<line x1="477.30" y1="153.80" x2="482.10" y2="153.80" stroke="#111" stroke-width="0.9" />
<line x1="477.30" y1="159.30" x2="482.10" y2="159.30" stroke="#111" stroke-width="0.9" />
<circle cx="478.00" cy="155.50" r="1.2" fill="#d0103a" />
<circle cx="481.50" cy="156.00" r="1.2" fill="#d0103a" />
<circle cx="479.70" cy="158.50" r="1.2" fill="#d0103a" />
<line x1="498.20" y1="155.50" x2="498.20" y2="157.50" stroke="#111" stroke-width="0.9" />
<line x1="495.80" y1="155.50" x2="500.60" y2="155.50" stroke="#111" stroke-width="0.9" />
<line x1="495.80" y1="157.50" x2="500.60" y2="157.50" stroke="#111" stroke-width="0.9" />
<circle cx="495.80" cy="156.50" r="1.2" fill="#1d4f8f" />
<circle cx="500.50" cy="154.70" r="1.2" fill="#1d4f8f" />
<circle cx="498.00" cy="157.50" r="1.2" fill="#1d4f8f" />
<line x1="263.85" y1="229.80" x2="263.85" y2="232.40" stroke="#111" stroke-width="0.9" />
<text x="263.9" y="240.6" font-size="8.2" text-anchor="middle" fill="#111" style="stroke-width:0.05px">&#8211;</text>
<line x1="282.00" y1="229.80" x2="282.00" y2="232.40" stroke="#111" stroke-width="0.9" />
<text x="282.0" y="240.6" font-size="8.2" text-anchor="middle" fill="#111" style="stroke-width:0.05px">+</text>
<line x1="300.15" y1="229.80" x2="300.15" y2="232.40" stroke="#111" stroke-width="0.9" />
<text x="300.1" y="240.6" font-size="8.2" text-anchor="middle" fill="#111" style="stroke-width:0.05px">&#8211;</text>
<line x1="318.55" y1="229.80" x2="318.55" y2="232.40" stroke="#111" stroke-width="0.9" />
<text x="318.6" y="240.6" font-size="8.2" text-anchor="middle" fill="#111" style="stroke-width:0.05px">+</text>
<line x1="333.80" y1="229.80" x2="333.80" y2="232.40" stroke="#111" stroke-width="0.9" />
<text x="333.8" y="240.6" font-size="8.2" text-anchor="middle" fill="#111" style="stroke-width:0.05px">&#8211;</text>
<line x1="351.90" y1="229.80" x2="351.90" y2="232.40" stroke="#111" stroke-width="0.9" />
<text x="351.9" y="240.6" font-size="8.2" text-anchor="middle" fill="#111" style="stroke-width:0.05px">+</text>
<line x1="370.00" y1="229.80" x2="370.00" y2="232.40" stroke="#111" stroke-width="0.9" />
<text x="370.0" y="240.6" font-size="8.2" text-anchor="middle" fill="#111" style="stroke-width:0.05px">&#8211;</text>
<line x1="388.40" y1="229.80" x2="388.40" y2="232.40" stroke="#111" stroke-width="0.9" />
<text x="388.4" y="240.6" font-size="8.2" text-anchor="middle" fill="#111" style="stroke-width:0.05px">+</text>
<line x1="406.80" y1="229.80" x2="406.80" y2="232.40" stroke="#111" stroke-width="0.9" />
<text x="406.8" y="240.6" font-size="8.2" text-anchor="middle" fill="#111" style="stroke-width:0.05px">&#8211;</text>
<line x1="424.90" y1="229.80" x2="424.90" y2="232.40" stroke="#111" stroke-width="0.9" />
<text x="424.9" y="240.6" font-size="8.2" text-anchor="middle" fill="#111" style="stroke-width:0.05px">+</text>
<line x1="443.25" y1="229.80" x2="443.25" y2="232.40" stroke="#111" stroke-width="0.9" />
<text x="443.2" y="240.6" font-size="8.2" text-anchor="middle" fill="#111" style="stroke-width:0.05px">&#8211;</text>
<line x1="461.65" y1="229.80" x2="461.65" y2="232.40" stroke="#111" stroke-width="0.9" />
<text x="461.6" y="240.6" font-size="8.2" text-anchor="middle" fill="#111" style="stroke-width:0.05px">+</text>
<line x1="480.05" y1="229.80" x2="480.05" y2="232.40" stroke="#111" stroke-width="0.9" />
<text x="480.1" y="240.6" font-size="8.2" text-anchor="middle" fill="#111" style="stroke-width:0.05px">&#8211;</text>
<line x1="498.40" y1="229.80" x2="498.40" y2="232.40" stroke="#111" stroke-width="0.9" />
<text x="498.4" y="240.6" font-size="8.2" text-anchor="middle" fill="#111" style="stroke-width:0.05px">+</text>
<text x="272.8" y="252.8" font-size="9.2" text-anchor="middle" fill="#111" textLength="9.8" lengthAdjust="spacingAndGlyphs" >WT</text>
<text x="309.3" y="252.8" font-size="9.2" text-anchor="middle" fill="#111" textLength="13.5" lengthAdjust="spacingAndGlyphs" >GoF</text>
<text x="341.8" y="252.8" font-size="9.2" text-anchor="middle" fill="#111" textLength="26.4" lengthAdjust="spacingAndGlyphs" >A1144V</text>
<text x="379.0" y="252.8" font-size="9.2" text-anchor="middle" fill="#111" textLength="26.4" lengthAdjust="spacingAndGlyphs" >A1145V</text>
<text x="415.9" y="252.8" font-size="9.2" text-anchor="middle" fill="#111" textLength="27.8" lengthAdjust="spacingAndGlyphs" >A1146V</text>
<text x="452.5" y="252.8" font-size="9.2" text-anchor="middle" fill="#111" textLength="27.5" lengthAdjust="spacingAndGlyphs" >P1180V</text>
<text x="489.0" y="252.8" font-size="9.2" text-anchor="middle" fill="#111" textLength="26.9" lengthAdjust="spacingAndGlyphs" >P1182V</text>
<line x1="48.10" y1="265.50" x2="48.10" y2="367.10" stroke="#111" stroke-width="1.2" />
<line x1="47.50" y1="366.50" x2="165.40" y2="366.50" stroke="#111" stroke-width="1.2" />
<line x1="44.60" y1="366.50" x2="48.10" y2="366.50" stroke="#111" stroke-width="1.1" />
<text x="42.7" y="369.7" font-size="8.8" text-anchor="end" fill="#111" textLength="3.6" lengthAdjust="spacingAndGlyphs" >0</text>
<line x1="44.60" y1="317.85" x2="48.10" y2="317.85" stroke="#111" stroke-width="1.1" />
<text x="42.7" y="321.1" font-size="8.8" text-anchor="end" fill="#111" textLength="8.5" lengthAdjust="spacingAndGlyphs" >50</text>
<line x1="44.60" y1="269.20" x2="48.10" y2="269.20" stroke="#111" stroke-width="1.1" />
<text x="42.7" y="272.4" font-size="8.8" text-anchor="end" fill="#111" textLength="12.6" lengthAdjust="spacingAndGlyphs" >100</text>
<rect x="57.70" y="279.22" width="12.90" height="86.68" fill="#e28796" />
<rect x="57.70" y="279.22" width="0.90" height="86.68" fill="#d97a8b" />
<rect x="69.70" y="279.22" width="0.90" height="86.68" fill="#d97a8b" />
<rect x="80.00" y="285.16" width="12.90" height="80.74" fill="#e28796" />
<rect x="80.00" y="285.16" width="0.90" height="80.74" fill="#d97a8b" />
<rect x="92.00" y="285.16" width="0.90" height="80.74" fill="#d97a8b" />
<rect x="102.30" y="286.81" width="12.90" height="79.09" fill="#e28796" />
<rect x="102.30" y="286.81" width="0.90" height="79.09" fill="#d97a8b" />
<rect x="114.30" y="286.81" width="0.90" height="79.09" fill="#d97a8b" />
<rect x="124.70" y="319.21" width="12.90" height="46.69" fill="#e28796" />
<rect x="124.70" y="319.21" width="0.90" height="46.69" fill="#d97a8b" />
<rect x="136.70" y="319.21" width="0.90" height="46.69" fill="#d97a8b" />
<rect x="146.90" y="361.83" width="12.90" height="4.07" fill="#e28796" />
<rect x="146.90" y="361.83" width="0.90" height="4.07" fill="#d97a8b" />
<rect x="158.90" y="361.83" width="0.90" height="4.07" fill="#d97a8b" />
<line x1="64.40" y1="271.50" x2="64.40" y2="284.20" stroke="#111" stroke-width="0.9" />
<line x1="61.50" y1="271.50" x2="67.30" y2="271.50" stroke="#111" stroke-width="0.9" />
<line x1="61.50" y1="284.20" x2="67.30" y2="284.20" stroke="#111" stroke-width="0.9" />
<circle cx="61.80" cy="271.50" r="1.25" fill="#d0103a" />
<circle cx="66.00" cy="270.50" r="1.25" fill="#d0103a" />
<circle cx="64.00" cy="279.00" r="1.25" fill="#d0103a" />
<circle cx="61.00" cy="283.00" r="1.25" fill="#d0103a" />
<circle cx="66.00" cy="284.00" r="1.25" fill="#d0103a" />
<circle cx="63.80" cy="287.00" r="1.25" fill="#d0103a" />
<line x1="86.70" y1="280.80" x2="86.70" y2="290.00" stroke="#111" stroke-width="0.9" />
<line x1="83.80" y1="280.80" x2="89.60" y2="280.80" stroke="#111" stroke-width="0.9" />
<line x1="83.80" y1="290.00" x2="89.60" y2="290.00" stroke="#111" stroke-width="0.9" />
<circle cx="86.70" cy="282.50" r="1.25" fill="#d0103a" />
<circle cx="86.70" cy="288.00" r="1.25" fill="#d0103a" />
<line x1="109.00" y1="276.80" x2="109.00" y2="294.60" stroke="#111" stroke-width="0.9" />
<line x1="106.10" y1="276.80" x2="111.90" y2="276.80" stroke="#111" stroke-width="0.9" />
<line x1="106.10" y1="294.60" x2="111.90" y2="294.60" stroke="#111" stroke-width="0.9" />
<circle cx="109.00" cy="276.50" r="1.25" fill="#d0103a" />
<circle cx="107.00" cy="294.60" r="1.25" fill="#d0103a" />
<circle cx="111.00" cy="294.60" r="1.25" fill="#d0103a" />
<circle cx="109.00" cy="294.60" r="1.25" fill="#d0103a" />
<line x1="131.40" y1="313.80" x2="131.40" y2="322.80" stroke="#111" stroke-width="0.9" />
<line x1="128.50" y1="313.80" x2="134.30" y2="313.80" stroke="#111" stroke-width="0.9" />
<line x1="128.50" y1="322.80" x2="134.30" y2="322.80" stroke="#111" stroke-width="0.9" />
<circle cx="131.40" cy="313.80" r="1.25" fill="#d0103a" />
<circle cx="129.50" cy="321.00" r="1.25" fill="#d0103a" />
<circle cx="133.00" cy="322.00" r="1.25" fill="#d0103a" />
<line x1="153.30" y1="360.30" x2="153.30" y2="362.80" stroke="#111" stroke-width="0.9" />
<line x1="150.40" y1="360.30" x2="156.20" y2="360.30" stroke="#111" stroke-width="0.9" />
<line x1="150.40" y1="362.80" x2="156.20" y2="362.80" stroke="#111" stroke-width="0.9" />
<circle cx="152.00" cy="361.50" r="1.25" fill="#d0103a" />
<circle cx="155.00" cy="361.50" r="1.25" fill="#d0103a" />
<line x1="64.15" y1="367.10" x2="64.15" y2="369.90" stroke="#111" stroke-width="1.1" />
<text x="64.2" y="379.2" font-size="8.8" text-anchor="middle" fill="#111" >0</text>
<line x1="86.45" y1="367.10" x2="86.45" y2="369.90" stroke="#111" stroke-width="1.1" />
<text x="86.5" y="379.2" font-size="8.8" text-anchor="middle" fill="#111" >1</text>
<line x1="108.75" y1="367.10" x2="108.75" y2="369.90" stroke="#111" stroke-width="1.1" />
<text x="108.8" y="379.2" font-size="8.8" text-anchor="middle" fill="#111" >2.5</text>
<line x1="131.15" y1="367.10" x2="131.15" y2="369.90" stroke="#111" stroke-width="1.1" />
<text x="131.1" y="379.2" font-size="8.8" text-anchor="middle" fill="#111" >5</text>
<line x1="153.35" y1="367.10" x2="153.35" y2="369.90" stroke="#111" stroke-width="1.1" />
<text x="153.3" y="379.2" font-size="8.8" text-anchor="middle" fill="#111" textLength="25.3" lengthAdjust="spacingAndGlyphs" >VWF(&#8211;)</text>
<text x="74.0" y="392.1" font-size="8.8" text-anchor="start" fill="#111" textLength="68.4" lengthAdjust="spacingAndGlyphs" >[wtADAMTS13] (nM)</text>
<line x1="218.90" y1="265.50" x2="218.90" y2="367.10" stroke="#111" stroke-width="1.2" />
<line x1="218.30" y1="366.50" x2="336.20" y2="366.50" stroke="#111" stroke-width="1.2" />
<line x1="215.40" y1="366.50" x2="218.90" y2="366.50" stroke="#111" stroke-width="1.1" />
<text x="213.5" y="369.7" font-size="8.8" text-anchor="end" fill="#111" textLength="3.6" lengthAdjust="spacingAndGlyphs" >0</text>
<line x1="215.40" y1="317.85" x2="218.90" y2="317.85" stroke="#111" stroke-width="1.1" />
<text x="213.5" y="321.1" font-size="8.8" text-anchor="end" fill="#111" textLength="8.5" lengthAdjust="spacingAndGlyphs" >50</text>
<line x1="215.40" y1="269.20" x2="218.90" y2="269.20" stroke="#111" stroke-width="1.1" />
<text x="213.5" y="272.4" font-size="8.8" text-anchor="end" fill="#111" textLength="12.6" lengthAdjust="spacingAndGlyphs" >100</text>
<rect x="228.50" y="278.35" width="12.90" height="87.55" fill="#e28796" />
<rect x="228.50" y="278.35" width="0.90" height="87.55" fill="#d97a8b" />
<rect x="240.50" y="278.35" width="0.90" height="87.55" fill="#d97a8b" />
<rect x="250.80" y="317.56" width="12.90" height="48.34" fill="#e28796" />
<rect x="250.80" y="317.56" width="0.90" height="48.34" fill="#d97a8b" />
<rect x="262.80" y="317.56" width="0.90" height="48.34" fill="#d97a8b" />
<rect x="273.10" y="336.34" width="12.90" height="29.56" fill="#e28796" />
<rect x="273.10" y="336.34" width="0.90" height="29.56" fill="#d97a8b" />
<rect x="285.10" y="336.34" width="0.90" height="29.56" fill="#d97a8b" />
<rect x="295.50" y="350.15" width="12.90" height="15.75" fill="#e28796" />
<rect x="295.50" y="350.15" width="0.90" height="15.75" fill="#d97a8b" />
<rect x="307.50" y="350.15" width="0.90" height="15.75" fill="#d97a8b" />
<rect x="317.70" y="361.83" width="12.90" height="4.07" fill="#e28796" />
<rect x="317.70" y="361.83" width="0.90" height="4.07" fill="#d97a8b" />
<rect x="329.70" y="361.83" width="0.90" height="4.07" fill="#d97a8b" />
<line x1="234.50" y1="272.40" x2="234.50" y2="284.50" stroke="#111" stroke-width="0.9" />
<line x1="231.60" y1="272.40" x2="237.40" y2="272.40" stroke="#111" stroke-width="0.9" />
<line x1="231.60" y1="284.50" x2="237.40" y2="284.50" stroke="#111" stroke-width="0.9" />
<circle cx="232.40" cy="271.40" r="1.25" fill="#d0103a" />
<circle cx="236.60" cy="270.30" r="1.25" fill="#d0103a" />
<circle cx="234.50" cy="278.80" r="1.25" fill="#d0103a" />
<circle cx="233.00" cy="281.50" r="1.25" fill="#d0103a" />
<circle cx="236.00" cy="280.90" r="1.25" fill="#d0103a" />
<circle cx="234.50" cy="286.60" r="1.25" fill="#d0103a" />
<line x1="257.00" y1="304.70" x2="257.00" y2="329.20" stroke="#111" stroke-width="0.9" />
<line x1="254.10" y1="304.70" x2="259.90" y2="304.70" stroke="#111" stroke-width="0.9" />
<line x1="254.10" y1="329.20" x2="259.90" y2="329.20" stroke="#111" stroke-width="0.9" />
<circle cx="257.00" cy="303.60" r="1.25" fill="#d0103a" />
<circle cx="255.00" cy="325.00" r="1.25" fill="#d0103a" />
<circle cx="259.00" cy="325.00" r="1.25" fill="#d0103a" />
<line x1="279.60" y1="325.30" x2="279.60" y2="346.50" stroke="#111" stroke-width="0.9" />
<line x1="276.70" y1="325.30" x2="282.50" y2="325.30" stroke="#111" stroke-width="0.9" />
<line x1="276.70" y1="346.50" x2="282.50" y2="346.50" stroke="#111" stroke-width="0.9" />
<circle cx="279.60" cy="321.50" r="1.25" fill="#d0103a" />
<circle cx="279.60" cy="328.50" r="1.25" fill="#d0103a" />
<circle cx="277.90" cy="340.60" r="1.25" fill="#d0103a" />
<circle cx="281.50" cy="340.10" r="1.25" fill="#d0103a" />
<circle cx="279.60" cy="348.00" r="1.25" fill="#d0103a" />
<line x1="301.80" y1="334.40" x2="301.80" y2="365.30" stroke="#111" stroke-width="0.9" />
<line x1="298.90" y1="334.40" x2="304.70" y2="334.40" stroke="#111" stroke-width="0.9" />
<line x1="298.90" y1="365.30" x2="304.70" y2="365.30" stroke="#111" stroke-width="0.9" />
<circle cx="301.80" cy="332.20" r="1.25" fill="#d0103a" />
<circle cx="301.80" cy="350.00" r="1.25" fill="#d0103a" />
<circle cx="301.80" cy="358.00" r="1.25" fill="#d0103a" />
<circle cx="301.80" cy="363.00" r="1.25" fill="#d0103a" />
<line x1="324.30" y1="360.30" x2="324.30" y2="362.80" stroke="#111" stroke-width="0.9" />
<line x1="321.40" y1="360.30" x2="327.20" y2="360.30" stroke="#111" stroke-width="0.9" />
<line x1="321.40" y1="362.80" x2="327.20" y2="362.80" stroke="#111" stroke-width="0.9" />
<circle cx="322.50" cy="361.20" r="1.25" fill="#d0103a" />
<circle cx="326.00" cy="361.20" r="1.25" fill="#d0103a" />
<line x1="234.95" y1="367.10" x2="234.95" y2="369.90" stroke="#111" stroke-width="1.1" />
<text x="234.9" y="379.2" font-size="8.8" text-anchor="middle" fill="#111" >0</text>
<line x1="257.25" y1="367.10" x2="257.25" y2="369.90" stroke="#111" stroke-width="1.1" />
<text x="257.2" y="379.2" font-size="8.8" text-anchor="middle" fill="#111" >1</text>
<line x1="279.55" y1="367.10" x2="279.55" y2="369.90" stroke="#111" stroke-width="1.1" />
<text x="279.6" y="379.2" font-size="8.8" text-anchor="middle" fill="#111" >2.5</text>
<line x1="301.95" y1="367.10" x2="301.95" y2="369.90" stroke="#111" stroke-width="1.1" />
<text x="301.9" y="379.2" font-size="8.8" text-anchor="middle" fill="#111" >5</text>
<line x1="324.15" y1="367.10" x2="324.15" y2="369.90" stroke="#111" stroke-width="1.1" />
<text x="324.1" y="379.2" font-size="8.8" text-anchor="middle" fill="#111" textLength="25.3" lengthAdjust="spacingAndGlyphs" >VWF(&#8211;)</text>
<text x="241.3" y="392.1" font-size="8.8" text-anchor="start" fill="#111" textLength="74.2" lengthAdjust="spacingAndGlyphs" >[GoF ADAMTS13] (nM)</text>
<line x1="389.70" y1="265.50" x2="389.70" y2="367.10" stroke="#111" stroke-width="1.2" />
<line x1="389.10" y1="366.50" x2="507.00" y2="366.50" stroke="#111" stroke-width="1.2" />
<line x1="386.20" y1="366.50" x2="389.70" y2="366.50" stroke="#111" stroke-width="1.1" />
<text x="384.3" y="369.7" font-size="8.8" text-anchor="end" fill="#111" textLength="3.6" lengthAdjust="spacingAndGlyphs" >0</text>
<line x1="386.20" y1="317.85" x2="389.70" y2="317.85" stroke="#111" stroke-width="1.1" />
<text x="384.3" y="321.1" font-size="8.8" text-anchor="end" fill="#111" textLength="8.5" lengthAdjust="spacingAndGlyphs" >50</text>
<line x1="386.20" y1="269.20" x2="389.70" y2="269.20" stroke="#111" stroke-width="1.1" />
<text x="384.3" y="272.4" font-size="8.8" text-anchor="end" fill="#111" textLength="12.6" lengthAdjust="spacingAndGlyphs" >100</text>
<rect x="399.30" y="278.35" width="12.90" height="87.55" fill="#e28796" />
<rect x="399.30" y="278.35" width="0.90" height="87.55" fill="#d97a8b" />
<rect x="411.30" y="278.35" width="0.90" height="87.55" fill="#d97a8b" />
<rect x="421.60" y="326.12" width="12.90" height="39.78" fill="#e28796" />
<rect x="421.60" y="326.12" width="0.90" height="39.78" fill="#d97a8b" />
<rect x="433.60" y="326.12" width="0.90" height="39.78" fill="#d97a8b" />
<rect x="443.90" y="362.12" width="12.90" height="3.78" fill="#e28796" />
<rect x="443.90" y="362.12" width="0.90" height="3.78" fill="#d97a8b" />
<rect x="455.90" y="362.12" width="0.90" height="3.78" fill="#d97a8b" />
<rect x="466.30" y="364.75" width="12.90" height="1.15" fill="#e28796" />
<rect x="466.30" y="364.75" width="0.90" height="1.15" fill="#d97a8b" />
<rect x="478.30" y="364.75" width="0.90" height="1.15" fill="#d97a8b" />
<rect x="488.50" y="361.83" width="12.90" height="4.07" fill="#e28796" />
<rect x="488.50" y="361.83" width="0.90" height="4.07" fill="#d97a8b" />
<rect x="500.50" y="361.83" width="0.90" height="4.07" fill="#d97a8b" />
<line x1="405.40" y1="272.00" x2="405.40" y2="284.50" stroke="#111" stroke-width="0.9" />
<line x1="402.50" y1="272.00" x2="408.30" y2="272.00" stroke="#111" stroke-width="0.9" />
<line x1="402.50" y1="284.50" x2="408.30" y2="284.50" stroke="#111" stroke-width="0.9" />
<circle cx="403.00" cy="272.00" r="1.25" fill="#d0103a" />
<circle cx="407.00" cy="271.00" r="1.25" fill="#d0103a" />
<circle cx="405.00" cy="280.00" r="1.25" fill="#d0103a" />
<circle cx="407.00" cy="283.00" r="1.25" fill="#d0103a" />
<circle cx="403.00" cy="284.00" r="1.25" fill="#d0103a" />
<line x1="427.90" y1="320.60" x2="427.90" y2="330.70" stroke="#111" stroke-width="0.9" />
<line x1="425.00" y1="320.60" x2="430.80" y2="320.60" stroke="#111" stroke-width="0.9" />
<line x1="425.00" y1="330.70" x2="430.80" y2="330.70" stroke="#111" stroke-width="0.9" />
<circle cx="427.90" cy="320.30" r="1.25" fill="#d0103a" />
<circle cx="426.00" cy="328.00" r="1.25" fill="#d0103a" />
<circle cx="430.00" cy="328.00" r="1.25" fill="#d0103a" />
<line x1="450.00" y1="358.00" x2="450.00" y2="363.00" stroke="#111" stroke-width="0.9" />
<line x1="447.10" y1="358.00" x2="452.90" y2="358.00" stroke="#111" stroke-width="0.9" />
<line x1="447.10" y1="363.00" x2="452.90" y2="363.00" stroke="#111" stroke-width="0.9" />
<circle cx="449.00" cy="360.00" r="1.25" fill="#d0103a" />
<circle cx="452.00" cy="359.00" r="1.25" fill="#d0103a" />
<line x1="472.60" y1="362.50" x2="472.60" y2="365.00" stroke="#111" stroke-width="0.9" />
<line x1="469.70" y1="362.50" x2="475.50" y2="362.50" stroke="#111" stroke-width="0.9" />
<line x1="469.70" y1="365.00" x2="475.50" y2="365.00" stroke="#111" stroke-width="0.9" />
<circle cx="471.00" cy="363.00" r="1.25" fill="#d0103a" />
<circle cx="474.00" cy="364.00" r="1.25" fill="#d0103a" />
<line x1="494.90" y1="359.50" x2="494.90" y2="362.50" stroke="#111" stroke-width="0.9" />
<line x1="492.00" y1="359.50" x2="497.80" y2="359.50" stroke="#111" stroke-width="0.9" />
<line x1="492.00" y1="362.50" x2="497.80" y2="362.50" stroke="#111" stroke-width="0.9" />
<circle cx="493.00" cy="360.00" r="1.25" fill="#d0103a" />
<circle cx="497.00" cy="360.00" r="1.25" fill="#d0103a" />
<line x1="405.75" y1="367.10" x2="405.75" y2="369.90" stroke="#111" stroke-width="1.1" />
<text x="405.8" y="379.2" font-size="8.8" text-anchor="middle" fill="#111" >0</text>
<line x1="428.05" y1="367.10" x2="428.05" y2="369.90" stroke="#111" stroke-width="1.1" />
<text x="428.1" y="379.2" font-size="8.8" text-anchor="middle" fill="#111" >1</text>
<line x1="450.35" y1="367.10" x2="450.35" y2="369.90" stroke="#111" stroke-width="1.1" />
<text x="450.4" y="379.2" font-size="8.8" text-anchor="middle" fill="#111" >2.5</text>
<line x1="472.75" y1="367.10" x2="472.75" y2="369.90" stroke="#111" stroke-width="1.1" />
<text x="472.8" y="379.2" font-size="8.8" text-anchor="middle" fill="#111" >5</text>
<line x1="494.95" y1="367.10" x2="494.95" y2="369.90" stroke="#111" stroke-width="1.1" />
<text x="495.0" y="379.2" font-size="8.8" text-anchor="middle" fill="#111" textLength="25.3" lengthAdjust="spacingAndGlyphs" >VWF(&#8211;)</text>
<text x="404.7" y="392.1" font-size="8.8" text-anchor="start" fill="#111" textLength="88.6" lengthAdjust="spacingAndGlyphs" >[A1144V ADAMTS13] (nM)</text>
<text transform="translate(24.9,314.4) rotate(-90)" x="0" y="0" font-size="10" text-anchor="middle" fill="#111" textLength="69.2" lengthAdjust="spacingAndGlyphs">Platelet coverage (%)</text>
<line x1="40.00" y1="420.20" x2="40.00" y2="528.90" stroke="#111" stroke-width="1.2" />
<line x1="39.40" y1="528.30" x2="144.80" y2="528.30" stroke="#111" stroke-width="1.2" />
<line x1="36.50" y1="528.30" x2="40.00" y2="528.30" stroke="#111" stroke-width="1.1" />
<text x="34.4" y="531.5" font-size="9" text-anchor="end" fill="#111" textLength="11.6" lengthAdjust="spacingAndGlyphs" >0.0</text>
<line x1="36.50" y1="507.34" x2="40.00" y2="507.34" stroke="#111" stroke-width="1.1" />
<text x="34.4" y="510.5" font-size="9" text-anchor="end" fill="#111" textLength="11.6" lengthAdjust="spacingAndGlyphs" >0.1</text>
<line x1="36.50" y1="486.38" x2="40.00" y2="486.38" stroke="#111" stroke-width="1.1" />
<text x="34.4" y="489.6" font-size="9" text-anchor="end" fill="#111" textLength="11.6" lengthAdjust="spacingAndGlyphs" >0.2</text>
<line x1="36.50" y1="465.42" x2="40.00" y2="465.42" stroke="#111" stroke-width="1.1" />
<text x="34.4" y="468.6" font-size="9" text-anchor="end" fill="#111" textLength="11.6" lengthAdjust="spacingAndGlyphs" >0.3</text>
<line x1="36.50" y1="444.46" x2="40.00" y2="444.46" stroke="#111" stroke-width="1.1" />
<text x="34.4" y="447.7" font-size="9" text-anchor="end" fill="#111" textLength="11.6" lengthAdjust="spacingAndGlyphs" >0.4</text>
<line x1="36.50" y1="423.50" x2="40.00" y2="423.50" stroke="#111" stroke-width="1.1" />
<text x="34.4" y="426.7" font-size="9" text-anchor="end" fill="#111" textLength="11.6" lengthAdjust="spacingAndGlyphs" >0.5</text>
<line x1="39.60" y1="528.90" x2="39.60" y2="531.60" stroke="#111" stroke-width="1.0" />
<text x="39.6" y="540.3" font-size="9" text-anchor="middle" fill="#111" >0</text>
<line x1="87.30" y1="528.90" x2="87.30" y2="531.60" stroke="#111" stroke-width="1.0" />
<text x="87.3" y="540.3" font-size="9" text-anchor="middle" fill="#111" >10</text>
<line x1="135.00" y1="528.90" x2="135.00" y2="531.60" stroke="#111" stroke-width="1.0" />
<text x="135.0" y="540.3" font-size="9" text-anchor="middle" fill="#111" >20</text>
<text x="73.1" y="551.7" font-size="9.8" text-anchor="start" fill="#111" textLength="36.0" lengthAdjust="spacingAndGlyphs" >Time (min)</text>
<text transform="translate(16.5,492.8) rotate(-90)" font-size="9.6" textLength="12.9" lengthAdjust="spacingAndGlyphs">Abs</text>
<text transform="translate(17.9,479.9) rotate(-90)" font-size="6.2" style="stroke-width:0.15px" textLength="23.8" lengthAdjust="spacingAndGlyphs">(405 nm)</text>
<circle cx="59.20" cy="421.50" r="1.3" fill="#000" />
<circle cx="59.2" cy="430.4" r="1.3" fill="#fff" stroke="#444" stroke-width="0.7"/>
<text x="63.6" y="424.2" font-size="7.8" text-anchor="start" fill="#111" textLength="52.6" lengthAdjust="spacingAndGlyphs" >WT ADAMTS13</text>
<text x="63.6" y="433.2" font-size="7.8" text-anchor="start" fill="#111" textLength="67.2" lengthAdjust="spacingAndGlyphs" >A1144V ADAMTS13</text>
<path d="M56.90,478.00 L59.70,465.10 L62.50,458.10 L66.70,449.70 L70.90,444.00 L76.50,439.80 L83.60,437.00 L90.60,436.30 L96.20,437.20 L101.90,440.50 L106.00,445.00 L110.30,451.10 L114.70,457.00 L118.60,465.80 L121.50,474.70 L124.50,483.50 L127.40,492.30 L130.40,501.20 L133.30,510.00 L136.00,516.50 L138.50,520.00 L141.20,521.50 L141.20,522.10 L137.50,521.80 L134.30,520.40 L131.40,515.90 L128.40,510.00 L125.50,503.20 L122.50,495.30 L119.60,487.40 L116.60,479.60 L113.70,472.70 L109.70,464.80 L104.80,457.00 L101.50,454.50 L97.50,452.00 L93.40,450.40 L89.20,449.70 L82.20,449.70 L75.10,451.80 L68.10,456.70 L63.20,463.70 L59.70,472.20 Z" fill="url(#hatch)"/>
<path d="M88.00,450.50 L93.40,451.10 L98.00,453.50 L101.50,456.50 L104.80,459.90 L107.80,466.80 L109.70,474.70 L111.70,482.50 L114.20,490.40 L116.10,497.30 L118.10,504.10 L120.10,511.00 L121.50,516.90 L123.50,520.80 L125.00,521.80 L123.50,521.80 L120.60,518.90 L117.60,513.00 L114.70,506.10 L111.70,499.20 L109.30,492.30 L106.80,484.50 L103.80,476.60 L100.90,468.80 L97.00,460.90 L94.00,456.50 L91.00,453.50 L88.00,451.50 Z" fill="url(#hatch)"/>
<path d="M101.50,456.50 C102.05,457.07 103.75,458.18 104.80,459.90 C105.85,461.62 106.98,464.33 107.80,466.80 C108.62,469.27 109.05,472.08 109.70,474.70 C110.35,477.32 110.95,479.88 111.70,482.50 C112.45,485.12 113.47,487.93 114.20,490.40 C114.93,492.87 115.45,495.02 116.10,497.30 C116.75,499.58 117.43,501.82 118.10,504.10 C118.77,506.38 119.53,508.87 120.10,511.00 C120.67,513.13 120.93,515.27 121.50,516.90 C122.07,518.53 122.92,519.98 123.50,520.80 C124.08,521.62 124.75,521.63 125.00,521.80" fill="none" stroke="#777" stroke-width="0.7"/>
<path d="M43.00,527.50 L45.00,525.00 L47.00,520.00 L49.00,513.00 L51.00,503.50 L53.00,493.00 L55.00,483.00 L57.00,474.00 L59.50,466.00 L62.50,459.00 L66.00,452.00 L67.80,457.13 L64.30,462.13 L61.30,468.31 L58.80,475.35 L56.80,482.47 L54.80,491.80 L52.80,500.80 L50.80,510.10 L48.80,517.17 L46.80,522.77 L44.80,526.17 Z" fill="url(#hatch)"/>
<path d="M68.10,451.10 C69.50,449.92 73.68,445.68 76.50,444.00 C79.32,442.32 82.18,441.47 85.00,441.00 C87.82,440.53 91.07,440.70 93.40,441.20 C95.73,441.70 97.35,442.35 99.00,444.00 C100.65,445.65 102.13,449.27 103.30,451.10 C104.47,452.93 105.55,454.35 106.00,455.00" fill="none" stroke="#444" stroke-width="0.9"/>
<path d="M56.90,478.00 C57.37,475.85 58.77,468.42 59.70,465.10 C60.63,461.78 61.33,460.67 62.50,458.10 C63.67,455.53 65.30,452.05 66.70,449.70 C68.10,447.35 69.27,445.65 70.90,444.00 C72.53,442.35 74.38,440.97 76.50,439.80 C78.62,438.63 81.25,437.58 83.60,437.00 C85.95,436.42 88.50,436.27 90.60,436.30 C92.70,436.33 94.32,436.50 96.20,437.20 C98.08,437.90 100.27,439.20 101.90,440.50 C103.53,441.80 104.60,443.23 106.00,445.00 C107.40,446.77 109.58,450.08 110.30,451.10" fill="none" stroke="#4a4a4a" stroke-width="0.9"/>
<circle cx="88.00" cy="451.50" r="0.95" fill="#ddd" stroke="#666" stroke-width="0.55"/>
<circle cx="89.30" cy="452.37" r="0.95" fill="#ddd" stroke="#666" stroke-width="0.55"/>
<circle cx="90.60" cy="453.23" r="0.95" fill="#ddd" stroke="#666" stroke-width="0.55"/>
<circle cx="91.90" cy="454.40" r="0.95" fill="#ddd" stroke="#666" stroke-width="0.55"/>
<circle cx="93.20" cy="455.70" r="0.95" fill="#ddd" stroke="#666" stroke-width="0.55"/>
<circle cx="94.50" cy="457.23" r="0.95" fill="#ddd" stroke="#666" stroke-width="0.55"/>
<circle cx="95.80" cy="459.14" r="0.95" fill="#ddd" stroke="#666" stroke-width="0.55"/>
<circle cx="97.10" cy="461.10" r="0.95" fill="#ddd" stroke="#666" stroke-width="0.55"/>
<circle cx="98.40" cy="463.74" r="0.95" fill="#ddd" stroke="#666" stroke-width="0.55"/>
<circle cx="99.70" cy="466.37" r="0.95" fill="#ddd" stroke="#666" stroke-width="0.55"/>
<circle cx="101.00" cy="469.07" r="0.95" fill="#ddd" stroke="#666" stroke-width="0.55"/>
<circle cx="102.30" cy="472.57" r="0.95" fill="#ddd" stroke="#666" stroke-width="0.55"/>
<circle cx="103.60" cy="476.06" r="0.95" fill="#ddd" stroke="#666" stroke-width="0.55"/>
<circle cx="104.90" cy="479.50" r="0.95" fill="#ddd" stroke="#666" stroke-width="0.55"/>
<circle cx="106.20" cy="482.92" r="0.95" fill="#ddd" stroke="#666" stroke-width="0.55"/>
<circle cx="107.50" cy="486.68" r="0.95" fill="#ddd" stroke="#666" stroke-width="0.55"/>
<circle cx="108.80" cy="490.74" r="0.95" fill="#ddd" stroke="#666" stroke-width="0.55"/>
<circle cx="110.10" cy="494.60" r="0.95" fill="#ddd" stroke="#666" stroke-width="0.55"/>
<circle cx="111.40" cy="498.34" r="0.95" fill="#ddd" stroke="#666" stroke-width="0.55"/>
<circle cx="112.70" cy="501.50" r="0.95" fill="#ddd" stroke="#666" stroke-width="0.55"/>
<circle cx="114.00" cy="504.49" r="0.95" fill="#ddd" stroke="#666" stroke-width="0.55"/>
<circle cx="115.30" cy="507.53" r="0.95" fill="#ddd" stroke="#666" stroke-width="0.55"/>
<circle cx="116.60" cy="510.62" r="0.95" fill="#ddd" stroke="#666" stroke-width="0.55"/>
<circle cx="117.90" cy="513.59" r="0.95" fill="#ddd" stroke="#666" stroke-width="0.55"/>
<circle cx="119.20" cy="516.15" r="0.95" fill="#ddd" stroke="#666" stroke-width="0.55"/>
<circle cx="120.50" cy="518.70" r="0.95" fill="#ddd" stroke="#666" stroke-width="0.55"/>
<circle cx="121.80" cy="520.10" r="0.95" fill="#ddd" stroke="#666" stroke-width="0.55"/>
<circle cx="123.10" cy="521.40" r="0.95" fill="#ddd" stroke="#666" stroke-width="0.55"/>
<circle cx="124.40" cy="521.90" r="0.95" fill="#ddd" stroke="#666" stroke-width="0.55"/>
<circle cx="125.70" cy="522.05" r="0.95" fill="#ddd" stroke="#666" stroke-width="0.55"/>
<circle cx="127.00" cy="522.20" r="0.95" fill="#ddd" stroke="#666" stroke-width="0.55"/>
<circle cx="128.30" cy="522.23" r="0.95" fill="#ddd" stroke="#666" stroke-width="0.55"/>
<circle cx="129.60" cy="522.25" r="0.95" fill="#ddd" stroke="#666" stroke-width="0.55"/>
<circle cx="130.90" cy="522.28" r="0.95" fill="#ddd" stroke="#666" stroke-width="0.55"/>
<circle cx="132.20" cy="522.31" r="0.95" fill="#ddd" stroke="#666" stroke-width="0.55"/>
<circle cx="133.50" cy="522.33" r="0.95" fill="#ddd" stroke="#666" stroke-width="0.55"/>
<circle cx="134.80" cy="522.36" r="0.95" fill="#ddd" stroke="#666" stroke-width="0.55"/>
<circle cx="136.10" cy="522.38" r="0.95" fill="#ddd" stroke="#666" stroke-width="0.55"/>
<circle cx="137.40" cy="522.41" r="0.95" fill="#ddd" stroke="#666" stroke-width="0.55"/>
<circle cx="138.70" cy="522.44" r="0.95" fill="#ddd" stroke="#666" stroke-width="0.55"/>
<circle cx="140.00" cy="522.46" r="0.95" fill="#ddd" stroke="#666" stroke-width="0.55"/>
<circle cx="141.30" cy="522.49" r="0.95" fill="#ddd" stroke="#666" stroke-width="0.55"/>
<circle cx="142.60" cy="522.52" r="0.95" fill="#ddd" stroke="#666" stroke-width="0.55"/>
<circle cx="143.90" cy="522.54" r="0.95" fill="#ddd" stroke="#666" stroke-width="0.55"/>
<circle cx="100.00" cy="439.40" r="0.9" fill="#ccc" stroke="#777" stroke-width="0.5"/>
<circle cx="101.30" cy="440.15" r="0.9" fill="#ccc" stroke="#777" stroke-width="0.5"/>
<circle cx="102.60" cy="441.27" r="0.9" fill="#ccc" stroke="#777" stroke-width="0.5"/>
<circle cx="103.90" cy="442.70" r="0.9" fill="#ccc" stroke="#777" stroke-width="0.5"/>
<circle cx="105.20" cy="444.12" r="0.9" fill="#ccc" stroke="#777" stroke-width="0.5"/>
<circle cx="106.50" cy="445.71" r="0.9" fill="#ccc" stroke="#777" stroke-width="0.5"/>
<circle cx="107.80" cy="447.55" r="0.9" fill="#ccc" stroke="#777" stroke-width="0.5"/>
<circle cx="109.10" cy="449.40" r="0.9" fill="#ccc" stroke="#777" stroke-width="0.5"/>
<circle cx="110.40" cy="451.23" r="0.9" fill="#ccc" stroke="#777" stroke-width="0.5"/>
<circle cx="111.70" cy="452.98" r="0.9" fill="#ccc" stroke="#777" stroke-width="0.5"/>
<circle cx="113.00" cy="454.72" r="0.9" fill="#ccc" stroke="#777" stroke-width="0.5"/>
<circle cx="114.30" cy="456.46" r="0.9" fill="#ccc" stroke="#777" stroke-width="0.5"/>
<circle cx="115.60" cy="459.03" r="0.9" fill="#ccc" stroke="#777" stroke-width="0.5"/>
<circle cx="116.90" cy="461.96" r="0.9" fill="#ccc" stroke="#777" stroke-width="0.5"/>
<circle cx="118.20" cy="464.90" r="0.9" fill="#ccc" stroke="#777" stroke-width="0.5"/>
<circle cx="119.50" cy="468.56" r="0.9" fill="#ccc" stroke="#777" stroke-width="0.5"/>
<circle cx="120.80" cy="472.55" r="0.9" fill="#ccc" stroke="#777" stroke-width="0.5"/>
<circle cx="122.10" cy="476.46" r="0.9" fill="#ccc" stroke="#777" stroke-width="0.5"/>
<circle cx="123.40" cy="480.27" r="0.9" fill="#ccc" stroke="#777" stroke-width="0.5"/>
<circle cx="124.70" cy="484.11" r="0.9" fill="#ccc" stroke="#777" stroke-width="0.5"/>
<circle cx="126.00" cy="488.05" r="0.9" fill="#ccc" stroke="#777" stroke-width="0.5"/>
<circle cx="127.30" cy="492.00" r="0.9" fill="#ccc" stroke="#777" stroke-width="0.5"/>
<circle cx="128.60" cy="495.86" r="0.9" fill="#ccc" stroke="#777" stroke-width="0.5"/>
<circle cx="129.90" cy="499.72" r="0.9" fill="#ccc" stroke="#777" stroke-width="0.5"/>
<circle cx="131.20" cy="503.63" r="0.9" fill="#ccc" stroke="#777" stroke-width="0.5"/>
<circle cx="132.50" cy="507.57" r="0.9" fill="#ccc" stroke="#777" stroke-width="0.5"/>
<circle cx="133.80" cy="511.20" r="0.9" fill="#ccc" stroke="#777" stroke-width="0.5"/>
<circle cx="135.10" cy="514.33" r="0.9" fill="#ccc" stroke="#777" stroke-width="0.5"/>
<circle cx="136.40" cy="517.06" r="0.9" fill="#ccc" stroke="#777" stroke-width="0.5"/>
<circle cx="137.70" cy="518.88" r="0.9" fill="#ccc" stroke="#777" stroke-width="0.5"/>
<circle cx="139.00" cy="520.28" r="0.9" fill="#ccc" stroke="#777" stroke-width="0.5"/>
<circle cx="41.00" cy="527.50" r="0.95" fill="#ddd" stroke="#666" stroke-width="0.55"/>
<circle cx="42.26" cy="527.50" r="0.95" fill="#ddd" stroke="#666" stroke-width="0.55"/>
<circle cx="43.52" cy="526.85" r="0.95" fill="#ddd" stroke="#666" stroke-width="0.55"/>
<circle cx="44.78" cy="525.28" r="0.95" fill="#ddd" stroke="#666" stroke-width="0.55"/>
<circle cx="46.04" cy="522.40" r="0.95" fill="#ddd" stroke="#666" stroke-width="0.55"/>
<circle cx="47.30" cy="518.95" r="0.95" fill="#ddd" stroke="#666" stroke-width="0.55"/>
<circle cx="48.56" cy="514.54" r="0.95" fill="#ddd" stroke="#666" stroke-width="0.55"/>
<circle cx="49.82" cy="509.11" r="0.95" fill="#ddd" stroke="#666" stroke-width="0.55"/>
<circle cx="51.08" cy="503.08" r="0.95" fill="#ddd" stroke="#666" stroke-width="0.55"/>
<circle cx="52.34" cy="496.47" r="0.95" fill="#ddd" stroke="#666" stroke-width="0.55"/>
<circle cx="53.60" cy="490.00" r="0.95" fill="#ddd" stroke="#666" stroke-width="0.55"/>
<circle cx="54.86" cy="483.70" r="0.95" fill="#ddd" stroke="#666" stroke-width="0.55"/>
<circle cx="56.12" cy="477.96" r="0.95" fill="#ddd" stroke="#666" stroke-width="0.55"/>
<circle cx="57.38" cy="472.78" r="0.95" fill="#ddd" stroke="#666" stroke-width="0.55"/>
<circle cx="58.64" cy="468.75" r="0.95" fill="#ddd" stroke="#666" stroke-width="0.55"/>
<circle cx="59.90" cy="465.07" r="0.95" fill="#ddd" stroke="#666" stroke-width="0.55"/>
<circle cx="61.16" cy="462.13" r="0.95" fill="#ddd" stroke="#666" stroke-width="0.55"/>
<circle cx="62.42" cy="459.19" r="0.95" fill="#ddd" stroke="#666" stroke-width="0.55"/>
<circle cx="63.68" cy="456.64" r="0.95" fill="#ddd" stroke="#666" stroke-width="0.55"/>
<circle cx="64.94" cy="454.12" r="0.95" fill="#ddd" stroke="#666" stroke-width="0.55"/>
<circle cx="66.20" cy="452.00" r="0.95" fill="#ddd" stroke="#666" stroke-width="0.55"/>
<path d="M63.20,463.70 C64.02,462.53 66.12,458.68 68.10,456.70 C70.08,454.72 72.75,452.97 75.10,451.80 C77.45,450.63 79.85,450.05 82.20,449.70 C84.55,449.35 87.33,449.58 89.20,449.70 C91.07,449.82 92.02,450.02 93.40,450.40 C94.78,450.78 96.15,451.32 97.50,452.00 C98.85,452.68 100.28,453.67 101.50,454.50 C102.72,455.33 104.25,456.58 104.80,457.00" fill="none" stroke="#000" stroke-width="1.6"/>
<path d="M125.50,503.20 C125.98,504.33 127.42,507.88 128.40,510.00 C129.38,512.12 130.42,514.17 131.40,515.90 C132.38,517.63 133.28,519.42 134.30,520.40 C135.32,521.38 136.35,521.52 137.50,521.80 C138.65,522.08 139.65,522.00 141.20,522.10 C142.75,522.20 145.87,522.35 146.80,522.40" fill="none" stroke="#000" stroke-width="1.4"/>
<circle cx="39.80" cy="527.97" r="1.2" fill="#000" />
<circle cx="41.06" cy="527.76" r="1.2" fill="#000" />
<circle cx="42.32" cy="527.51" r="1.2" fill="#000" />
<circle cx="43.58" cy="527.17" r="1.2" fill="#000" />
<circle cx="44.84" cy="526.12" r="1.2" fill="#000" />
<circle cx="46.10" cy="524.38" r="1.2" fill="#000" />
<circle cx="47.36" cy="521.27" r="1.2" fill="#000" />
<circle cx="48.62" cy="517.77" r="1.2" fill="#000" />
<circle cx="49.88" cy="513.57" r="1.2" fill="#000" />
<circle cx="51.14" cy="508.51" r="1.2" fill="#000" />
<circle cx="52.40" cy="502.63" r="1.2" fill="#000" />
<circle cx="53.66" cy="496.93" r="1.2" fill="#000" />
<circle cx="54.92" cy="491.24" r="1.2" fill="#000" />
<circle cx="56.18" cy="485.36" r="1.2" fill="#000" />
<circle cx="57.44" cy="480.11" r="1.2" fill="#000" />
<circle cx="58.70" cy="475.70" r="1.2" fill="#000" />
<circle cx="59.96" cy="471.57" r="1.2" fill="#000" />
<circle cx="61.22" cy="468.51" r="1.2" fill="#000" />
<circle cx="62.48" cy="465.45" r="1.2" fill="#000" />
<circle cx="63.74" cy="462.93" r="1.2" fill="#000" />
<circle cx="65.00" cy="461.13" r="1.2" fill="#000" />
<circle cx="66.26" cy="459.33" r="1.2" fill="#000" />
<circle cx="67.52" cy="457.53" r="1.2" fill="#000" />
<circle cx="68.78" cy="456.22" r="1.2" fill="#000" />
<circle cx="70.04" cy="455.34" r="1.2" fill="#000" />
<circle cx="71.30" cy="454.46" r="1.2" fill="#000" />
<circle cx="72.56" cy="453.58" r="1.2" fill="#000" />
<circle cx="73.82" cy="452.70" r="1.2" fill="#000" />
<circle cx="75.08" cy="451.81" r="1.2" fill="#000" />
<circle cx="76.34" cy="451.43" r="1.2" fill="#000" />
<circle cx="77.60" cy="451.06" r="1.2" fill="#000" />
<circle cx="78.86" cy="450.69" r="1.2" fill="#000" />
<circle cx="80.12" cy="450.32" r="1.2" fill="#000" />
<circle cx="81.38" cy="449.94" r="1.2" fill="#000" />
<circle cx="82.64" cy="449.70" r="1.2" fill="#000" />
<circle cx="83.90" cy="449.70" r="1.2" fill="#000" />
<circle cx="85.16" cy="449.70" r="1.2" fill="#000" />
<circle cx="86.42" cy="449.70" r="1.2" fill="#000" />
<circle cx="87.68" cy="449.70" r="1.2" fill="#000" />
<circle cx="88.94" cy="449.70" r="1.2" fill="#000" />
<circle cx="90.20" cy="449.87" r="1.2" fill="#000" />
<circle cx="91.46" cy="450.08" r="1.2" fill="#000" />
<circle cx="92.72" cy="450.29" r="1.2" fill="#000" />
<circle cx="93.98" cy="450.63" r="1.2" fill="#000" />
<circle cx="95.24" cy="451.12" r="1.2" fill="#000" />
<circle cx="96.50" cy="451.61" r="1.2" fill="#000" />
<circle cx="97.76" cy="452.16" r="1.2" fill="#000" />
<circle cx="99.02" cy="452.95" r="1.2" fill="#000" />
<circle cx="100.28" cy="453.74" r="1.2" fill="#000" />
<circle cx="101.54" cy="454.53" r="1.2" fill="#000" />
<circle cx="102.80" cy="455.48" r="1.2" fill="#000" />
<circle cx="104.06" cy="456.44" r="1.2" fill="#000" />
<circle cx="105.32" cy="457.83" r="1.2" fill="#000" />
<circle cx="106.58" cy="459.83" r="1.2" fill="#000" />
<circle cx="107.84" cy="461.84" r="1.2" fill="#000" />
<circle cx="109.10" cy="463.84" r="1.2" fill="#000" />
<circle cx="110.36" cy="466.10" r="1.2" fill="#000" />
<circle cx="111.62" cy="468.59" r="1.2" fill="#000" />
<circle cx="112.88" cy="471.08" r="1.2" fill="#000" />
<circle cx="114.14" cy="473.75" r="1.2" fill="#000" />
<circle cx="115.40" cy="476.74" r="1.2" fill="#000" />
<circle cx="116.66" cy="479.76" r="1.2" fill="#000" />
<circle cx="117.92" cy="483.03" r="1.2" fill="#000" />
<circle cx="119.18" cy="486.31" r="1.2" fill="#000" />
<circle cx="120.44" cy="489.69" r="1.2" fill="#000" />
<circle cx="121.70" cy="493.12" r="1.2" fill="#000" />
<circle cx="122.96" cy="496.51" r="1.2" fill="#000" />
<circle cx="124.22" cy="499.83" r="1.2" fill="#000" />
<circle cx="125.48" cy="503.15" r="1.2" fill="#000" />
<circle cx="126.74" cy="506.11" r="1.2" fill="#000" />
<circle cx="128.00" cy="509.06" r="1.2" fill="#000" />
<circle cx="129.26" cy="511.69" r="1.2" fill="#000" />
<circle cx="130.52" cy="514.17" r="1.2" fill="#000" />
<circle cx="131.78" cy="516.49" r="1.2" fill="#000" />
<circle cx="133.04" cy="518.44" r="1.2" fill="#000" />
<circle cx="134.30" cy="520.40" r="1.2" fill="#000" />
<circle cx="135.56" cy="520.95" r="1.2" fill="#000" />
<circle cx="136.82" cy="521.50" r="1.2" fill="#000" />
<circle cx="138.08" cy="521.85" r="1.2" fill="#000" />
<circle cx="139.34" cy="521.95" r="1.2" fill="#000" />
<circle cx="140.60" cy="522.05" r="1.2" fill="#000" />
<circle cx="141.86" cy="522.14" r="1.2" fill="#000" />
<circle cx="143.12" cy="522.20" r="1.2" fill="#000" />
<circle cx="144.38" cy="522.27" r="1.2" fill="#000" />
<circle cx="145.64" cy="522.34" r="1.2" fill="#000" />
<line x1="245.40" y1="429.50" x2="245.40" y2="528.80" stroke="#111" stroke-width="1.2" />
<line x1="244.80" y1="528.20" x2="419.50" y2="528.20" stroke="#111" stroke-width="1.2" />
<line x1="242.00" y1="528.20" x2="245.40" y2="528.20" stroke="#111" stroke-width="1.1" />
<text x="240.8" y="531.4" font-size="9" text-anchor="end" fill="#111" textLength="3.8" lengthAdjust="spacingAndGlyphs" >0</text>
<line x1="242.00" y1="496.60" x2="245.40" y2="496.60" stroke="#111" stroke-width="1.1" />
<text x="240.8" y="499.8" font-size="9" text-anchor="end" fill="#111" textLength="3.8" lengthAdjust="spacingAndGlyphs" >5</text>
<line x1="242.00" y1="465.00" x2="245.40" y2="465.00" stroke="#111" stroke-width="1.1" />
<text x="240.8" y="468.2" font-size="9" text-anchor="end" fill="#111" textLength="8.1" lengthAdjust="spacingAndGlyphs" >10</text>
<line x1="242.00" y1="433.40" x2="245.40" y2="433.40" stroke="#111" stroke-width="1.1" />
<text x="240.8" y="436.6" font-size="9" text-anchor="end" fill="#111" textLength="8.1" lengthAdjust="spacingAndGlyphs" >15</text>
<text transform="translate(228.0,479.0) rotate(-90)" x="0" y="0" font-size="10.4" text-anchor="middle" fill="#111" textLength="68.0" lengthAdjust="spacingAndGlyphs">50% lysis time (min)</text>
<rect x="266.20" y="430.00" width="18.00" height="97.60" fill="#e28796" />
<rect x="266.20" y="430.00" width="0.90" height="97.60" fill="#d97a8b" />
<rect x="283.30" y="430.00" width="0.90" height="97.60" fill="#d97a8b" />
<rect x="306.90" y="446.90" width="18.00" height="80.70" fill="#e28796" />
<rect x="306.90" y="446.90" width="0.90" height="80.70" fill="#d97a8b" />
<rect x="324.00" y="446.90" width="0.90" height="80.70" fill="#d97a8b" />
<rect x="347.30" y="466.10" width="18.00" height="61.50" fill="#e28796" />
<rect x="347.30" y="466.10" width="0.90" height="61.50" fill="#d97a8b" />
<rect x="364.40" y="466.10" width="0.90" height="61.50" fill="#d97a8b" />
<rect x="387.90" y="441.10" width="18.10" height="86.50" fill="#e28796" />
<rect x="387.90" y="441.10" width="0.90" height="86.50" fill="#d97a8b" />
<rect x="405.10" y="441.10" width="0.90" height="86.50" fill="#d97a8b" />
<line x1="275.20" y1="424.90" x2="275.20" y2="434.60" stroke="#111" stroke-width="1.0" />
<line x1="269.40" y1="424.90" x2="281.00" y2="424.90" stroke="#111" stroke-width="1.0" />
<line x1="269.40" y1="434.60" x2="281.00" y2="434.60" stroke="#111" stroke-width="1.0" />
<circle cx="275.00" cy="423.50" r="1.25" fill="#d0103a" />
<circle cx="272.00" cy="428.60" r="1.25" fill="#d0103a" />
<circle cx="278.20" cy="428.60" r="1.25" fill="#d0103a" />
<circle cx="270.50" cy="430.60" r="1.25" fill="#d0103a" />
<circle cx="279.80" cy="430.20" r="1.25" fill="#d0103a" />
<circle cx="275.50" cy="437.00" r="1.25" fill="#d0103a" />
<line x1="316.00" y1="442.70" x2="316.00" y2="448.90" stroke="#111" stroke-width="1.0" />
<line x1="310.20" y1="442.70" x2="321.80" y2="442.70" stroke="#111" stroke-width="1.0" />
<line x1="310.20" y1="448.90" x2="321.80" y2="448.90" stroke="#111" stroke-width="1.0" />
<circle cx="313.00" cy="443.20" r="1.25" fill="#d0103a" />
<circle cx="319.00" cy="443.20" r="1.25" fill="#d0103a" />
<circle cx="316.00" cy="446.00" r="1.25" fill="#d0103a" />
<circle cx="316.00" cy="449.50" r="1.25" fill="#d0103a" />
<line x1="356.30" y1="461.50" x2="356.30" y2="470.00" stroke="#111" stroke-width="1.0" />
<line x1="350.50" y1="461.50" x2="362.10" y2="461.50" stroke="#111" stroke-width="1.0" />
<line x1="350.50" y1="470.00" x2="362.10" y2="470.00" stroke="#111" stroke-width="1.0" />
<circle cx="356.30" cy="459.60" r="1.25" fill="#d0103a" />
<circle cx="354.00" cy="464.00" r="1.25" fill="#d0103a" />
<circle cx="358.40" cy="464.00" r="1.25" fill="#d0103a" />
<circle cx="356.00" cy="470.00" r="1.25" fill="#d0103a" />
<circle cx="356.00" cy="472.00" r="1.25" fill="#d0103a" />
<line x1="396.90" y1="438.40" x2="396.90" y2="443.30" stroke="#111" stroke-width="1.0" />
<line x1="391.10" y1="438.40" x2="402.70" y2="438.40" stroke="#111" stroke-width="1.0" />
<line x1="391.10" y1="443.30" x2="402.70" y2="443.30" stroke="#111" stroke-width="1.0" />
<circle cx="396.70" cy="437.50" r="1.25" fill="#d0103a" />
<circle cx="393.50" cy="442.50" r="1.25" fill="#d0103a" />
<circle cx="398.50" cy="441.50" r="1.25" fill="#d0103a" />
<line x1="275.20" y1="528.80" x2="275.20" y2="531.40" stroke="#111" stroke-width="1.0" />
<text x="275.2" y="540.6" font-size="8.8" text-anchor="middle" fill="#111" textLength="33.1" lengthAdjust="spacingAndGlyphs" >t-PA only</text>
<line x1="315.90" y1="528.80" x2="315.90" y2="531.40" stroke="#111" stroke-width="1.0" />
<text x="315.9" y="540.6" font-size="8.8" text-anchor="middle" fill="#111" textLength="16.8" lengthAdjust="spacingAndGlyphs" >+WT</text>
<line x1="356.30" y1="528.80" x2="356.30" y2="531.40" stroke="#111" stroke-width="1.0" />
<text x="356.3" y="540.6" font-size="8.8" text-anchor="middle" fill="#111" textLength="33.0" lengthAdjust="spacingAndGlyphs" >+A1144V</text>
<line x1="396.95" y1="528.80" x2="396.95" y2="531.40" stroke="#111" stroke-width="1.0" />
<text x="396.9" y="540.6" font-size="8.8" text-anchor="middle" fill="#111" textLength="22.0" lengthAdjust="spacingAndGlyphs" >+NAC</text>
<path d="M274.9,420.1 V417.2 H315.6 V420.1" fill="none" stroke="#111" stroke-width="0.9"/>
<path d="M274.9,411.9 V409.2 H356.5 V411.9" fill="none" stroke="#111" stroke-width="0.9"/>
<text x="295.4" y="417.3" font-size="8.4" text-anchor="middle" fill="#111" >*</text>
<text x="316.0" y="409.0" font-size="8.4" text-anchor="middle" fill="#111" textLength="13.8" lengthAdjust="spacingAndGlyphs" >****</text>
<line x1="39.80" y1="576.80" x2="39.80" y2="681.00" stroke="#111" stroke-width="1.2" />
<line x1="39.20" y1="680.40" x2="140.80" y2="680.40" stroke="#111" stroke-width="1.2" />
<line x1="36.40" y1="680.40" x2="39.80" y2="680.40" stroke="#111" stroke-width="1.1" />
<text x="34.5" y="683.6" font-size="9" text-anchor="end" fill="#111" textLength="11.8" lengthAdjust="spacingAndGlyphs" >0.0</text>
<line x1="36.40" y1="660.34" x2="39.80" y2="660.34" stroke="#111" stroke-width="1.1" />
<text x="34.5" y="663.5" font-size="9" text-anchor="end" fill="#111" textLength="11.8" lengthAdjust="spacingAndGlyphs" >0.1</text>
<line x1="36.40" y1="640.28" x2="39.80" y2="640.28" stroke="#111" stroke-width="1.1" />
<text x="34.5" y="643.5" font-size="9" text-anchor="end" fill="#111" textLength="11.8" lengthAdjust="spacingAndGlyphs" >0.2</text>
<line x1="36.40" y1="620.22" x2="39.80" y2="620.22" stroke="#111" stroke-width="1.1" />
<text x="34.5" y="623.4" font-size="9" text-anchor="end" fill="#111" textLength="11.8" lengthAdjust="spacingAndGlyphs" >0.3</text>
<line x1="36.40" y1="600.16" x2="39.80" y2="600.16" stroke="#111" stroke-width="1.1" />
<text x="34.5" y="603.4" font-size="9" text-anchor="end" fill="#111" textLength="11.8" lengthAdjust="spacingAndGlyphs" >0.4</text>
<line x1="36.40" y1="580.10" x2="39.80" y2="580.10" stroke="#111" stroke-width="1.1" />
<text x="34.5" y="583.3" font-size="9" text-anchor="end" fill="#111" textLength="11.8" lengthAdjust="spacingAndGlyphs" >0.5</text>
<line x1="39.70" y1="681.00" x2="39.70" y2="683.60" stroke="#111" stroke-width="1.0" />
<text x="39.7" y="691.9" font-size="9" text-anchor="middle" fill="#111" >0</text>
<line x1="77.00" y1="681.00" x2="77.00" y2="683.60" stroke="#111" stroke-width="1.0" />
<text x="77.0" y="691.9" font-size="9" text-anchor="middle" fill="#111" >50</text>
<line x1="114.30" y1="681.00" x2="114.30" y2="683.60" stroke="#111" stroke-width="1.0" />
<text x="114.3" y="691.9" font-size="9" text-anchor="middle" fill="#111" >100</text>
<text x="72.8" y="704.4" font-size="10" text-anchor="start" fill="#111" textLength="36.2" lengthAdjust="spacingAndGlyphs" >Time (min)</text>
<text transform="translate(16.5,646.8) rotate(-90)" font-size="9.6" textLength="11.9" lengthAdjust="spacingAndGlyphs">Abs</text>
<text transform="translate(17.9,634.9) rotate(-90)" font-size="6.2" style="stroke-width:0.15px" textLength="24.2" lengthAdjust="spacingAndGlyphs">(405 nm)</text>
<text x="51.2" y="574.4" font-size="9.2" text-anchor="start" fill="#111" textLength="24.2" lengthAdjust="spacingAndGlyphs" >+ t-PA</text>
<line x1="62.70" y1="577.00" x2="62.70" y2="586.00" stroke="#111" stroke-width="1.1" />
<path d="M62.7,589.8 L60.6,585.0 L64.8,585.0 Z" fill="#111" />
<line x1="99.70" y1="567.10" x2="104.90" y2="567.10" stroke="#111" stroke-width="0.8" />
<path d="M100.8,567.1 L102.3,565.6 L103.8,567.1 L102.3,568.6 Z" fill="#111" />
<text x="107.9" y="569.7" font-size="7.5" text-anchor="start" fill="#111" textLength="29.4" lengthAdjust="spacingAndGlyphs" style="stroke-width:0.12px">t-PA only</text>
<line x1="99.70" y1="576.60" x2="104.90" y2="576.60" stroke="#111" stroke-width="0.8" />
<path d="M100.8,576.6 L102.3,575.1 L103.8,576.6 L102.3,578.1 Z" fill="#111" />
<text x="107.9" y="579.2" font-size="7.5" text-anchor="start" fill="#111" textLength="58.0" lengthAdjust="spacingAndGlyphs" style="stroke-width:0.12px">+ WT ADAMTS13</text>
<line x1="99.70" y1="586.80" x2="104.90" y2="586.80" stroke="#333" stroke-width="0.8" />
<path d="M100.8,586.8 L102.3,585.3 L103.8,586.8 L102.3,588.3 Z" fill="#333" />
<text x="107.9" y="589.4" font-size="7.5" text-anchor="start" fill="#111" textLength="72.7" lengthAdjust="spacingAndGlyphs" style="stroke-width:0.12px">+ A1144V ADAMTS13</text>
<path d="M41.50,640.00 L42.60,628.00 L43.60,616.00 L45.00,603.00 L47.20,597.30 L49.50,591.80 L55.30,591.00 L66.80,591.30 L78.40,593.30 L89.90,595.60 L96.50,597.30 L108.10,599.00 L119.60,602.50 L131.20,606.00 L140.80,607.70 L140.80,616.90 L131.20,614.60 L119.60,611.20 L108.10,607.70 L96.50,605.40 L85.00,604.20 L78.40,602.00 L66.80,600.80 L55.30,602.30 L49.50,604.00 L47.20,606.00 L45.00,614.00 L43.60,628.00 L42.60,640.00 L41.50,649.00 Z" fill="url(#hatchL)"/>
<path d="M47.20,597.30 C47.58,596.38 48.15,592.85 49.50,591.80 C50.85,590.75 52.42,591.08 55.30,591.00 C58.18,590.92 62.95,590.92 66.80,591.30 C70.65,591.68 74.55,592.58 78.40,593.30 C82.25,594.02 86.88,594.93 89.90,595.60 C92.92,596.27 93.47,596.73 96.50,597.30 C99.53,597.87 104.25,598.13 108.10,599.00 C111.95,599.87 115.75,601.33 119.60,602.50 C123.45,603.67 127.67,605.13 131.20,606.00 C134.73,606.87 139.20,607.42 140.80,607.70" fill="none" stroke="#bbb" stroke-width="0.6"/>
<path d="M78.00,601.00 L79.50,596.00 L81.80,588.70 L83.50,596.00 L85.50,604.50 L90.00,611.00 L96.50,616.90 L108.10,621.50 L119.60,624.40 L131.20,626.70 L140.80,629.00 L140.80,642.90 L131.20,641.20 L119.60,639.40 L108.10,637.10 L96.50,630.80 L90.00,624.00 L85.50,616.00 L83.50,612.00 L81.80,608.30 L79.50,605.00 L78.00,603.50 Z" fill="url(#hatchL)"/>
<path d="M46.50,602.90 L47.90,600.70 L50.50,599.70 L55.30,599.40 L61.10,600.00 L68.00,601.40 L74.90,603.40 L81.80,605.50 L89.90,607.40 L96.50,608.60 L108.10,611.40 L115.00,613.70 L119.60,615.50 L131.20,618.40 L140.80,620.40 L140.80,625.60 L131.20,623.60 L119.60,620.70 L115.00,618.90 L108.10,616.60 L96.50,613.80 L89.90,612.60 L81.80,610.70 L74.90,608.60 L68.00,606.60 L61.10,605.20 L55.30,604.60 L50.50,604.90 L47.90,605.90 L46.50,608.10 Z" fill="url(#hatchL)" opacity="0.8"/>
<path d="M39.70,668.00 C39.78,666.35 39.92,661.15 40.20,658.10 C40.48,655.05 41.00,652.70 41.40,649.70 C41.80,646.70 42.27,643.08 42.60,640.10 C42.93,637.12 43.20,634.38 43.40,631.80 C43.60,629.22 43.60,627.18 43.80,624.60 C44.00,622.02 44.35,618.87 44.60,616.30 C44.85,613.73 44.98,611.03 45.30,609.20 C45.62,607.37 46.07,606.33 46.50,605.30 C46.93,604.27 47.23,603.55 47.90,603.00 C48.57,602.45 49.27,602.23 50.50,602.00 C51.73,601.77 53.53,601.73 55.30,601.60 C57.07,601.47 58.98,601.38 61.10,601.20 C63.22,601.02 66.08,600.62 68.00,600.50 C69.92,600.38 71.25,600.37 72.60,600.50 C73.95,600.63 75.13,600.87 76.10,601.30 C77.07,601.73 77.63,602.32 78.40,603.10 C79.17,603.88 79.93,604.75 80.70,606.00 C81.47,607.25 82.23,609.00 83.00,610.60 C83.77,612.20 84.38,613.83 85.30,615.60 C86.22,617.37 87.40,619.43 88.50,621.20 C89.60,622.97 90.57,624.60 91.90,626.20 C93.23,627.80 94.77,629.37 96.50,630.80 C98.23,632.23 100.37,633.75 102.30,634.80 C104.23,635.85 105.22,636.33 108.10,637.10 C110.98,637.87 115.75,638.72 119.60,639.40 C123.45,640.08 127.67,640.62 131.20,641.20 C134.73,641.78 139.20,642.62 140.80,642.90" fill="none" stroke="#2a2a2a" stroke-width="1.25"/>
<circle cx="39.90" cy="664.04" r="0.85" fill="#2a2a2a" />
<circle cx="41.39" cy="649.76" r="0.85" fill="#2a2a2a" />
<circle cx="42.88" cy="637.15" r="0.85" fill="#2a2a2a" />
<circle cx="44.38" cy="618.62" r="0.85" fill="#2a2a2a" />
<circle cx="45.87" cy="607.35" r="0.85" fill="#2a2a2a" />
<circle cx="47.36" cy="603.89" r="0.85" fill="#2a2a2a" />
<circle cx="48.85" cy="602.63" r="0.85" fill="#2a2a2a" />
<circle cx="50.34" cy="602.06" r="0.85" fill="#2a2a2a" />
<circle cx="51.84" cy="601.89" r="0.85" fill="#2a2a2a" />
<circle cx="53.33" cy="601.76" r="0.85" fill="#2a2a2a" />
<circle cx="54.82" cy="601.64" r="0.85" fill="#2a2a2a" />
<circle cx="56.31" cy="601.53" r="0.85" fill="#2a2a2a" />
<circle cx="57.80" cy="601.43" r="0.85" fill="#2a2a2a" />
<circle cx="59.30" cy="601.32" r="0.85" fill="#2a2a2a" />
<circle cx="60.79" cy="601.22" r="0.85" fill="#2a2a2a" />
<circle cx="62.28" cy="601.08" r="0.85" fill="#2a2a2a" />
<circle cx="63.77" cy="600.93" r="0.85" fill="#2a2a2a" />
<circle cx="65.26" cy="600.78" r="0.85" fill="#2a2a2a" />
<circle cx="66.76" cy="600.63" r="0.85" fill="#2a2a2a" />
<circle cx="68.25" cy="600.50" r="0.85" fill="#2a2a2a" />
<circle cx="69.74" cy="600.50" r="0.85" fill="#2a2a2a" />
<circle cx="71.23" cy="600.50" r="0.85" fill="#2a2a2a" />
<circle cx="72.72" cy="600.53" r="0.85" fill="#2a2a2a" />
<circle cx="74.22" cy="600.87" r="0.85" fill="#2a2a2a" />
<circle cx="75.71" cy="601.21" r="0.85" fill="#2a2a2a" />
<circle cx="77.20" cy="602.16" r="0.85" fill="#2a2a2a" />
<circle cx="78.69" cy="603.47" r="0.85" fill="#2a2a2a" />
<circle cx="80.18" cy="605.35" r="0.85" fill="#2a2a2a" />
<circle cx="81.68" cy="607.95" r="0.85" fill="#2a2a2a" />
<circle cx="83.17" cy="610.97" r="0.85" fill="#2a2a2a" />
<circle cx="84.66" cy="614.21" r="0.85" fill="#2a2a2a" />
<circle cx="86.15" cy="617.09" r="0.85" fill="#2a2a2a" />
<circle cx="87.64" cy="619.70" r="0.85" fill="#2a2a2a" />
<circle cx="89.14" cy="622.14" r="0.85" fill="#2a2a2a" />
<circle cx="90.63" cy="624.33" r="0.85" fill="#2a2a2a" />
<circle cx="92.12" cy="626.42" r="0.85" fill="#2a2a2a" />
<circle cx="93.61" cy="627.91" r="0.85" fill="#2a2a2a" />
<circle cx="95.10" cy="629.40" r="0.85" fill="#2a2a2a" />
<circle cx="96.60" cy="630.87" r="0.85" fill="#2a2a2a" />
<circle cx="98.09" cy="631.90" r="0.85" fill="#2a2a2a" />
<circle cx="99.58" cy="632.92" r="0.85" fill="#2a2a2a" />
<circle cx="101.07" cy="633.95" r="0.85" fill="#2a2a2a" />
<circle cx="102.56" cy="634.90" r="0.85" fill="#2a2a2a" />
<circle cx="104.06" cy="635.50" r="0.85" fill="#2a2a2a" />
<circle cx="105.55" cy="636.09" r="0.85" fill="#2a2a2a" />
<circle cx="107.04" cy="636.68" r="0.85" fill="#2a2a2a" />
<circle cx="108.53" cy="637.19" r="0.85" fill="#2a2a2a" />
<circle cx="110.02" cy="637.48" r="0.85" fill="#2a2a2a" />
<circle cx="111.52" cy="637.78" r="0.85" fill="#2a2a2a" />
<circle cx="113.01" cy="638.08" r="0.85" fill="#2a2a2a" />
<circle cx="114.50" cy="638.38" r="0.85" fill="#2a2a2a" />
<circle cx="115.99" cy="638.68" r="0.85" fill="#2a2a2a" />
<circle cx="117.48" cy="638.98" r="0.85" fill="#2a2a2a" />
<circle cx="118.98" cy="639.28" r="0.85" fill="#2a2a2a" />
<circle cx="120.47" cy="639.53" r="0.85" fill="#2a2a2a" />
<circle cx="121.96" cy="639.77" r="0.85" fill="#2a2a2a" />
<circle cx="123.45" cy="640.00" r="0.85" fill="#2a2a2a" />
<circle cx="124.94" cy="640.23" r="0.85" fill="#2a2a2a" />
<circle cx="126.44" cy="640.46" r="0.85" fill="#2a2a2a" />
<circle cx="127.93" cy="640.69" r="0.85" fill="#2a2a2a" />
<circle cx="129.42" cy="640.92" r="0.85" fill="#2a2a2a" />
<circle cx="130.91" cy="641.16" r="0.85" fill="#2a2a2a" />
<circle cx="132.40" cy="641.41" r="0.85" fill="#2a2a2a" />
<circle cx="133.90" cy="641.68" r="0.85" fill="#2a2a2a" />
<circle cx="135.39" cy="641.94" r="0.85" fill="#2a2a2a" />
<circle cx="136.88" cy="642.21" r="0.85" fill="#2a2a2a" />
<circle cx="138.37" cy="642.47" r="0.85" fill="#2a2a2a" />
<circle cx="139.86" cy="642.73" r="0.85" fill="#2a2a2a" />
<path d="M39.70,668.00 C39.78,666.35 39.92,661.15 40.20,658.10 C40.48,655.05 41.00,652.70 41.40,649.70 C41.80,646.70 42.27,643.08 42.60,640.10 C42.93,637.12 43.20,634.38 43.40,631.80 C43.60,629.22 43.60,627.18 43.80,624.60 C44.00,622.02 44.35,618.85 44.60,616.30 C44.85,613.75 44.98,611.10 45.30,609.30 C45.62,607.50 46.07,606.50 46.50,605.50 C46.93,604.50 47.23,603.83 47.90,603.30 C48.57,602.77 49.27,602.52 50.50,602.30 C51.73,602.08 53.53,601.95 55.30,602.00 C57.07,602.05 58.98,602.27 61.10,602.60 C63.22,602.93 65.70,603.43 68.00,604.00 C70.30,604.57 72.60,605.32 74.90,606.00 C77.20,606.68 79.30,607.43 81.80,608.10 C84.30,608.77 87.45,609.48 89.90,610.00 C92.35,610.52 93.47,610.53 96.50,611.20 C99.53,611.87 105.02,613.15 108.10,614.00 C111.18,614.85 113.08,615.62 115.00,616.30 C116.92,616.98 116.90,617.32 119.60,618.10 C122.30,618.88 127.67,620.18 131.20,621.00 C134.73,621.82 139.20,622.67 140.80,623.00" fill="none" stroke="#000" stroke-width="1.7"/>
<path d="M39.70,668.00 C39.78,666.35 39.92,661.15 40.20,658.10 C40.48,655.05 41.00,652.70 41.40,649.70 C41.80,646.70 42.27,643.08 42.60,640.10 C42.93,637.12 43.20,634.38 43.40,631.80 C43.60,629.22 43.60,627.18 43.80,624.60 C44.00,622.02 44.37,618.90 44.60,616.30 C44.83,613.70 44.97,611.13 45.20,609.00 C45.43,606.87 45.65,604.98 46.00,603.50 C46.35,602.02 46.58,601.15 47.30,600.10 C48.02,599.05 49.00,597.98 50.30,597.20 C51.60,596.42 53.30,595.73 55.10,595.40 C56.90,595.07 58.95,595.17 61.10,595.20 C63.25,595.23 65.70,595.35 68.00,595.60 C70.30,595.85 72.60,596.32 74.90,596.70 C77.20,597.08 79.30,597.45 81.80,597.90 C84.30,598.35 87.45,598.90 89.90,599.40 C92.35,599.90 93.47,600.18 96.50,600.90 C99.53,601.62 104.25,602.65 108.10,603.70 C111.95,604.75 115.75,605.97 119.60,607.20 C123.45,608.43 127.67,609.87 131.20,611.10 C134.73,612.33 139.20,614.02 140.80,614.60" fill="none" stroke="#000" stroke-width="1.6"/>
<line x1="245.90" y1="588.30" x2="245.90" y2="679.80" stroke="#111" stroke-width="1.2" />
<line x1="245.30" y1="679.20" x2="352.00" y2="679.20" stroke="#111" stroke-width="1.2" />
<line x1="242.50" y1="679.20" x2="245.90" y2="679.20" stroke="#111" stroke-width="1.1" />
<text x="241.3" y="682.4" font-size="9" text-anchor="end" fill="#111" textLength="11.4" lengthAdjust="spacingAndGlyphs" >0.0</text>
<line x1="242.50" y1="650.00" x2="245.90" y2="650.00" stroke="#111" stroke-width="1.1" />
<text x="241.3" y="653.2" font-size="9" text-anchor="end" fill="#111" textLength="11.4" lengthAdjust="spacingAndGlyphs" >0.1</text>
<line x1="242.50" y1="620.80" x2="245.90" y2="620.80" stroke="#111" stroke-width="1.1" />
<text x="241.3" y="624.0" font-size="9" text-anchor="end" fill="#111" textLength="11.4" lengthAdjust="spacingAndGlyphs" >0.2</text>
<line x1="242.50" y1="591.60" x2="245.90" y2="591.60" stroke="#111" stroke-width="1.1" />
<text x="241.3" y="594.8" font-size="9" text-anchor="end" fill="#111" textLength="11.4" lengthAdjust="spacingAndGlyphs" >0.3</text>
<line x1="246.50" y1="679.80" x2="246.50" y2="682.40" stroke="#111" stroke-width="1.0" />
<text x="246.5" y="690.9" font-size="9" text-anchor="middle" fill="#111" >0</text>
<line x1="281.20" y1="679.80" x2="281.20" y2="682.40" stroke="#111" stroke-width="1.0" />
<text x="281.2" y="690.9" font-size="9" text-anchor="middle" fill="#111" >10</text>
<line x1="315.90" y1="679.80" x2="315.90" y2="682.40" stroke="#111" stroke-width="1.0" />
<text x="315.9" y="690.9" font-size="9" text-anchor="middle" fill="#111" >20</text>
<line x1="350.60" y1="679.80" x2="350.60" y2="682.40" stroke="#111" stroke-width="1.0" />
<text x="350.6" y="690.9" font-size="9" text-anchor="middle" fill="#111" >30</text>
<text x="279.4" y="704.2" font-size="10" text-anchor="start" fill="#111" textLength="37.4" lengthAdjust="spacingAndGlyphs" >Time (min)</text>
<text transform="translate(222.4,652.9) rotate(-90)" font-size="9.6" textLength="11.9" lengthAdjust="spacingAndGlyphs">Abs</text>
<text transform="translate(223.8,641.0) rotate(-90)" font-size="6.2" style="stroke-width:0.15px" textLength="25.0" lengthAdjust="spacingAndGlyphs">(405 nm)</text>
<text x="268.6" y="573.2" font-size="9.2" text-anchor="start" fill="#111" textLength="24.3" lengthAdjust="spacingAndGlyphs" >+ t-PA</text>
<line x1="280.80" y1="576.00" x2="280.80" y2="584.00" stroke="#111" stroke-width="1.1" />
<path d="M280.8,587.8 L278.7,583.0 L282.9,583.0 Z" fill="#111" />
<line x1="327.00" y1="567.10" x2="332.20" y2="567.10" stroke="#111" stroke-width="0.8" />
<path d="M328.1,567.1 L329.6,565.6 L331.1,567.1 L329.6,568.6 Z" fill="#111" />
<text x="335.2" y="569.7" font-size="7.5" text-anchor="start" fill="#111" textLength="30.2" lengthAdjust="spacingAndGlyphs" style="stroke-width:0.12px">t-PA only</text>
<line x1="327.00" y1="577.10" x2="332.20" y2="577.10" stroke="#111" stroke-width="0.8" />
<path d="M328.1,577.1 L329.6,575.6 L331.1,577.1 L329.6,578.6 Z" fill="#111" />
<text x="335.2" y="579.7" font-size="7.5" text-anchor="start" fill="#111" textLength="59.5" lengthAdjust="spacingAndGlyphs" style="stroke-width:0.12px">+ WT ADAMTS13</text>
<line x1="327.00" y1="586.80" x2="332.20" y2="586.80" stroke="#333" stroke-width="0.8" />
<path d="M328.1,586.8 L329.6,585.3 L331.1,586.8 L329.6,588.3 Z" fill="#333" />
<text x="335.2" y="589.4" font-size="7.5" text-anchor="start" fill="#111" textLength="74.1" lengthAdjust="spacingAndGlyphs" style="stroke-width:0.12px">+ A1144V ADAMTS13</text>
<path d="M249.00,676.00 L251.00,668.00 L253.00,650.00 L255.00,636.00 L256.50,625.00 L257.70,616.20 L260.00,606.90 L263.50,596.50 L266.30,592.50 L271.50,590.80 L279.60,590.20 L291.20,590.80 L305.00,591.30 L320.00,592.50 L335.00,594.00 L350.80,596.00 L350.80,604.80 L320.00,605.50 L300.00,606.50 L280.00,608.50 L270.00,611.00 L266.00,614.00 L263.00,619.00 L260.00,626.00 L258.00,632.00 L256.50,640.00 L255.00,650.00 L253.00,662.00 L251.00,674.00 L249.00,679.00 Z" fill="url(#hatchL)"/>
<path d="M257.70,616.20 C258.08,614.65 259.03,610.18 260.00,606.90 C260.97,603.62 262.45,598.90 263.50,596.50 C264.55,594.10 264.97,593.45 266.30,592.50 C267.63,591.55 269.28,591.18 271.50,590.80 C273.72,590.42 276.32,590.20 279.60,590.20 C282.88,590.20 286.97,590.62 291.20,590.80 C295.43,590.98 300.20,591.02 305.00,591.30 C309.80,591.58 315.00,592.05 320.00,592.50 C325.00,592.95 329.87,593.42 335.00,594.00 C340.13,594.58 348.17,595.67 350.80,596.00" fill="none" stroke="#bbb" stroke-width="0.6"/>
<path d="M304.00,600.50 L309.20,602.00 L313.00,603.50 L316.20,605.50 L318.50,608.50 L320.80,612.50 L323.00,617.00 L325.40,622.00 L327.70,628.50 L330.00,635.50 L332.30,643.50 L334.60,651.50 L337.00,659.50 L339.20,666.50 L341.50,671.50 L343.80,675.50 L347.00,678.00 L350.80,678.80 L350.80,679.00 L347.00,679.00 L343.80,678.30 L341.50,676.50 L339.20,673.50 L337.00,669.00 L334.60,662.50 L332.30,655.00 L330.00,647.50 L327.70,640.50 L325.40,633.50 L323.00,627.50 L320.80,622.00 L318.50,617.00 L316.20,613.00 L313.00,609.50 L309.20,606.50 L304.00,604.00 Z" fill="url(#hatchL)"/>
<path d="M246.90,679.20 C247.17,678.87 247.87,678.73 248.50,677.20 C249.13,675.67 249.95,673.53 250.70,670.00 C251.45,666.47 252.13,660.73 253.00,656.00 C253.87,651.27 255.10,645.55 255.90,641.60 C256.70,637.65 257.15,635.00 257.80,632.30 C258.45,629.60 259.15,627.48 259.80,625.40 C260.45,623.32 261.07,621.45 261.70,619.80 C262.33,618.15 262.88,617.05 263.60,615.50 C264.32,613.95 265.25,611.95 266.00,610.50 C266.75,609.05 267.27,607.88 268.10,606.80 C268.93,605.72 270.05,604.77 271.00,604.00 C271.95,603.23 272.37,602.78 273.80,602.20 C275.23,601.62 277.53,600.85 279.60,600.50 C281.67,600.15 284.27,600.18 286.20,600.10 C288.13,600.02 289.28,599.88 291.20,600.00 C293.12,600.12 295.57,600.42 297.70,600.80 C299.83,601.18 302.08,601.62 304.00,602.30 C305.92,602.98 307.70,604.07 309.20,604.90 C310.70,605.73 311.83,606.37 313.00,607.30 C314.17,608.23 315.28,609.38 316.20,610.50 C317.12,611.62 317.73,612.67 318.50,614.00 C319.27,615.33 320.05,616.92 320.80,618.50 C321.55,620.08 322.23,621.75 323.00,623.50 C323.77,625.25 324.62,627.00 325.40,629.00 C326.18,631.00 326.93,633.25 327.70,635.50 C328.47,637.75 329.23,640.00 330.00,642.50 C330.77,645.00 331.53,647.83 332.30,650.50 C333.07,653.17 333.82,656.00 334.60,658.50 C335.38,661.00 336.23,663.38 337.00,665.50 C337.77,667.62 338.45,669.65 339.20,671.20 C339.95,672.75 340.73,673.83 341.50,674.80 C342.27,675.77 342.88,676.42 343.80,677.00 C344.72,677.58 345.83,678.00 347.00,678.30 C348.17,678.60 350.17,678.72 350.80,678.80" fill="none" stroke="#333" stroke-width="1.2"/>
<circle cx="246.90" cy="679.20" r="0.9" fill="#333" />
<circle cx="248.63" cy="676.77" r="0.9" fill="#333" />
<circle cx="250.36" cy="671.11" r="0.9" fill="#333" />
<circle cx="252.09" cy="661.54" r="0.9" fill="#333" />
<circle cx="253.82" cy="651.93" r="0.9" fill="#333" />
<circle cx="255.55" cy="643.34" r="0.9" fill="#333" />
<circle cx="257.28" cy="634.85" r="0.9" fill="#333" />
<circle cx="259.01" cy="628.13" r="0.9" fill="#333" />
<circle cx="260.74" cy="622.63" r="0.9" fill="#333" />
<circle cx="262.47" cy="618.06" r="0.9" fill="#333" />
<circle cx="264.20" cy="614.25" r="0.9" fill="#333" />
<circle cx="265.93" cy="610.65" r="0.9" fill="#333" />
<circle cx="267.66" cy="607.58" r="0.9" fill="#333" />
<circle cx="269.39" cy="605.55" r="0.9" fill="#333" />
<circle cx="271.12" cy="603.92" r="0.9" fill="#333" />
<circle cx="272.85" cy="602.81" r="0.9" fill="#333" />
<circle cx="274.58" cy="601.97" r="0.9" fill="#333" />
<circle cx="276.31" cy="601.46" r="0.9" fill="#333" />
<circle cx="278.04" cy="600.96" r="0.9" fill="#333" />
<circle cx="279.77" cy="600.49" r="0.9" fill="#333" />
<circle cx="281.50" cy="600.38" r="0.9" fill="#333" />
<circle cx="283.23" cy="600.28" r="0.9" fill="#333" />
<circle cx="284.96" cy="600.18" r="0.9" fill="#333" />
<circle cx="286.69" cy="600.09" r="0.9" fill="#333" />
<circle cx="288.42" cy="600.06" r="0.9" fill="#333" />
<circle cx="290.15" cy="600.02" r="0.9" fill="#333" />
<circle cx="291.88" cy="600.08" r="0.9" fill="#333" />
<circle cx="293.61" cy="600.30" r="0.9" fill="#333" />
<circle cx="295.34" cy="600.51" r="0.9" fill="#333" />
<circle cx="297.07" cy="600.72" r="0.9" fill="#333" />
<circle cx="298.80" cy="601.06" r="0.9" fill="#333" />
<circle cx="300.53" cy="601.47" r="0.9" fill="#333" />
<circle cx="302.26" cy="601.89" r="0.9" fill="#333" />
<circle cx="303.99" cy="602.30" r="0.9" fill="#333" />
<circle cx="305.72" cy="603.16" r="0.9" fill="#333" />
<circle cx="307.45" cy="604.02" r="0.9" fill="#333" />
<circle cx="309.18" cy="604.89" r="0.9" fill="#333" />
<circle cx="310.91" cy="605.98" r="0.9" fill="#333" />
<circle cx="312.64" cy="607.07" r="0.9" fill="#333" />
<circle cx="314.37" cy="608.67" r="0.9" fill="#333" />
<circle cx="316.10" cy="610.40" r="0.9" fill="#333" />
<circle cx="317.83" cy="612.98" r="0.9" fill="#333" />
<circle cx="319.56" cy="616.07" r="0.9" fill="#333" />
<circle cx="321.29" cy="619.61" r="0.9" fill="#333" />
<circle cx="323.02" cy="623.55" r="0.9" fill="#333" />
<circle cx="324.75" cy="627.51" r="0.9" fill="#333" />
<circle cx="326.48" cy="632.05" r="0.9" fill="#333" />
<circle cx="328.21" cy="637.05" r="0.9" fill="#333" />
<circle cx="329.94" cy="642.32" r="0.9" fill="#333" />
<circle cx="331.67" cy="648.31" r="0.9" fill="#333" />
<circle cx="333.40" cy="654.33" r="0.9" fill="#333" />
<circle cx="335.13" cy="660.05" r="0.9" fill="#333" />
<circle cx="336.86" cy="665.09" r="0.9" fill="#333" />
<circle cx="338.59" cy="669.62" r="0.9" fill="#333" />
<circle cx="340.32" cy="672.95" r="0.9" fill="#333" />
<circle cx="342.05" cy="675.33" r="0.9" fill="#333" />
<circle cx="343.78" cy="676.98" r="0.9" fill="#333" />
<circle cx="345.51" cy="677.69" r="0.9" fill="#333" />
<circle cx="347.24" cy="678.33" r="0.9" fill="#333" />
<circle cx="348.97" cy="678.56" r="0.9" fill="#333" />
<circle cx="350.70" cy="678.79" r="0.9" fill="#333" />
<path d="M246.90,679.20 C247.17,678.87 247.87,678.73 248.50,677.20 C249.13,675.67 249.95,673.53 250.70,670.00 C251.45,666.47 252.13,660.73 253.00,656.00 C253.87,651.27 255.10,645.52 255.90,641.60 C256.70,637.68 257.15,635.10 257.80,632.50 C258.45,629.90 259.15,627.92 259.80,626.00 C260.45,624.08 261.07,622.42 261.70,621.00 C262.33,619.58 262.92,618.50 263.60,617.50 C264.28,616.50 265.05,615.62 265.80,615.00 C266.55,614.38 266.77,614.47 268.10,613.80 C269.43,613.13 271.88,611.77 273.80,611.00 C275.72,610.23 277.53,609.65 279.60,609.20 C281.67,608.75 284.27,608.53 286.20,608.30 C288.13,608.07 289.28,607.93 291.20,607.80 C293.12,607.67 295.40,607.58 297.70,607.50 C300.00,607.42 301.28,607.47 305.00,607.30 C308.72,607.13 315.45,606.72 320.00,606.50 C324.55,606.28 327.17,606.15 332.30,606.00 C337.43,605.85 347.72,605.67 350.80,605.60" fill="none" stroke="#000" stroke-width="1.7"/>
<path d="M246.90,679.20 C247.17,678.87 247.87,678.73 248.50,677.20 C249.13,675.67 249.95,673.53 250.70,670.00 C251.45,666.47 252.13,660.73 253.00,656.00 C253.87,651.27 255.10,645.60 255.90,641.60 C256.70,637.60 257.15,634.80 257.80,632.00 C258.45,629.20 259.15,626.97 259.80,624.80 C260.45,622.63 261.07,620.72 261.70,619.00 C262.33,617.28 262.92,616.08 263.60,614.50 C264.28,612.92 264.93,611.17 265.80,609.50 C266.67,607.83 267.85,605.83 268.80,604.50 C269.75,603.17 270.47,602.33 271.50,601.50 C272.53,600.67 273.30,600.05 275.00,599.50 C276.70,598.95 279.83,598.52 281.70,598.20 C283.57,597.88 284.62,597.75 286.20,597.60 C287.78,597.45 289.28,597.32 291.20,597.30 C293.12,597.28 294.70,597.30 297.70,597.50 C300.70,597.70 305.35,598.15 309.20,598.50 C313.05,598.85 316.95,599.22 320.80,599.60 C324.65,599.98 327.30,600.33 332.30,600.80 C337.30,601.27 347.72,602.13 350.80,602.40" fill="none" stroke="#000" stroke-width="1.6"/>
</svg>
</body></html>
